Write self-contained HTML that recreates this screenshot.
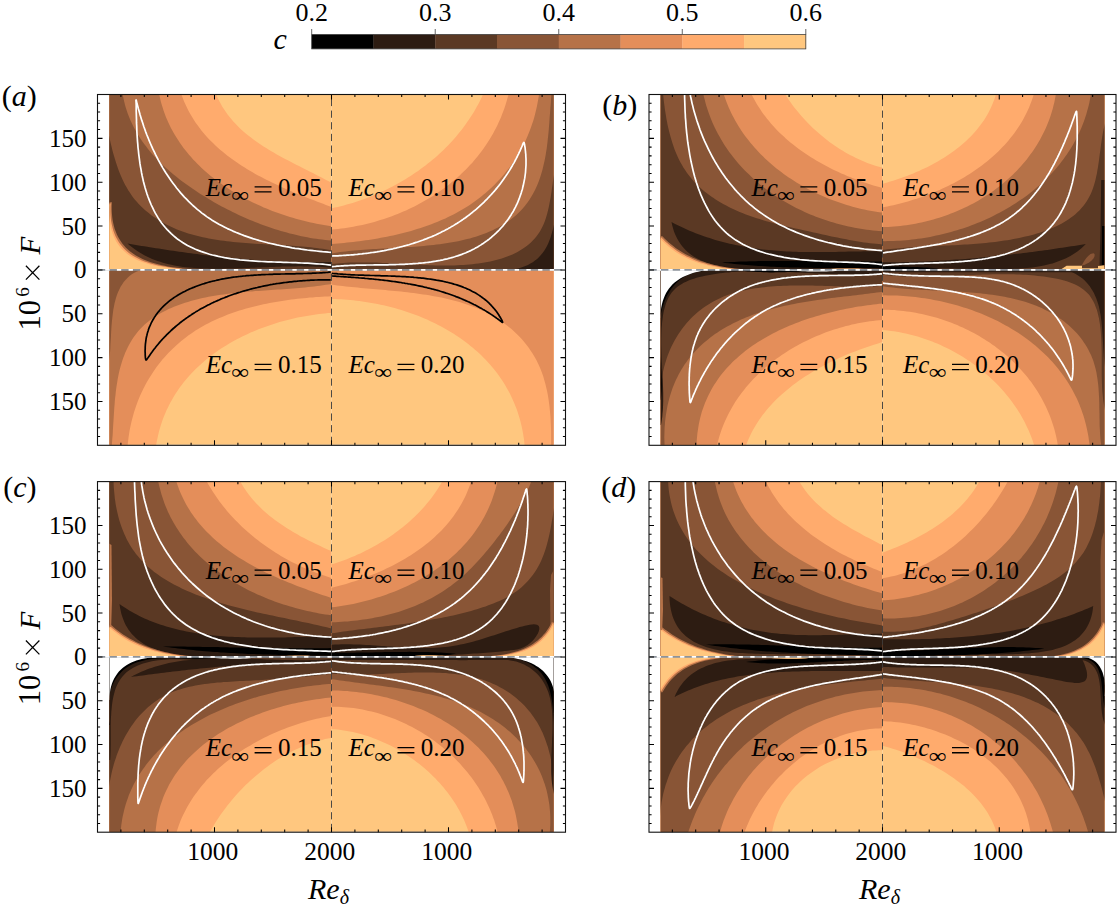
<!DOCTYPE html><html><head><meta charset="utf-8"><style>html,body{margin:0;padding:0;background:#fff;width:1117px;height:912px;overflow:hidden}svg{display:block}text{font-family:"Liberation Serif",serif}</style></head><body>
<svg width="1117" height="912" viewBox="0 0 1117 912">
<defs>
<clipPath id="cp_aUL"><rect x="109.4" y="94.9" width="222.10" height="175.00"/></clipPath>
<clipPath id="cp_aUR"><rect x="331.5" y="94.9" width="222.10" height="175.00"/></clipPath>
<clipPath id="cp_aLL"><rect x="109.4" y="269.9" width="222.10" height="174.90"/></clipPath>
<clipPath id="cp_aLR"><rect x="331.5" y="269.9" width="222.10" height="174.90"/></clipPath>
<clipPath id="cp_bUL"><rect x="660.7" y="94.9" width="221.80" height="175.00"/></clipPath>
<clipPath id="cp_bUR"><rect x="882.5" y="94.9" width="221.90" height="175.00"/></clipPath>
<clipPath id="cp_bLL"><rect x="660.7" y="269.9" width="221.80" height="174.90"/></clipPath>
<clipPath id="cp_bLR"><rect x="882.5" y="269.9" width="221.90" height="174.90"/></clipPath>
<clipPath id="cp_cUL"><rect x="109.4" y="482.1" width="222.10" height="174.80"/></clipPath>
<clipPath id="cp_cUR"><rect x="331.5" y="482.1" width="222.10" height="174.80"/></clipPath>
<clipPath id="cp_cLL"><rect x="109.4" y="656.9" width="222.10" height="174.80"/></clipPath>
<clipPath id="cp_cLR"><rect x="331.5" y="656.9" width="222.10" height="174.80"/></clipPath>
<clipPath id="cp_dUL"><rect x="660.7" y="482.1" width="221.80" height="174.80"/></clipPath>
<clipPath id="cp_dUR"><rect x="882.5" y="482.1" width="221.90" height="174.80"/></clipPath>
<clipPath id="cp_dLL"><rect x="660.7" y="656.9" width="221.80" height="174.80"/></clipPath>
<clipPath id="cp_dLR"><rect x="882.5" y="656.9" width="221.90" height="174.80"/></clipPath>
</defs>
<g clip-path="url(#cp_aUL)">
<path fill="#FFC77F" d="M103.4,88.9H337.5V275.9H103.4Z"/>
<path fill="#FFAB6D" d="M214.5,90.0L215.6,93.0L216.8,95.9L218.1,98.8L219.5,101.6L221.0,104.3L222.5,106.9L224.2,109.5L225.9,112.0L227.6,114.4L229.4,116.8L231.3,119.1L233.3,121.4L235.3,123.6L237.4,125.7L239.6,127.9L241.7,129.9L244.0,131.9L246.3,133.9L248.6,135.8L251.0,137.6L253.4,139.5L255.9,141.3L258.4,143.0L261.0,144.7L263.5,146.4L266.2,148.1L268.8,149.7L271.4,151.3L274.1,152.8L276.8,154.4L279.6,155.9L282.3,157.4L285.1,158.9L287.8,160.3L290.6,161.8L293.4,163.2L296.2,164.7L299.0,166.1L301.8,167.5L304.6,168.9L307.3,170.3L310.1,171.7L312.9,173.1L315.6,174.5L318.4,175.9L321.1,177.3L323.8,178.7L326.5,180.2L329.2,181.6L331.8,183.0L334.4,184.5L337.0,186.0L337.5,275.9L103.4,275.9L103.4,88.9Z"/>
<path fill="#E48E5A" d="M180.0,90.0L181.0,93.0L182.0,96.0L183.1,99.0L184.3,101.9L185.6,104.7L186.9,107.5L188.2,110.2L189.7,112.9L191.2,115.5L192.7,118.1L194.4,120.7L196.0,123.2L197.8,125.6L199.6,128.0L201.4,130.4L203.3,132.7L205.2,134.9L207.2,137.2L209.3,139.4L211.4,141.5L213.5,143.6L215.7,145.7L217.9,147.7L220.1,149.7L222.4,151.6L224.8,153.5L227.1,155.4L229.6,157.3L232.0,159.1L234.5,160.8L237.0,162.6L239.5,164.3L242.1,166.0L244.7,167.6L247.3,169.2L249.9,170.8L252.6,172.3L255.3,173.9L258.0,175.4L260.8,176.8L263.5,178.3L266.3,179.7L269.1,181.1L271.9,182.5L274.7,183.8L277.5,185.1L280.3,186.5L283.2,187.7L286.0,189.0L288.9,190.2L291.7,191.5L294.6,192.7L297.4,193.8L300.3,195.0L303.2,196.2L306.0,197.3L308.9,198.4L311.7,199.5L314.6,200.6L317.4,201.7L320.3,202.8L323.1,203.8L325.9,204.9L328.7,205.9L331.5,207.0L334.2,208.0L337.0,209.0L337.5,275.9L103.4,275.9L103.4,88.9Z"/>
<path fill="#B67248" d="M158.4,90.0L158.9,93.1L159.6,96.2L160.3,99.2L161.0,102.2L161.9,105.2L162.8,108.1L163.7,111.0L164.8,113.9L165.8,116.7L167.0,119.5L168.2,122.3L169.5,125.0L170.8,127.7L172.2,130.3L173.7,132.9L175.2,135.5L176.8,138.1L178.4,140.6L180.0,143.0L181.8,145.5L183.5,147.9L185.4,150.2L187.2,152.6L189.2,154.9L191.1,157.1L193.1,159.4L195.2,161.5L197.3,163.7L199.4,165.8L201.6,167.9L203.8,170.0L206.1,172.0L208.4,173.9L210.7,175.9L213.1,177.8L215.5,179.7L218.0,181.5L220.4,183.3L223.0,185.1L225.5,186.8L228.1,188.5L230.7,190.2L233.3,191.8L235.9,193.4L238.6,194.9L241.3,196.5L244.0,197.9L246.8,199.4L249.5,200.8L252.3,202.2L255.1,203.5L257.9,204.8L260.8,206.1L263.6,207.4L266.5,208.6L269.4,209.7L272.3,210.9L275.2,212.0L278.1,213.0L281.0,214.1L284.0,215.1L286.9,216.0L289.9,216.9L292.8,217.8L295.8,218.7L298.7,219.5L301.7,220.3L304.7,221.0L307.6,221.8L310.6,222.4L313.5,223.1L316.5,223.7L319.4,224.3L322.4,224.8L325.3,225.3L328.3,225.8L331.2,226.2L334.1,226.6L337.0,227.0L337.5,275.9L103.4,275.9L103.4,88.9Z"/>
<path fill="#895536" d="M122.0,90.0L122.4,93.1L123.0,96.1L123.6,99.1L124.3,102.1L125.0,105.0L125.9,107.9L126.8,110.7L127.7,113.5L128.8,116.3L129.9,119.0L131.1,121.7L132.3,124.3L133.6,126.9L135.0,129.5L136.4,132.1L137.9,134.6L139.4,137.1L141.0,139.5L142.7,141.9L144.4,144.3L146.2,146.6L148.0,148.9L149.8,151.2L151.7,153.4L153.7,155.7L155.7,157.8L157.7,160.0L159.8,162.1L162.0,164.2L164.1,166.3L166.3,168.3L168.6,170.3L170.9,172.3L173.2,174.2L175.5,176.1L177.9,178.0L180.3,179.9L182.7,181.7L185.2,183.5L187.7,185.3L190.2,187.1L192.7,188.8L195.3,190.5L197.8,192.2L200.4,193.9L203.0,195.5L205.7,197.1L208.3,198.7L210.9,200.3L213.6,201.9L216.3,203.4L219.0,204.9L221.7,206.4L224.4,207.8L227.1,209.2L229.9,210.6L232.6,212.0L235.4,213.3L238.2,214.7L241.0,215.9L243.8,217.2L246.6,218.4L249.4,219.7L252.2,220.8L255.1,222.0L257.9,223.1L260.7,224.2L263.6,225.3L266.5,226.3L269.4,227.3L272.2,228.3L275.1,229.2L278.0,230.1L280.9,231.0L283.9,231.8L286.8,232.6L289.7,233.4L292.6,234.1L295.6,234.8L298.5,235.5L301.4,236.2L304.4,236.8L307.3,237.3L310.3,237.9L313.3,238.4L316.2,238.8L319.2,239.2L322.1,239.6L325.1,240.0L328.1,240.3L331.1,240.6L334.0,240.8L337.0,241.0L337.5,275.9L103.4,275.9L103.4,88.9Z"/>
<path fill="#5B3924" d="M106.0,120.0L106.6,122.9L107.1,125.9L107.7,128.9L108.3,131.9L108.9,135.0L109.6,138.0L110.2,141.1L110.9,144.1L111.7,147.2L112.4,150.3L113.2,153.3L114.1,156.3L115.0,159.3L115.9,162.3L116.9,165.3L117.9,168.2L119.0,171.2L120.1,174.0L121.3,176.8L122.5,179.6L123.8,182.3L125.2,185.0L126.7,187.6L128.2,190.2L129.8,192.6L131.4,195.0L133.1,197.4L134.9,199.7L136.8,201.8L138.7,204.0L140.7,206.0L142.8,208.0L144.9,210.0L147.1,211.8L149.3,213.6L151.6,215.4L153.9,217.0L156.3,218.6L158.8,220.2L161.2,221.7L163.8,223.1L166.3,224.5L169.0,225.8L171.6,227.0L174.3,228.2L177.0,229.4L179.8,230.4L182.5,231.5L185.4,232.4L188.2,233.4L191.1,234.2L193.9,235.0L196.8,235.8L199.8,236.5L202.7,237.2L205.7,237.8L208.7,238.4L211.7,239.0L214.7,239.5L217.8,240.0L220.8,240.4L223.9,240.8L226.9,241.2L230.0,241.6L233.1,241.9L236.2,242.2L239.3,242.5L242.5,242.8L245.6,243.0L248.7,243.2L251.9,243.5L255.0,243.7L258.1,243.9L261.3,244.0L264.4,244.2L267.6,244.4L270.7,244.6L273.8,244.7L277.0,244.9L280.1,245.1L283.2,245.2L286.3,245.4L289.4,245.6L292.5,245.8L295.6,246.0L298.7,246.3L301.7,246.5L304.8,246.8L307.8,247.0L310.8,247.3L313.8,247.7L316.8,248.0L319.7,248.4L322.7,248.8L325.6,249.2L328.5,249.7L331.3,250.2L334.2,250.7L337.0,251.3L337.5,275.9L103.4,275.9L103.4,120.0Z"/>
<path fill="#2D1C12" d="M127.5,243.5L130.3,244.0L133.1,244.4L135.9,244.9L138.7,245.4L141.5,245.9L144.3,246.3L147.2,246.8L150.0,247.3L152.9,247.7L155.8,248.2L158.7,248.6L161.6,249.1L164.5,249.5L167.4,250.0L170.3,250.4L173.2,250.8L176.2,251.3L179.1,251.7L182.1,252.1L185.1,252.5L188.0,252.9L191.0,253.3L194.0,253.7L197.0,254.1L200.0,254.5L203.0,254.9L206.0,255.2L209.0,255.6L212.0,255.9L215.1,256.3L218.1,256.6L221.1,256.9L224.2,257.3L227.2,257.6L230.2,257.9L233.3,258.2L236.4,258.5L239.4,258.8L242.5,259.0L245.5,259.3L248.6,259.5L251.6,259.8L254.7,260.0L257.8,260.2L260.8,260.4L263.9,260.6L267.0,260.8L270.0,261.0L273.1,261.2L276.2,261.3L279.2,261.5L282.3,261.6L285.4,261.7L288.4,261.8L291.5,261.9L294.6,262.0L297.6,262.1L300.7,262.1L303.7,262.2L306.8,262.2L309.8,262.2L312.8,262.2L315.9,262.2L318.9,262.2L321.9,262.1L325.0,262.1L328.0,262.0L331.0,261.9L334.0,261.8L337.0,261.7L337.0,268.3L334.1,268.0L331.1,267.7L328.2,267.4L325.2,267.2L322.2,267.0L319.2,266.8L316.2,266.7L313.2,266.5L310.2,266.5L307.1,266.4L304.1,266.4L301.0,266.3L297.9,266.3L294.8,266.4L291.7,266.4L288.6,266.5L285.5,266.5L282.4,266.6L279.3,266.7L276.2,266.8L273.0,266.9L269.9,267.0L266.8,267.2L263.6,267.3L260.5,267.4L257.3,267.6L254.2,267.7L251.0,267.8L247.9,268.0L244.7,268.1L241.6,268.2L238.4,268.3L235.3,268.4L232.2,268.5L229.0,268.6L225.9,268.6L222.8,268.7L219.6,268.7L216.5,268.7L213.4,268.7L210.3,268.7L207.2,268.6L204.2,268.6L201.1,268.4L198.1,268.3L195.0,268.1L192.0,267.8L189.0,267.6L186.0,267.2L183.1,266.9L180.1,266.4L177.2,266.0L174.3,265.4L171.4,264.8L168.6,264.2L165.8,263.5L163.0,262.7L160.2,261.8L157.5,260.9L154.8,259.9L152.1,258.9L149.5,257.7L146.9,256.5L144.3,255.2L141.8,253.8L139.3,252.3L136.9,250.8L134.5,249.1L132.1,247.3L129.8,245.5L127.5,243.5Z"/>
<path fill="#B67248" d="M103.4,202.2L111.9,202.2L111.7,206.0L111.7,209.7L111.9,213.3L112.2,216.7L112.6,219.9L113.2,223.1L113.9,226.0L114.7,228.9L115.7,231.6L116.8,234.2L118.0,236.7L119.3,239.1L120.8,241.3L122.3,243.4L124.0,245.5L125.7,247.4L127.6,249.2L129.5,250.9L131.6,252.5L133.7,254.0L135.9,255.4L138.2,256.8L140.6,258.0L143.0,259.2L145.5,260.2L148.1,261.2L150.8,262.2L153.5,263.0L156.2,263.8L159.0,264.6L161.9,265.2L164.8,265.8L167.7,266.4L170.7,266.9L173.7,267.3L176.8,267.7L179.9,268.1L183.0,268.4L186.1,268.7L189.2,269.0L192.4,269.2L195.5,269.4L198.7,269.5L201.9,269.7L205.1,269.8L208.2,269.9L211.4,270.0L214.6,270.1L217.7,270.1L220.9,270.2L224.0,270.2L227.2,270.2L230.3,270.2L233.5,270.2L236.6,270.2L239.8,270.2L242.9,270.2L246.0,270.1L249.1,270.1L252.3,270.1L255.4,270.0L258.5,270.0L261.6,269.9L264.7,269.9L267.8,269.8L270.9,269.7L274.0,269.7L277.0,269.6L280.1,269.6L283.2,269.6L286.2,269.5L289.3,269.5L292.3,269.5L295.3,269.5L298.4,269.4L301.4,269.5L304.4,269.5L307.4,269.5L310.4,269.5L313.4,269.6L316.4,269.7L319.4,269.7L322.3,269.8L325.3,270.0L328.2,270.1L331.2,270.2L334.1,270.4L337.0,270.6L337.5,275.9L103.4,275.9Z"/>
<path fill="#FFAB6D" d="M103.4,203.5L110.6,203.5L110.4,207.4L110.4,211.2L110.5,214.7L110.8,218.2L111.2,221.5L111.8,224.6L112.5,227.6L113.3,230.5L114.3,233.3L115.4,235.9L116.6,238.3L118.0,240.7L119.4,242.9L121.0,245.0L122.6,247.0L124.4,248.9L126.3,250.7L128.3,252.4L130.3,253.9L132.5,255.4L134.7,256.8L137.1,258.1L139.5,259.3L142.0,260.4L144.5,261.4L147.1,262.3L149.8,263.2L152.5,264.0L155.3,264.8L158.2,265.4L161.1,266.0L164.0,266.6L167.0,267.1L170.0,267.5L173.1,267.9L176.1,268.3L179.3,268.6L182.4,268.9L185.5,269.1L188.7,269.3L191.9,269.5L195.1,269.6L198.2,269.7L201.4,269.8L204.6,269.9L207.8,270.0L211.0,270.1L214.1,270.1L217.3,270.2L220.5,270.2L223.6,270.2L226.8,270.2L229.9,270.2L233.1,270.2L236.2,270.2L239.4,270.1L242.5,270.1L245.6,270.1L248.8,270.0L251.9,270.0L255.0,269.9L258.1,269.9L261.2,269.8L264.3,269.8L267.4,269.7L270.5,269.7L273.6,269.7L276.7,269.6L279.7,269.6L282.8,269.5L285.9,269.5L288.9,269.5L292.0,269.5L295.0,269.5L298.1,269.5L301.1,269.5L304.1,269.5L307.1,269.5L310.2,269.6L313.2,269.6L316.2,269.7L319.2,269.8L322.1,269.9L325.1,270.0L328.1,270.1L331.1,270.3L334.0,270.4L337.0,270.6L337.5,275.9L103.4,275.9Z"/>
<path fill="#FFC77F" d="M103.4,204.7L109.4,204.7L109.2,208.6L109.2,212.4L109.3,216.0L109.5,219.4L109.9,222.7L110.5,225.9L111.2,228.9L112.0,231.8L112.9,234.5L114.0,237.1L115.2,239.6L116.5,241.9L117.9,244.1L119.5,246.2L121.1,248.2L122.9,250.0L124.8,251.8L126.7,253.4L128.8,255.0L130.9,256.4L133.1,257.7L135.4,259.0L137.8,260.2L140.3,261.2L142.8,262.2L145.4,263.1L148.1,264.0L150.8,264.7L153.6,265.4L156.4,266.1L159.3,266.6L162.2,267.1L165.2,267.6L168.2,268.0L171.2,268.3L174.3,268.7L177.4,268.9L180.5,269.2L183.6,269.4L186.8,269.5L189.9,269.7L193.1,269.8L196.3,269.9L199.4,269.9L202.6,270.0L205.8,270.0L208.9,270.1L212.1,270.1L215.2,270.1L218.4,270.2L221.5,270.2L224.6,270.2L227.7,270.1L230.9,270.1L234.0,270.1L237.1,270.1L240.2,270.1L243.3,270.0L246.4,270.0L249.4,269.9L252.5,269.9L255.6,269.9L258.7,269.8L261.7,269.8L264.8,269.7L267.9,269.7L270.9,269.7L274.0,269.6L277.0,269.6L280.0,269.6L283.1,269.5L286.1,269.5L289.1,269.5L292.1,269.5L295.2,269.5L298.2,269.5L301.2,269.5L304.2,269.6L307.2,269.6L310.2,269.6L313.2,269.7L316.2,269.8L319.1,269.8L322.1,269.9L325.1,270.0L328.1,270.2L331.1,270.3L334.0,270.4L337.0,270.6L337.5,275.9L103.4,275.9Z"/>
</g>
<g clip-path="url(#cp_aUR)">
<path fill="#FFC77F" d="M325.5,88.9H559.6V275.9H325.5Z"/>
<path fill="#FFAB6D" d="M326.0,209.5L329.0,208.9L332.0,208.3L334.9,207.6L337.9,206.9L340.9,206.2L343.8,205.4L346.7,204.6L349.7,203.7L352.6,202.9L355.5,201.9L358.4,201.0L361.3,200.0L364.2,199.0L367.0,197.9L369.9,196.8L372.7,195.6L375.5,194.5L378.3,193.3L381.1,192.0L383.9,190.7L386.7,189.4L389.4,188.1L392.1,186.7L394.8,185.3L397.5,183.8L400.1,182.3L402.8,180.8L405.4,179.2L408.0,177.6L410.6,176.0L413.1,174.3L415.6,172.6L418.1,170.9L420.6,169.1L423.0,167.3L425.5,165.5L427.8,163.6L430.2,161.8L432.5,159.8L434.8,157.9L437.1,155.9L439.4,153.8L441.6,151.8L443.8,149.7L445.9,147.5L448.0,145.4L450.1,143.2L452.2,141.0L454.2,138.7L456.2,136.4L458.1,134.1L460.0,131.8L461.9,129.4L463.7,127.0L465.5,124.5L467.2,122.1L469.0,119.6L470.6,117.0L472.3,114.5L473.9,111.9L475.4,109.2L476.9,106.6L478.4,103.9L479.8,101.2L481.2,98.4L482.5,95.6L483.8,92.8L485.0,90.0L559.6,88.9L559.6,275.9L325.5,275.9Z"/>
<path fill="#E48E5A" d="M326.0,230.0L329.0,229.8L332.1,229.5L335.1,229.3L338.2,228.9L341.2,228.6L344.3,228.2L347.3,227.7L350.3,227.2L353.4,226.7L356.4,226.1L359.4,225.5L362.4,224.9L365.4,224.2L368.4,223.4L371.4,222.7L374.3,221.9L377.3,221.0L380.2,220.1L383.2,219.2L386.1,218.2L389.0,217.2L391.9,216.2L394.8,215.1L397.6,214.0L400.5,212.8L403.3,211.6L406.1,210.4L408.9,209.1L411.6,207.8L414.4,206.4L417.1,205.0L419.8,203.6L422.5,202.1L425.1,200.6L427.8,199.1L430.4,197.5L432.9,195.9L435.5,194.2L438.0,192.5L440.5,190.8L443.0,189.1L445.4,187.3L447.8,185.4L450.2,183.5L452.5,181.6L454.8,179.7L457.1,177.7L459.4,175.7L461.6,173.6L463.7,171.6L465.9,169.4L468.0,167.3L470.0,165.1L472.1,162.9L474.1,160.6L476.0,158.3L477.9,156.0L479.8,153.6L481.6,151.2L483.4,148.8L485.1,146.3L486.8,143.8L488.4,141.3L490.0,138.7L491.6,136.1L493.1,133.5L494.5,130.8L496.0,128.1L497.3,125.4L498.6,122.6L499.9,119.8L501.1,116.9L502.2,114.1L503.3,111.2L504.4,108.3L505.4,105.3L506.3,102.3L507.2,99.3L508.0,96.2L508.8,93.1L509.5,90.0L559.6,88.9L559.6,275.9L325.5,275.9Z"/>
<path fill="#B67248" d="M326.0,244.5L329.0,244.3L332.0,244.0L335.0,243.8L338.1,243.5L341.1,243.2L344.1,242.9L347.2,242.6L350.2,242.3L353.3,241.9L356.4,241.6L359.4,241.2L362.5,240.8L365.6,240.3L368.6,239.9L371.7,239.4L374.8,238.9L377.8,238.4L380.9,237.8L383.9,237.3L387.0,236.7L390.0,236.0L393.1,235.4L396.1,234.7L399.1,234.0L402.1,233.3L405.1,232.5L408.1,231.7L411.1,230.9L414.0,230.0L417.0,229.1L419.9,228.2L422.8,227.3L425.7,226.3L428.6,225.3L431.4,224.2L434.3,223.1L437.1,222.0L439.9,220.8L442.7,219.6L445.4,218.4L448.1,217.1L450.8,215.8L453.5,214.4L456.2,213.0L458.8,211.6L461.4,210.1L464.0,208.6L466.5,207.0L469.0,205.4L471.5,203.7L473.9,202.0L476.3,200.3L478.7,198.5L481.0,196.7L483.3,194.8L485.6,192.9L487.8,190.9L490.0,189.0L492.2,186.9L494.3,184.9L496.4,182.7L498.5,180.6L500.5,178.4L502.4,176.2L504.3,173.9L506.2,171.6L508.1,169.3L509.9,166.9L511.6,164.5L513.3,162.0L515.0,159.6L516.6,157.0L518.1,154.5L519.7,151.9L521.1,149.3L522.6,146.6L523.9,143.9L525.3,141.2L526.5,138.4L527.8,135.6L528.9,132.8L530.0,129.9L531.1,127.1L532.1,124.1L533.1,121.2L534.0,118.2L534.8,115.2L535.6,112.1L536.3,109.1L537.0,105.9L537.6,102.8L538.2,99.6L538.7,96.5L539.1,93.2L539.5,90.0L559.6,88.9L559.6,275.9L325.5,275.9Z"/>
<path fill="#895536" d="M326.0,254.4L328.8,253.9L331.5,253.4L334.3,252.9L337.2,252.5L340.1,252.1L343.0,251.7L345.9,251.4L348.8,251.1L351.8,250.8L354.8,250.5L357.8,250.2L360.9,250.0L363.9,249.7L367.0,249.5L370.1,249.3L373.2,249.1L376.4,248.9L379.5,248.8L382.6,248.6L385.8,248.4L389.0,248.2L392.2,248.1L395.3,247.9L398.5,247.7L401.7,247.5L404.9,247.3L408.1,247.1L411.3,246.9L414.5,246.7L417.7,246.5L420.8,246.2L424.0,245.9L427.2,245.6L430.3,245.3L433.5,245.0L436.6,244.6L439.8,244.2L442.9,243.8L446.0,243.3L449.0,242.8L452.1,242.3L455.1,241.8L458.2,241.2L461.2,240.5L464.1,239.8L467.1,239.1L470.0,238.4L472.9,237.5L475.8,236.7L478.6,235.8L481.4,234.8L484.2,233.8L486.9,232.7L489.6,231.6L492.3,230.4L494.9,229.1L497.5,227.8L500.0,226.4L502.5,225.0L505.0,223.5L507.4,221.9L509.7,220.3L512.0,218.6L514.2,216.8L516.3,215.0L518.4,213.0L520.4,211.0L522.3,209.0L524.2,206.8L526.0,204.6L527.7,202.3L529.3,200.0L530.8,197.6L532.3,195.1L533.7,192.5L535.0,189.9L536.3,187.2L537.5,184.5L538.6,181.7L539.6,178.9L540.6,176.0L541.5,173.1L542.4,170.1L543.1,167.1L543.8,164.1L544.5,161.0L545.1,157.9L545.7,154.8L546.2,151.6L546.7,148.5L547.1,145.3L547.5,142.1L547.8,138.9L548.2,135.7L548.5,132.5L548.8,129.3L549.0,126.2L549.3,123.0L549.5,119.8L549.7,116.7L550.0,113.6L550.2,110.5L550.4,107.5L550.7,104.4L550.9,101.5L551.1,98.5L551.4,95.6L551.7,92.8L552.0,90.0L559.6,88.9L559.6,275.9L325.5,275.9Z"/>
<path fill="#5B3924" d="M326.0,264.9L328.9,264.5L331.8,264.1L334.7,263.7L337.6,263.4L340.6,263.2L343.5,263.0L346.5,262.8L349.5,262.6L352.5,262.5L355.5,262.4L358.5,262.4L361.5,262.4L364.6,262.4L367.6,262.4L370.7,262.5L373.7,262.6L376.8,262.6L379.9,262.8L383.0,262.9L386.1,263.0L389.1,263.2L392.2,263.3L395.4,263.5L398.5,263.7L401.6,263.8L404.7,264.0L407.8,264.2L410.9,264.4L414.0,264.5L417.1,264.7L420.3,264.8L423.4,265.0L426.5,265.1L429.6,265.2L432.7,265.3L435.8,265.4L438.9,265.5L442.0,265.5L445.1,265.5L448.2,265.5L451.2,265.5L454.3,265.4L457.4,265.3L460.4,265.1L463.5,265.0L466.5,264.7L469.5,264.5L472.5,264.2L475.5,263.8L478.5,263.5L481.5,263.0L484.5,262.5L487.4,262.0L490.3,261.4L493.2,260.8L496.1,260.0L499.0,259.3L501.8,258.4L504.5,257.5L507.2,256.6L509.9,255.5L512.5,254.4L515.0,253.2L517.5,251.9L519.9,250.6L522.3,249.1L524.6,247.6L526.7,246.0L528.9,244.3L530.9,242.5L532.8,240.6L534.7,238.6L536.4,236.5L538.0,234.3L539.6,232.0L541.0,229.6L542.3,227.1L543.5,224.5L544.6,221.8L545.6,219.0L546.5,216.1L547.3,213.2L548.1,210.1L548.8,207.1L549.4,204.0L550.0,200.8L550.6,197.7L551.1,194.5L551.6,191.3L552.0,188.1L552.5,184.9L552.9,181.7L553.4,178.5L553.9,175.4L554.3,172.3L554.8,169.2L555.4,166.2L556.0,163.3L556.6,160.5L557.3,157.7L558.0,155.0L559.6,155.0L559.6,275.9L325.5,275.9Z"/>
<path fill="#2D1C12" d="M470.0,270.0L473.1,270.3L476.2,270.6L479.4,270.9L482.6,271.1L485.8,271.3L489.1,271.3L492.3,271.4L495.5,271.3L498.7,271.2L501.9,271.0L505.0,270.7L508.1,270.4L511.2,269.9L514.2,269.3L517.1,268.7L519.9,267.9L522.7,267.0L525.4,266.0L528.0,264.9L530.4,263.6L532.8,262.2L535.0,260.6L537.1,259.0L539.1,257.1L540.9,255.1L542.6,253.0L544.2,250.8L545.6,248.4L547.0,245.9L548.2,243.4L549.3,240.7L550.4,237.9L551.3,235.1L552.1,232.2L552.9,229.2L553.6,226.2L554.3,223.1L554.8,220.0L555.4,216.9L555.8,213.8L556.3,210.6L556.7,207.5L557.0,204.3L557.4,201.2L557.7,198.1L558.0,195.0L559.6,195.0L559.6,275.9L325.5,275.9Z"/>
</g>
<g clip-path="url(#cp_aLL)">
<path fill="#FFC77F" d="M103.4,263.9H337.5V450.8H103.4Z"/>
<path fill="#FFAB6D" d="M337.0,312.5L334.0,312.7L331.0,312.9L328.0,313.1L324.9,313.4L321.9,313.7L318.9,314.1L315.8,314.5L312.8,314.9L309.8,315.4L306.7,315.9L303.7,316.4L300.7,317.0L297.6,317.6L294.6,318.3L291.6,319.0L288.6,319.7L285.6,320.5L282.6,321.3L279.6,322.1L276.6,323.0L273.7,323.9L270.7,324.9L267.8,325.9L264.9,326.9L262.0,328.0L259.1,329.1L256.3,330.2L253.4,331.4L250.6,332.6L247.8,333.9L245.0,335.2L242.2,336.5L239.5,337.9L236.8,339.3L234.1,340.8L231.4,342.3L228.8,343.8L226.2,345.4L223.6,347.0L221.1,348.6L218.6,350.3L216.1,352.1L213.7,353.8L211.2,355.6L208.9,357.5L206.5,359.3L204.2,361.3L202.0,363.2L199.8,365.2L197.6,367.2L195.4,369.3L193.3,371.4L191.3,373.6L189.3,375.8L187.3,378.0L185.4,380.3L183.5,382.6L181.7,385.0L179.9,387.3L178.2,389.8L176.5,392.2L174.9,394.8L173.4,397.3L171.9,399.9L170.4,402.5L169.0,405.2L167.7,407.9L166.4,410.6L165.2,413.4L164.0,416.3L162.9,419.1L161.9,422.0L160.9,425.0L160.0,428.0L159.1,431.0L158.4,434.1L157.7,437.2L157.0,440.3L156.4,443.5L155.9,446.7L155.5,450.0L155.5,450.8L103.4,450.8L103.4,263.9L337.5,263.9Z"/>
<path fill="#E48E5A" d="M337.0,296.0L334.0,296.1L331.0,296.2L328.0,296.4L325.0,296.5L322.0,296.7L318.9,296.9L315.9,297.1L312.8,297.4L309.7,297.6L306.6,297.9L303.6,298.2L300.5,298.5L297.4,298.8L294.3,299.2L291.2,299.6L288.1,300.0L285.0,300.4L281.9,300.9L278.8,301.4L275.7,301.9L272.6,302.5L269.6,303.1L266.5,303.7L263.4,304.3L260.4,305.0L257.4,305.7L254.3,306.4L251.3,307.2L248.3,308.0L245.3,308.8L242.4,309.7L239.4,310.6L236.5,311.6L233.6,312.6L230.7,313.6L227.8,314.6L225.0,315.7L222.2,316.9L219.4,318.1L216.6,319.3L213.9,320.5L211.1,321.8L208.5,323.2L205.8,324.6L203.2,326.0L200.6,327.5L198.1,329.0L195.5,330.6L193.1,332.2L190.6,333.9L188.2,335.6L185.8,337.4L183.5,339.2L181.2,341.0L179.0,342.9L176.7,344.9L174.6,346.9L172.4,348.9L170.4,350.9L168.3,353.1L166.3,355.2L164.3,357.4L162.4,359.6L160.5,361.9L158.7,364.2L156.9,366.6L155.2,369.0L153.5,371.4L151.9,373.9L150.3,376.4L148.7,378.9L147.2,381.5L145.8,384.1L144.4,386.8L143.0,389.4L141.7,392.2L140.4,394.9L139.2,397.7L138.1,400.5L137.0,403.4L136.0,406.3L135.0,409.2L134.0,412.2L133.2,415.2L132.4,418.2L131.6,421.2L130.9,424.3L130.2,427.4L129.6,430.6L129.1,433.7L128.6,436.9L128.2,440.2L127.8,443.4L127.5,446.7L127.3,450.0L127.3,450.8L103.4,450.8L103.4,263.9L337.5,263.9Z"/>
<path fill="#B67248" d="M337.0,282.8L334.2,283.3L331.4,283.9L328.6,284.4L325.8,284.8L322.9,285.3L320.0,285.7L317.1,286.1L314.2,286.4L311.2,286.8L308.2,287.1L305.2,287.4L302.1,287.7L299.1,288.0L296.0,288.2L293.0,288.5L289.9,288.7L286.8,288.9L283.6,289.2L280.5,289.4L277.4,289.6L274.2,289.8L271.1,290.0L267.9,290.2L264.8,290.4L261.6,290.7L258.4,290.9L255.3,291.1L252.1,291.4L248.9,291.6L245.8,291.9L242.6,292.2L239.4,292.5L236.3,292.8L233.2,293.2L230.0,293.5L226.9,293.9L223.8,294.4L220.7,294.8L217.6,295.3L214.6,295.8L211.5,296.3L208.5,296.8L205.5,297.4L202.5,298.1L199.5,298.8L196.6,299.5L193.6,300.2L190.7,301.0L187.9,301.9L185.0,302.7L182.2,303.7L179.4,304.7L176.7,305.7L173.9,306.8L171.3,307.9L168.6,309.1L166.0,310.4L163.4,311.7L160.9,313.1L158.4,314.5L156.0,316.1L153.6,317.6L151.3,319.3L149.0,321.0L146.8,322.8L144.7,324.6L142.7,326.6L140.7,328.6L138.8,330.6L137.0,332.8L135.3,335.0L133.6,337.3L132.0,339.7L130.5,342.2L129.1,344.7L127.8,347.3L126.5,349.9L125.3,352.6L124.2,355.4L123.1,358.2L122.2,361.0L121.3,363.9L120.4,366.9L119.6,369.9L118.9,372.9L118.3,376.0L117.7,379.1L117.2,382.2L116.7,385.3L116.2,388.5L115.8,391.7L115.5,394.9L115.1,398.1L114.8,401.3L114.6,404.5L114.3,407.7L114.1,410.9L113.9,414.1L113.7,417.2L113.5,420.4L113.3,423.5L113.1,426.6L112.9,429.7L112.8,432.7L112.6,435.7L112.3,438.7L112.1,441.6L111.9,444.4L111.6,447.2L111.3,450.0L111.3,450.8L103.4,450.8L103.4,263.9L337.5,263.9Z"/>
<path fill="#895536" d="M150.0,268.0L146.4,268.5L143.1,269.3L139.9,270.3L137.0,271.4L134.3,272.8L131.8,274.3L129.5,276.0L127.4,277.9L125.5,279.9L123.7,282.1L122.1,284.4L120.6,286.8L119.3,289.4L118.1,292.0L117.0,294.8L116.1,297.6L115.3,300.6L114.5,303.6L113.9,306.7L113.3,309.8L112.9,313.0L112.5,316.2L112.1,319.4L111.8,322.7L111.5,326.0L111.3,329.2L111.1,332.5L111.0,335.7L110.8,339.0L110.6,342.1L110.4,345.3L110.3,348.4L110.1,351.4L109.8,354.3L109.5,357.2L109.2,360.0L103.4,360.0L103.4,263.9Z"/>
</g>
<g clip-path="url(#cp_aLR)">
<path fill="#FFC77F" d="M325.5,263.9H559.6V450.8H325.5Z"/>
<path fill="#FFAB6D" d="M326.0,298.9L329.0,298.9L332.0,299.0L335.1,299.1L338.1,299.2L341.1,299.3L344.2,299.5L347.2,299.8L350.3,300.0L353.3,300.3L356.4,300.7L359.4,301.0L362.4,301.4L365.5,301.9L368.5,302.4L371.5,302.9L374.6,303.4L377.6,304.0L380.6,304.7L383.6,305.3L386.6,306.0L389.6,306.8L392.6,307.5L395.5,308.3L398.5,309.2L401.4,310.1L404.3,311.0L407.2,311.9L410.1,312.9L413.0,314.0L415.9,315.0L418.7,316.1L421.5,317.3L424.4,318.4L427.1,319.6L429.9,320.9L432.6,322.2L435.4,323.5L438.1,324.9L440.7,326.3L443.4,327.7L446.0,329.2L448.6,330.7L451.1,332.2L453.7,333.8L456.2,335.4L458.6,337.0L461.1,338.7L463.5,340.5L465.9,342.2L468.2,344.0L470.5,345.9L472.8,347.7L475.0,349.7L477.2,351.6L479.4,353.6L481.5,355.6L483.6,357.7L485.7,359.8L487.7,361.9L489.6,364.1L491.5,366.3L493.4,368.5L495.2,370.8L497.0,373.1L498.8,375.5L500.5,377.9L502.1,380.3L503.7,382.8L505.2,385.3L506.7,387.9L508.2,390.4L509.6,393.1L510.9,395.7L512.2,398.4L513.4,401.2L514.6,403.9L515.7,406.7L516.8,409.6L517.8,412.5L518.7,415.4L519.6,418.3L520.4,421.3L521.2,424.4L521.9,427.5L522.5,430.6L523.1,433.7L523.6,436.9L524.1,440.1L524.4,443.4L524.7,446.7L525.0,450.0L525.0,450.8L559.6,450.8L559.6,263.9L325.5,263.9Z"/>
<path fill="#E48E5A" d="M326.0,283.8L328.8,284.2L331.5,284.6L334.3,285.0L337.2,285.4L340.0,285.7L342.9,286.1L345.8,286.4L348.8,286.7L351.7,287.0L354.7,287.3L357.7,287.6L360.7,287.9L363.8,288.2L366.8,288.4L369.9,288.7L373.0,289.0L376.1,289.2L379.2,289.5L382.3,289.8L385.4,290.1L388.5,290.4L391.7,290.7L394.8,291.0L398.0,291.3L401.1,291.6L404.3,291.9L407.4,292.3L410.5,292.7L413.7,293.1L416.8,293.5L420.0,293.9L423.1,294.4L426.2,294.8L429.3,295.3L432.4,295.9L435.5,296.4L438.5,297.0L441.6,297.6L444.6,298.3L447.6,299.0L450.6,299.7L453.6,300.5L456.6,301.3L459.5,302.1L462.4,303.0L465.3,303.9L468.2,304.9L471.0,305.9L473.8,306.9L476.6,308.0L479.3,309.2L482.0,310.4L484.7,311.6L487.3,312.9L489.9,314.3L492.5,315.7L495.0,317.2L497.5,318.7L499.9,320.3L502.3,322.0L504.7,323.7L507.0,325.4L509.2,327.2L511.5,329.1L513.6,331.0L515.7,332.9L517.8,334.9L519.8,337.0L521.7,339.1L523.6,341.2L525.4,343.5L527.2,345.7L528.9,348.0L530.5,350.4L532.1,352.8L533.6,355.3L535.1,357.8L536.5,360.3L537.8,362.9L539.0,365.6L540.2,368.3L541.3,371.0L542.3,373.8L543.3,376.6L544.1,379.5L545.0,382.4L545.7,385.3L546.4,388.3L547.1,391.2L547.7,394.3L548.2,397.3L548.7,400.4L549.1,403.4L549.5,406.5L549.8,409.7L550.1,412.8L550.4,415.9L550.6,419.0L550.7,422.2L550.9,425.3L551.0,428.4L551.1,431.5L551.1,434.6L551.1,437.8L551.1,440.8L551.1,443.9L551.1,447.0L551.0,450.0L551.0,450.8L559.6,450.8L559.6,263.9L325.5,263.9Z"/>
</g>
<g clip-path="url(#cp_bUL)">
<path fill="#FFC77F" d="M654.7,88.9H888.5V275.9H654.7Z"/>
<path fill="#FFAB6D" d="M782.5,90.0L784.0,92.5L785.6,95.1L787.2,97.6L788.9,100.1L790.7,102.5L792.4,105.0L794.3,107.4L796.2,109.8L798.1,112.1L800.1,114.5L802.1,116.8L804.1,119.1L806.2,121.3L808.4,123.6L810.6,125.7L812.8,127.9L815.1,130.0L817.4,132.1L819.7,134.1L822.1,136.1L824.5,138.1L827.0,140.0L829.4,141.9L832.0,143.7L834.5,145.5L837.1,147.3L839.7,148.9L842.4,150.6L845.0,152.2L847.7,153.7L850.5,155.2L853.2,156.6L856.0,158.0L858.8,159.3L861.6,160.6L864.5,161.7L867.3,162.9L870.2,164.0L873.2,165.0L876.1,165.9L879.0,166.8L882.0,167.6L885.0,168.3L888.0,169.0L888.5,275.9L654.7,275.9L654.7,88.9Z"/>
<path fill="#E48E5A" d="M749.5,90.0L750.8,92.8L752.1,95.6L753.6,98.3L755.1,101.0L756.6,103.7L758.2,106.3L759.9,108.8L761.6,111.4L763.3,113.9L765.2,116.3L767.0,118.7L769.0,121.1L770.9,123.4L773.0,125.7L775.0,128.0L777.1,130.2L779.3,132.4L781.5,134.5L783.8,136.6L786.0,138.7L788.4,140.7L790.7,142.7L793.1,144.6L795.6,146.5L798.1,148.4L800.6,150.2L803.1,152.0L805.7,153.8L808.3,155.5L810.9,157.2L813.6,158.8L816.2,160.4L819.0,162.0L821.7,163.6L824.4,165.1L827.2,166.5L830.0,168.0L832.8,169.4L835.6,170.7L838.5,172.1L841.3,173.4L844.2,174.6L847.1,175.9L850.0,177.0L852.9,178.2L855.8,179.3L858.7,180.4L861.6,181.5L864.6,182.5L867.5,183.5L870.4,184.4L873.4,185.4L876.3,186.3L879.2,187.1L882.2,187.9L885.1,188.7L888.0,189.5L888.5,275.9L654.7,275.9L654.7,88.9Z"/>
<path fill="#B67248" d="M722.5,90.0L723.4,92.9L724.3,95.9L725.3,98.8L726.3,101.6L727.5,104.4L728.6,107.2L729.9,110.0L731.1,112.7L732.5,115.4L733.9,118.1L735.3,120.7L736.8,123.3L738.4,125.9L740.0,128.4L741.6,130.9L743.3,133.4L745.1,135.9L746.9,138.3L748.7,140.6L750.6,143.0L752.6,145.3L754.5,147.6L756.6,149.8L758.6,152.0L760.7,154.2L762.9,156.3L765.0,158.4L767.3,160.5L769.5,162.5L771.8,164.5L774.1,166.4L776.5,168.4L778.9,170.3L781.3,172.1L783.7,173.9L786.2,175.7L788.7,177.4L791.3,179.1L793.9,180.8L796.5,182.4L799.1,184.0L801.7,185.5L804.4,187.1L807.1,188.5L809.8,190.0L812.5,191.4L815.3,192.7L818.1,194.0L820.9,195.3L823.7,196.5L826.5,197.7L829.3,198.9L832.2,200.0L835.1,201.1L838.0,202.1L840.9,203.1L843.8,204.1L846.7,205.0L849.6,205.8L852.5,206.7L855.5,207.5L858.4,208.2L861.4,208.9L864.3,209.6L867.3,210.2L870.2,210.8L873.2,211.3L876.2,211.8L879.1,212.2L882.1,212.6L885.0,213.0L888.0,213.3L888.5,275.9L654.7,275.9L654.7,88.9Z"/>
<path fill="#895536" d="M702.5,90.0L703.1,93.1L703.8,96.3L704.6,99.3L705.4,102.4L706.2,105.4L707.2,108.4L708.2,111.4L709.2,114.3L710.3,117.2L711.4,120.1L712.6,122.9L713.9,125.7L715.2,128.5L716.6,131.2L718.0,133.9L719.5,136.6L721.0,139.2L722.5,141.8L724.1,144.4L725.8,146.9L727.5,149.4L729.2,151.9L731.0,154.3L732.9,156.7L734.7,159.1L736.7,161.4L738.6,163.7L740.6,166.0L742.7,168.2L744.8,170.4L746.9,172.5L749.1,174.6L751.3,176.7L753.5,178.8L755.8,180.8L758.1,182.8L760.4,184.7L762.8,186.6L765.2,188.5L767.6,190.3L770.1,192.1L772.6,193.8L775.1,195.5L777.6,197.2L780.2,198.9L782.8,200.5L785.5,202.0L788.1,203.6L790.8,205.0L793.5,206.5L796.2,207.9L799.0,209.3L801.8,210.6L804.6,211.9L807.4,213.2L810.2,214.4L813.1,215.5L815.9,216.7L818.8,217.8L821.7,218.8L824.6,219.8L827.6,220.8L830.5,221.7L833.5,222.6L836.4,223.5L839.4,224.3L842.4,225.1L845.4,225.8L848.4,226.5L851.4,227.1L854.5,227.7L857.5,228.3L860.5,228.8L863.6,229.3L866.6,229.7L869.7,230.1L872.7,230.4L875.8,230.7L878.8,231.0L881.9,231.2L884.9,231.4L888.0,231.5L888.5,275.9L654.7,275.9L654.7,88.9Z"/>
<path fill="#5B3924" d="M662.5,88.0L662.8,91.0L663.1,94.0L663.4,97.1L663.7,100.1L664.1,103.2L664.5,106.3L664.9,109.4L665.4,112.5L665.9,115.6L666.4,118.7L667.0,121.8L667.6,124.9L668.3,128.0L669.0,131.1L669.8,134.1L670.6,137.1L671.5,140.1L672.4,143.1L673.4,146.0L674.4,148.9L675.5,151.7L676.7,154.5L677.9,157.3L679.2,159.9L680.5,162.6L682.0,165.1L683.5,167.7L685.1,170.1L686.7,172.5L688.4,174.8L690.2,177.0L692.0,179.2L693.9,181.4L695.9,183.5L697.9,185.5L700.0,187.4L702.2,189.4L704.3,191.2L706.6,193.0L708.9,194.8L711.2,196.5L713.6,198.1L716.0,199.7L718.5,201.2L721.0,202.7L723.6,204.2L726.2,205.6L728.8,206.9L731.4,208.3L734.1,209.5L736.9,210.7L739.6,211.9L742.4,213.1L745.2,214.2L748.0,215.2L750.9,216.2L753.8,217.2L756.7,218.2L759.6,219.1L762.5,220.0L765.5,220.9L768.4,221.7L771.4,222.6L774.4,223.4L777.4,224.1L780.4,224.9L783.4,225.6L786.4,226.4L789.5,227.1L792.5,227.8L795.5,228.5L798.5,229.1L801.6,229.8L804.6,230.5L807.6,231.1L810.6,231.8L813.6,232.5L816.6,233.1L819.6,233.8L822.6,234.4L825.5,235.1L828.5,235.7L831.5,236.4L834.4,237.0L837.4,237.6L840.4,238.2L843.3,238.8L846.3,239.3L849.2,239.9L852.2,240.4L855.1,240.9L858.1,241.4L861.1,241.9L864.0,242.4L867.0,242.8L870.0,243.2L873.0,243.5L876.0,243.8L878.9,244.1L882.0,244.4L885.0,244.6L888.0,244.8L888.5,275.9L654.7,275.9L654.7,88.9Z"/>
<path fill="#2D1C12" d="M671.5,222.0L674.1,223.4L676.7,224.7L679.4,226.0L682.1,227.3L684.7,228.6L687.4,229.8L690.1,230.9L692.9,232.1L695.6,233.2L698.4,234.2L701.2,235.2L703.9,236.2L706.8,237.2L709.6,238.1L712.4,239.0L715.2,239.9L718.1,240.7L721.0,241.5L723.9,242.2L726.8,243.0L729.7,243.7L732.6,244.3L735.5,245.0L738.4,245.6L741.4,246.1L744.4,246.7L747.3,247.2L750.3,247.7L753.3,248.2L756.3,248.6L759.3,249.0L762.3,249.4L765.3,249.7L768.3,250.0L771.4,250.3L774.4,250.6L777.4,250.8L780.5,251.0L783.5,251.2L786.6,251.4L789.7,251.5L792.7,251.7L795.8,251.8L798.9,251.9L802.0,251.9L805.0,252.0L808.1,252.0L811.2,252.1L814.3,252.1L817.4,252.1L820.5,252.1L823.6,252.0L826.7,252.0L829.7,252.0L832.8,251.9L835.9,251.9L839.0,251.8L842.1,251.8L845.2,251.7L848.3,251.6L851.3,251.6L854.4,251.5L857.5,251.4L860.6,251.4L863.6,251.3L866.7,251.3L869.8,251.2L872.8,251.2L875.9,251.2L878.9,251.2L881.9,251.2L885.0,251.2L888.0,251.2L888.0,269.5L885.0,269.3L882.1,269.1L879.1,269.0L876.1,268.8L873.2,268.7L870.2,268.6L867.2,268.5L864.2,268.5L861.2,268.4L858.1,268.4L855.1,268.3L852.1,268.3L849.0,268.3L846.0,268.3L842.9,268.4L839.9,268.4L836.8,268.4L833.7,268.5L830.6,268.5L827.6,268.6L824.5,268.6L821.4,268.7L818.2,268.8L815.1,268.8L812.0,268.9L808.9,269.0L805.7,269.1L802.6,269.1L799.5,269.2L796.3,269.3L793.1,269.3L790.0,269.4L786.8,269.4L783.6,269.5L780.4,269.5L777.3,269.6L774.1,269.6L770.9,269.6L767.7,269.6L764.5,269.6L761.2,269.6L758.0,269.6L754.8,269.5L751.6,269.4L748.4,269.3L745.2,269.2L742.1,269.0L738.9,268.8L735.8,268.5L732.7,268.2L729.7,267.9L726.7,267.5L723.7,267.0L720.7,266.5L717.8,265.9L715.0,265.2L712.2,264.5L709.5,263.6L706.8,262.7L704.2,261.8L701.7,260.7L699.2,259.5L696.8,258.3L694.5,256.9L692.2,255.4L690.1,253.9L688.0,252.2L686.0,250.4L684.2,248.5L682.4,246.4L680.7,244.3L679.2,242.0L677.7,239.6L676.4,237.0L675.1,234.3L674.0,231.5L673.1,228.5L672.2,225.3L671.5,222.0Z"/>
<path fill="#000000" d="M722.0,262.5L725.0,262.3L728.1,262.2L731.1,262.0L734.2,261.9L737.2,261.7L740.3,261.6L743.3,261.5L746.4,261.4L749.5,261.3L752.5,261.3L755.6,261.2L758.7,261.1L761.7,261.1L764.8,261.0L767.9,261.0L770.9,260.9L774.0,260.9L777.1,260.9L780.2,260.9L783.2,260.9L786.3,260.9L789.4,260.9L792.5,260.9L795.6,260.9L798.6,260.9L801.7,260.9L804.8,260.9L807.9,260.9L811.0,261.0L814.1,261.0L817.1,261.0L820.2,261.0L823.3,261.1L826.4,261.1L829.5,261.2L832.6,261.2L835.7,261.2L838.7,261.3L841.8,261.3L844.9,261.3L848.0,261.4L851.1,261.4L854.2,261.4L857.2,261.4L860.3,261.5L863.4,261.5L866.5,261.5L869.6,261.5L872.6,261.5L875.7,261.5L878.8,261.5L881.9,261.5L884.9,261.5L888.0,261.5L888.0,268.2L884.9,268.2L881.9,268.1L878.8,268.1L875.7,268.1L872.6,268.1L869.5,268.1L866.5,268.1L863.4,268.1L860.3,268.1L857.2,268.1L854.2,268.1L851.1,268.1L848.0,268.1L844.9,268.1L841.8,268.1L838.8,268.0L835.7,268.0L832.6,268.0L829.5,268.0L826.4,268.0L823.4,268.0L820.3,267.9L817.2,267.9L814.1,267.9L811.0,267.8L808.0,267.8L804.9,267.7L801.8,267.7L798.7,267.6L795.6,267.6L792.6,267.5L789.5,267.4L786.4,267.3L783.3,267.2L780.3,267.1L777.2,266.9L774.1,266.8L771.0,266.7L768.0,266.5L764.9,266.3L761.8,266.1L758.8,266.0L755.7,265.7L752.6,265.5L749.5,265.3L746.5,265.0L743.4,264.8L740.4,264.5L737.3,264.2L734.2,263.9L731.2,263.6L728.1,263.2L725.1,262.9L722.0,262.5Z"/>
<path fill="#B67248" d="M654.7,236.3L662.4,236.3L664.5,238.5L666.6,240.5L668.8,242.5L671.0,244.3L673.3,246.1L675.6,247.9L677.9,249.5L680.3,251.0L682.7,252.5L685.2,253.9L687.7,255.3L690.2,256.5L692.8,257.7L695.4,258.8L698.0,259.9L700.7,260.9L703.4,261.8L706.1,262.7L708.8,263.5L711.6,264.2L714.4,264.9L717.3,265.6L720.1,266.2L723.0,266.7L725.9,267.2L728.8,267.7L731.7,268.1L734.7,268.5L737.7,268.8L740.7,269.1L743.7,269.4L746.7,269.6L749.8,269.8L752.8,270.0L755.9,270.1L759.0,270.2L762.1,270.3L765.2,270.3L768.3,270.4L771.4,270.4L774.5,270.4L777.6,270.4L780.7,270.4L783.9,270.3L787.0,270.3L790.1,270.2L793.3,270.1L796.4,270.0L799.6,269.9L802.7,269.8L805.9,269.7L809.0,269.6L812.1,269.5L815.3,269.4L818.4,269.3L821.5,269.2L824.7,269.1L827.8,269.1L830.9,269.0L834.0,268.9L837.1,268.8L840.2,268.8L843.3,268.7L846.4,268.7L849.4,268.7L852.5,268.7L855.5,268.7L858.5,268.8L861.6,268.8L864.6,268.9L867.5,269.0L870.5,269.1L873.5,269.3L876.4,269.5L879.3,269.7L882.2,269.9L885.1,270.2L888.0,270.5L888.5,275.9L654.7,275.9Z"/>
<path fill="#FFAB6D" d="M654.7,237.4L661.3,237.4L663.4,239.6L665.5,241.7L667.7,243.6L669.9,245.5L672.2,247.3L674.5,249.1L676.8,250.7L679.2,252.2L681.6,253.7L684.1,255.1L686.6,256.4L689.2,257.6L691.8,258.8L694.4,259.9L697.0,260.9L699.7,261.9L702.4,262.8L705.2,263.6L707.9,264.4L710.7,265.1L713.6,265.7L716.4,266.3L719.3,266.9L722.2,267.4L725.1,267.8L728.1,268.3L731.1,268.6L734.1,268.9L737.1,269.2L740.1,269.5L743.1,269.7L746.2,269.9L749.2,270.0L752.3,270.2L755.4,270.2L758.5,270.3L761.6,270.4L764.7,270.4L767.8,270.4L771.0,270.4L774.1,270.4L777.2,270.4L780.4,270.3L783.5,270.3L786.7,270.2L789.8,270.1L792.9,270.0L796.1,269.9L799.2,269.9L802.4,269.8L805.5,269.7L808.7,269.6L811.8,269.5L815.0,269.4L818.1,269.3L821.2,269.2L824.4,269.1L827.5,269.0L830.6,268.9L833.7,268.9L836.8,268.8L839.9,268.8L843.0,268.7L846.1,268.7L849.2,268.7L852.2,268.7L855.3,268.7L858.3,268.8L861.3,268.9L864.4,268.9L867.4,269.0L870.4,269.2L873.3,269.3L876.3,269.5L879.2,269.7L882.2,270.0L885.1,270.2L888.0,270.5L888.5,275.9L654.7,275.9Z"/>
<path fill="#FFC77F" d="M654.7,238.5L660.2,238.5L662.3,240.7L664.4,242.8L666.6,244.8L668.8,246.7L671.0,248.6L673.4,250.3L675.7,251.9L678.1,253.4L680.6,254.9L683.0,256.3L685.6,257.6L688.1,258.8L690.7,259.9L693.4,261.0L696.0,262.0L698.8,262.9L701.5,263.7L704.3,264.5L707.1,265.3L709.9,265.9L712.7,266.5L715.6,267.1L718.5,267.6L721.5,268.1L724.4,268.5L727.4,268.8L730.4,269.1L733.4,269.4L736.4,269.7L739.5,269.9L742.5,270.0L745.6,270.2L748.7,270.3L751.8,270.3L754.9,270.4L758.0,270.4L761.1,270.5L764.3,270.5L767.4,270.4L770.5,270.4L773.7,270.4L776.8,270.3L780.0,270.3L783.1,270.2L786.3,270.1L789.4,270.0L792.6,269.9L795.7,269.9L798.9,269.8L802.1,269.7L805.2,269.6L808.4,269.5L811.5,269.4L814.6,269.3L817.8,269.2L820.9,269.1L824.1,269.0L827.2,269.0L830.3,268.9L833.4,268.8L836.5,268.8L839.6,268.8L842.7,268.7L845.8,268.7L848.9,268.7L852.0,268.7L855.0,268.8L858.1,268.8L861.1,268.9L864.2,269.0L867.2,269.1L870.2,269.2L873.2,269.4L876.2,269.6L879.2,269.8L882.1,270.0L885.1,270.2L888.0,270.5L888.5,275.9L654.7,275.9Z"/>
</g>
<g clip-path="url(#cp_bUR)">
<path fill="#FFC77F" d="M876.5,88.9H1110.4V275.9H876.5Z"/>
<path fill="#FFAB6D" d="M876.0,185.5L878.8,184.8L881.6,184.1L884.5,183.3L887.3,182.5L890.2,181.6L893.1,180.7L896.0,179.8L898.9,178.8L901.8,177.8L904.7,176.8L907.6,175.7L910.5,174.5L913.3,173.4L916.2,172.1L919.1,170.9L921.9,169.6L924.8,168.2L927.6,166.9L930.4,165.4L933.1,164.0L935.9,162.5L938.6,160.9L941.3,159.3L944.0,157.7L946.6,156.0L949.2,154.2L951.7,152.5L954.2,150.7L956.7,148.8L959.1,146.9L961.5,144.9L963.8,142.9L966.1,140.9L968.3,138.8L970.5,136.7L972.6,134.5L974.6,132.2L976.6,130.0L978.5,127.6L980.3,125.3L982.1,122.8L983.8,120.4L985.4,117.9L987.0,115.3L988.4,112.7L989.8,110.0L991.1,107.3L992.3,104.6L993.4,101.7L994.5,98.9L995.4,96.0L996.3,93.0L997.0,90.0L1110.4,88.9L1110.4,275.9L876.5,275.9Z"/>
<path fill="#E48E5A" d="M876.0,208.5L878.9,208.0L881.8,207.5L884.6,207.0L887.5,206.4L890.4,205.8L893.4,205.2L896.3,204.5L899.2,203.8L902.1,203.0L905.0,202.2L907.9,201.4L910.9,200.5L913.8,199.6L916.7,198.7L919.6,197.7L922.5,196.7L925.4,195.7L928.3,194.6L931.1,193.5L934.0,192.3L936.8,191.1L939.7,189.9L942.5,188.6L945.3,187.3L948.1,186.0L950.9,184.6L953.6,183.2L956.3,181.7L959.0,180.3L961.7,178.7L964.4,177.2L967.0,175.6L969.6,173.9L972.2,172.3L974.7,170.6L977.2,168.8L979.7,167.0L982.2,165.2L984.6,163.3L987.0,161.4L989.3,159.5L991.6,157.5L993.9,155.5L996.1,153.5L998.3,151.4L1000.4,149.3L1002.5,147.1L1004.6,144.9L1006.6,142.7L1008.5,140.4L1010.4,138.1L1012.3,135.8L1014.1,133.4L1015.8,130.9L1017.5,128.5L1019.2,126.0L1020.8,123.4L1022.3,120.9L1023.8,118.2L1025.2,115.6L1026.5,112.9L1027.8,110.2L1029.1,107.4L1030.2,104.6L1031.3,101.8L1032.3,98.9L1033.3,96.0L1034.2,93.0L1035.0,90.0L1110.4,88.9L1110.4,275.9L876.5,275.9Z"/>
<path fill="#B67248" d="M876.0,227.0L879.0,227.0L882.1,227.0L885.1,227.0L888.2,226.9L891.2,226.7L894.2,226.5L897.3,226.2L900.3,225.9L903.4,225.6L906.4,225.2L909.4,224.7L912.5,224.2L915.5,223.7L918.5,223.1L921.5,222.5L924.5,221.8L927.5,221.1L930.5,220.3L933.4,219.5L936.4,218.6L939.3,217.7L942.3,216.7L945.2,215.7L948.1,214.7L950.9,213.6L953.8,212.5L956.7,211.3L959.5,210.1L962.3,208.8L965.0,207.5L967.8,206.2L970.5,204.8L973.2,203.4L975.9,201.9L978.6,200.4L981.2,198.8L983.8,197.2L986.4,195.6L988.9,193.9L991.4,192.2L993.9,190.4L996.4,188.6L998.8,186.8L1001.2,184.9L1003.5,183.0L1005.8,181.1L1008.1,179.1L1010.3,177.0L1012.5,175.0L1014.7,172.8L1016.8,170.7L1018.8,168.5L1020.9,166.3L1022.8,164.0L1024.8,161.7L1026.7,159.4L1028.5,157.0L1030.3,154.6L1032.1,152.2L1033.8,149.7L1035.4,147.2L1037.0,144.7L1038.6,142.1L1040.1,139.5L1041.5,136.8L1042.9,134.1L1044.2,131.4L1045.5,128.7L1046.7,125.9L1047.9,123.1L1049.0,120.2L1050.0,117.4L1051.0,114.4L1051.9,111.5L1052.8,108.5L1053.5,105.5L1054.3,102.5L1054.9,99.4L1055.5,96.3L1056.0,93.2L1056.5,90.0L1110.4,88.9L1110.4,275.9L876.5,275.9Z"/>
<path fill="#895536" d="M876.0,241.0L879.0,241.1L881.9,241.1L884.9,241.2L887.9,241.1L890.9,241.1L893.9,241.0L896.9,240.8L899.9,240.7L902.9,240.5L905.9,240.2L909.0,239.9L912.0,239.6L915.0,239.2L918.0,238.8L921.1,238.4L924.1,237.9L927.1,237.4L930.1,236.9L933.1,236.3L936.1,235.6L939.1,235.0L942.1,234.3L945.1,233.6L948.1,232.8L951.1,232.0L954.0,231.1L957.0,230.2L959.9,229.3L962.9,228.4L965.8,227.4L968.7,226.4L971.6,225.3L974.4,224.2L977.3,223.1L980.2,221.9L983.0,220.7L985.8,219.5L988.6,218.2L991.3,216.9L994.1,215.5L996.8,214.1L999.5,212.7L1002.2,211.3L1004.9,209.8L1007.5,208.3L1010.1,206.7L1012.7,205.1L1015.3,203.5L1017.8,201.8L1020.3,200.1L1022.8,198.4L1025.3,196.7L1027.7,194.9L1030.1,193.0L1032.4,191.2L1034.7,189.3L1037.0,187.3L1039.3,185.4L1041.5,183.4L1043.7,181.4L1045.8,179.3L1047.9,177.2L1050.0,175.1L1052.0,172.9L1054.0,170.7L1056.0,168.5L1057.9,166.2L1059.8,163.9L1061.6,161.6L1063.4,159.2L1065.1,156.8L1066.8,154.4L1068.4,152.0L1070.1,149.5L1071.6,147.0L1073.1,144.4L1074.6,141.8L1076.0,139.2L1077.3,136.6L1078.6,133.9L1079.9,131.2L1081.1,128.4L1082.2,125.7L1083.3,122.9L1084.4,120.0L1085.3,117.2L1086.3,114.3L1087.1,111.3L1087.9,108.4L1088.7,105.4L1089.4,102.4L1090.0,99.3L1090.6,96.2L1091.1,93.1L1091.5,90.0L1110.4,88.9L1110.4,275.9L876.5,275.9Z"/>
<path fill="#5B3924" d="M876.0,250.8L878.9,250.4L881.8,250.0L884.7,249.7L887.7,249.3L890.7,249.0L893.6,248.7L896.6,248.5L899.6,248.2L902.6,248.0L905.6,247.8L908.7,247.6L911.7,247.4L914.8,247.2L917.8,247.0L920.9,246.8L924.0,246.7L927.1,246.5L930.1,246.4L933.2,246.2L936.3,246.1L939.4,245.9L942.5,245.8L945.6,245.6L948.7,245.5L951.9,245.3L955.0,245.2L958.1,245.0L961.2,244.8L964.3,244.6L967.4,244.4L970.5,244.2L973.6,244.0L976.7,243.7L979.8,243.5L982.9,243.2L986.0,242.9L989.1,242.6L992.1,242.3L995.2,241.9L998.2,241.5L1001.3,241.1L1004.3,240.6L1007.4,240.2L1010.4,239.7L1013.4,239.1L1016.4,238.6L1019.3,238.0L1022.3,237.3L1025.3,236.6L1028.2,235.9L1031.1,235.2L1034.0,234.4L1036.9,233.5L1039.8,232.7L1042.6,231.7L1045.4,230.8L1048.2,229.7L1050.9,228.6L1053.6,227.5L1056.3,226.3L1058.9,225.0L1061.4,223.7L1063.9,222.3L1066.3,220.8L1068.7,219.3L1071.0,217.6L1073.2,216.0L1075.4,214.2L1077.4,212.3L1079.4,210.4L1081.3,208.3L1083.1,206.2L1084.8,204.0L1086.4,201.7L1087.9,199.3L1089.3,196.8L1090.6,194.2L1091.8,191.4L1092.9,188.6L1093.8,185.7L1094.7,182.7L1095.5,179.7L1096.2,176.6L1096.9,173.4L1097.4,170.2L1098.0,166.9L1098.5,163.6L1099.0,160.3L1099.4,157.0L1099.8,153.7L1100.3,150.4L1100.7,147.2L1101.1,143.9L1101.6,140.7L1102.1,137.5L1102.6,134.4L1103.1,131.4L1103.8,128.4L1104.5,125.5L1105.2,122.7L1106.0,120.1L1107.0,117.5L1108.0,115.0L1110.4,115.0L1110.4,275.9L876.5,275.9Z"/>
<path fill="#2D1C12" d="M876.0,262.3L879.0,262.3L882.1,262.3L885.1,262.3L888.2,262.3L891.3,262.3L894.3,262.3L897.4,262.2L900.5,262.2L903.5,262.1L906.6,262.0L909.7,261.9L912.8,261.8L915.8,261.7L918.9,261.6L922.0,261.5L925.1,261.4L928.2,261.3L931.3,261.1L934.4,261.0L937.4,260.8L940.5,260.6L943.6,260.4L946.7,260.2L949.8,260.0L952.9,259.8L956.0,259.6L959.1,259.4L962.2,259.2L965.2,258.9L968.3,258.7L971.4,258.4L974.5,258.2L977.6,257.9L980.7,257.6L983.7,257.3L986.8,257.1L989.9,256.8L992.9,256.5L996.0,256.1L999.1,255.8L1002.1,255.5L1005.2,255.2L1008.3,254.8L1011.3,254.5L1014.3,254.1L1017.4,253.8L1020.4,253.4L1023.5,253.0L1026.5,252.7L1029.5,252.3L1032.5,251.9L1035.5,251.5L1038.6,251.1L1041.6,250.7L1044.6,250.3L1047.5,249.9L1050.5,249.4L1053.5,249.0L1056.5,248.6L1059.4,248.1L1062.4,247.7L1065.4,247.2L1068.3,246.8L1071.2,246.3L1074.2,245.9L1077.1,245.4L1080.0,244.9L1082.9,244.5L1085.8,244.0L1085.8,244.0L1083.8,246.0L1081.7,247.9L1079.6,249.7L1077.4,251.4L1075.1,253.0L1072.8,254.5L1070.4,255.9L1068.0,257.2L1065.5,258.4L1063.0,259.6L1060.4,260.6L1057.8,261.6L1055.2,262.5L1052.5,263.4L1049.7,264.1L1046.9,264.8L1044.1,265.4L1041.3,266.0L1038.4,266.5L1035.5,267.0L1032.6,267.4L1029.6,267.7L1026.6,268.0L1023.6,268.3L1020.6,268.5L1017.5,268.7L1014.4,268.8L1011.4,269.0L1008.3,269.0L1005.2,269.1L1002.0,269.1L998.9,269.2L995.8,269.2L992.6,269.2L989.5,269.1L986.4,269.1L983.2,269.1L980.1,269.0L977.0,269.0L973.8,268.9L970.7,268.9L967.6,268.8L964.5,268.8L961.3,268.7L958.2,268.7L955.1,268.6L952.0,268.6L948.9,268.5L945.8,268.5L942.7,268.5L939.6,268.4L936.5,268.4L933.4,268.3L930.4,268.3L927.3,268.3L924.2,268.3L921.2,268.3L918.1,268.3L915.0,268.3L912.0,268.3L909.0,268.3L905.9,268.3L902.9,268.4L899.9,268.4L896.9,268.5L893.9,268.6L890.9,268.7L887.9,268.8L884.9,268.9L881.9,269.0L879.0,269.2L876.0,269.3Z"/>
<path fill="#000000" d="M876.0,265.8L879.2,265.9L882.4,266.0L885.6,266.2L888.8,266.3L892.0,266.3L895.2,266.4L898.4,266.5L901.6,266.6L904.8,266.7L908.0,266.8L911.2,266.9L914.4,267.0L917.6,267.1L920.8,267.3L924.0,267.4L927.2,267.6L930.4,267.8L933.6,268.1L936.8,268.3L940.0,268.6L940.0,268.6L936.8,268.7L933.6,268.8L930.4,268.8L927.2,268.9L924.0,269.0L920.8,269.1L917.6,269.2L914.4,269.2L911.2,269.3L908.0,269.4L904.8,269.4L901.6,269.5L898.4,269.5L895.2,269.5L892.0,269.6L888.8,269.6L885.6,269.6L882.4,269.6L879.2,269.5L876.0,269.5Z"/>
<path fill="#2D1C12" d="M1101.2,180L1104.6,180L1104.6,267L1099.5,267L1100.5,230Z"/>
<path fill="#000000" d="M1102,226L1104.6,226L1104.6,265L1101.8,265L1102,240Z"/>
<path fill="#895536" d="M1081.5,265.8L1085.7,264.3L1089.1,262.6L1091.6,260.6L1093.4,258.6L1094.4,256.7L1094.7,255.1L1094.5,253.9L1093.6,253.3L1092.3,253.4L1090.5,254.1L1088.5,255.7L1086.3,258.1L1083.9,261.4L1081.5,265.8Z"/>
<path fill="#FFC77F" d="M1060,270L1066.6,265.8L1082,265.8L1082,268.2L1098,268.2L1098,266L1104.6,265.2L1104.6,270Z"/>
</g>
<g clip-path="url(#cp_bLL)">
<path fill="#FFC77F" d="M654.7,263.9H888.5V450.8H654.7Z"/>
<path fill="#FFAB6D" d="M888.0,340.5L885.2,341.3L882.3,342.1L879.5,343.0L876.6,343.9L873.8,344.8L870.9,345.7L868.0,346.7L865.1,347.7L862.2,348.7L859.3,349.8L856.4,350.9L853.5,352.0L850.6,353.1L847.7,354.3L844.8,355.6L842.0,356.8L839.1,358.1L836.2,359.4L833.4,360.7L830.5,362.1L827.7,363.5L824.9,365.0L822.1,366.5L819.3,368.0L816.6,369.5L813.9,371.1L811.2,372.7L808.5,374.4L805.8,376.1L803.2,377.8L800.6,379.5L798.1,381.3L795.5,383.2L793.0,385.0L790.6,386.9L788.2,388.9L785.8,390.9L783.4,392.9L781.1,394.9L778.9,397.0L776.7,399.1L774.5,401.3L772.4,403.5L770.4,405.7L768.3,408.0L766.4,410.3L764.5,412.7L762.6,415.1L760.9,417.5L759.1,420.0L757.5,422.5L755.9,425.1L754.3,427.7L752.8,430.3L751.4,433.0L750.1,435.7L748.8,438.5L747.6,441.3L746.5,444.2L745.5,447.1L744.5,450.0L744.5,450.8L654.7,450.8L654.7,263.9L888.5,263.9Z"/>
<path fill="#E48E5A" d="M888.0,319.5L885.0,319.7L882.0,319.9L879.0,320.2L876.0,320.5L872.9,320.9L869.9,321.3L866.9,321.7L863.9,322.2L860.9,322.8L857.9,323.3L854.9,324.0L851.9,324.6L848.9,325.4L845.9,326.1L842.9,326.9L840.0,327.8L837.0,328.7L834.1,329.6L831.1,330.6L828.2,331.6L825.3,332.6L822.4,333.7L819.6,334.9L816.7,336.1L813.9,337.3L811.1,338.6L808.3,339.9L805.5,341.2L802.8,342.6L800.0,344.0L797.3,345.5L794.6,347.0L792.0,348.5L789.4,350.1L786.8,351.8L784.2,353.4L781.7,355.1L779.1,356.9L776.7,358.6L774.2,360.5L771.8,362.3L769.4,364.2L767.1,366.2L764.8,368.1L762.5,370.1L760.3,372.2L758.1,374.3L756.0,376.4L753.8,378.5L751.8,380.7L749.8,383.0L747.8,385.2L745.8,387.5L744.0,389.9L742.1,392.3L740.3,394.7L738.6,397.1L736.9,399.6L735.2,402.1L733.6,404.7L732.1,407.2L730.6,409.9L729.2,412.5L727.8,415.2L726.5,417.9L725.2,420.7L724.0,423.5L722.9,426.3L721.8,429.1L720.8,432.0L719.8,434.9L718.9,437.9L718.1,440.9L717.3,443.9L716.6,446.9L716.0,450.0L716.0,450.8L654.7,450.8L654.7,263.9L888.5,263.9Z"/>
<path fill="#B67248" d="M888.0,303.0L885.1,303.3L882.2,303.5L879.2,303.8L876.3,304.2L873.3,304.5L870.3,304.9L867.4,305.3L864.4,305.7L861.4,306.2L858.3,306.6L855.3,307.1L852.3,307.7L849.3,308.2L846.3,308.8L843.2,309.4L840.2,310.1L837.2,310.7L834.2,311.4L831.1,312.2L828.1,312.9L825.1,313.7L822.1,314.5L819.1,315.4L816.1,316.3L813.2,317.2L810.2,318.1L807.3,319.1L804.3,320.1L801.4,321.1L798.5,322.2L795.6,323.3L792.7,324.4L789.9,325.6L787.1,326.8L784.3,328.0L781.5,329.3L778.7,330.6L776.0,331.9L773.3,333.3L770.6,334.7L767.9,336.2L765.3,337.7L762.7,339.2L760.2,340.7L757.6,342.3L755.1,343.9L752.7,345.6L750.3,347.3L747.9,349.1L745.5,350.8L743.2,352.7L741.0,354.5L738.7,356.4L736.6,358.4L734.4,360.3L732.3,362.3L730.3,364.4L728.3,366.5L726.4,368.6L724.5,370.8L722.6,373.1L720.8,375.3L719.1,377.6L717.4,380.0L715.8,382.4L714.2,384.8L712.7,387.3L711.3,389.8L709.9,392.4L708.6,395.0L707.3,397.7L706.1,400.4L705.0,403.1L703.9,405.9L702.9,408.8L701.9,411.6L701.1,414.6L700.3,417.6L699.6,420.6L698.9,423.7L698.4,426.8L697.9,430.0L697.4,433.2L697.1,436.4L696.8,439.8L696.6,443.1L696.5,446.5L696.5,450.0L696.5,450.8L654.7,450.8L654.7,263.9L888.5,263.9Z"/>
<path fill="#895536" d="M888.0,291.0L885.2,291.4L882.4,291.8L879.5,292.2L876.6,292.6L873.8,293.0L870.8,293.3L867.9,293.7L864.9,294.1L862.0,294.4L859.0,294.8L856.0,295.2L852.9,295.5L849.9,295.9L846.8,296.2L843.8,296.6L840.7,297.0L837.6,297.3L834.5,297.7L831.4,298.1L828.3,298.5L825.2,298.9L822.1,299.4L819.0,299.8L815.9,300.3L812.8,300.7L809.7,301.2L806.5,301.7L803.4,302.2L800.3,302.8L797.2,303.3L794.1,303.9L791.1,304.5L788.0,305.2L784.9,305.8L781.9,306.5L778.8,307.2L775.8,308.0L772.8,308.8L769.8,309.6L766.8,310.4L763.9,311.3L760.9,312.2L758.0,313.1L755.1,314.1L752.2,315.1L749.4,316.2L746.5,317.3L743.7,318.5L741.0,319.6L738.2,320.9L735.5,322.2L732.8,323.5L730.2,324.9L727.6,326.3L725.0,327.8L722.4,329.3L719.9,330.8L717.5,332.5L715.0,334.1L712.7,335.8L710.3,337.6L708.0,339.4L705.8,341.2L703.6,343.1L701.4,345.1L699.3,347.1L697.3,349.1L695.3,351.2L693.3,353.4L691.4,355.5L689.6,357.8L687.8,360.1L686.1,362.4L684.4,364.8L682.9,367.2L681.3,369.7L679.9,372.2L678.5,374.8L677.2,377.4L675.9,380.1L674.7,382.8L673.6,385.5L672.5,388.3L671.5,391.2L670.6,394.0L669.7,396.9L668.9,399.9L668.2,402.8L667.5,405.8L666.9,408.9L666.4,411.9L665.9,415.0L665.5,418.1L665.1,421.2L664.9,424.4L664.6,427.5L664.5,430.7L664.4,433.9L664.3,437.1L664.4,440.3L664.5,443.5L664.6,446.8L664.8,450.0L664.8,450.8L654.7,450.8L654.7,263.9L888.5,263.9Z"/>
<path fill="#5B3924" d="M888.0,285.5L885.3,285.7L882.6,286.0L879.8,286.1L877.1,286.3L874.2,286.4L871.4,286.5L868.5,286.6L865.5,286.6L862.6,286.6L859.6,286.7L856.6,286.6L853.5,286.6L850.5,286.6L847.4,286.5L844.3,286.4L841.2,286.4L838.0,286.3L834.9,286.2L831.7,286.1L828.5,286.0L825.3,285.9L822.1,285.8L818.9,285.8L815.7,285.7L812.5,285.6L809.2,285.6L806.0,285.6L802.8,285.5L799.5,285.5L796.3,285.5L793.1,285.6L789.9,285.6L786.7,285.7L783.4,285.8L780.3,286.0L777.1,286.1L773.9,286.3L770.8,286.6L767.6,286.8L764.5,287.2L761.4,287.5L758.3,287.9L755.3,288.3L752.3,288.8L749.3,289.3L746.3,289.9L743.3,290.6L740.4,291.3L737.5,292.0L734.7,292.8L731.9,293.7L729.1,294.6L726.3,295.6L723.6,296.6L721.0,297.7L718.4,298.9L715.8,300.2L713.3,301.5L710.8,302.9L708.4,304.4L706.0,305.9L703.7,307.6L701.4,309.2L699.1,311.0L697.0,312.8L694.8,314.7L692.8,316.6L690.8,318.6L688.8,320.7L686.9,322.8L685.1,325.0L683.3,327.3L681.6,329.6L679.9,331.9L678.3,334.3L676.8,336.8L675.3,339.3L673.9,341.8L672.5,344.4L671.2,347.1L670.0,349.8L668.9,352.5L667.8,355.3L666.8,358.1L665.9,361.0L665.0,363.9L664.2,366.8L663.5,369.8L662.8,372.8L662.2,375.8L661.7,378.9L661.2,382.0L660.8,385.1L660.4,388.2L660.1,391.3L659.8,394.5L659.6,397.7L659.4,400.8L659.3,404.0L659.2,407.2L659.1,410.3L659.1,413.5L659.1,416.6L659.1,419.8L659.2,422.9L659.3,426.0L659.4,429.1L659.5,432.2L659.6,435.2L659.8,438.3L659.9,441.2L660.1,444.2L660.2,447.1L660.4,450.0L660.4,450.8L654.7,450.8L654.7,263.9L888.5,263.9Z"/>
<path fill="#2D1C12" d="M888.0,272.8L885.1,273.1L882.2,273.4L879.2,273.7L876.3,273.9L873.3,274.1L870.4,274.2L867.4,274.3L864.4,274.4L861.4,274.5L858.4,274.6L855.3,274.6L852.3,274.6L849.2,274.6L846.2,274.5L843.1,274.5L840.0,274.4L837.0,274.3L833.9,274.2L830.8,274.1L827.7,274.0L824.6,273.8L821.5,273.7L818.3,273.5L815.2,273.4L812.1,273.2L809.0,273.0L805.9,272.9L802.7,272.7L799.6,272.5L796.5,272.4L793.3,272.2L790.2,272.1L787.1,271.9L784.0,271.8L780.8,271.7L777.7,271.5L774.6,271.4L771.5,271.4L768.4,271.3L765.3,271.2L762.2,271.2L759.1,271.2L756.0,271.2L752.9,271.2L749.9,271.2L746.8,271.3L743.7,271.4L740.7,271.5L737.7,271.7L734.6,271.9L731.6,272.1L728.6,272.4L725.6,272.6L722.7,273.0L719.7,273.3L716.7,273.7L713.8,274.2L710.9,274.7L708.0,275.2L705.1,275.8L702.2,276.4L699.4,277.1L696.6,277.8L693.9,278.7L691.2,279.6L688.6,280.6L686.1,281.7L683.7,282.8L681.4,284.2L679.2,285.6L677.1,287.1L675.2,288.8L673.3,290.7L671.7,292.6L670.2,294.8L668.8,297.0L667.6,299.4L666.5,302.0L665.6,304.6L664.8,307.4L664.0,310.2L663.4,313.1L662.9,316.1L662.5,319.2L662.1,322.3L661.9,325.4L661.6,328.6L661.5,331.8L661.4,335.0L661.3,338.3L661.3,341.5L661.3,344.7L661.4,348.0L661.5,351.2L661.6,354.4L661.7,357.7L661.8,360.9L662.0,364.1L662.1,367.3L662.3,370.5L662.5,373.7L662.6,376.9L662.8,380.1L662.9,383.2L663.0,386.3L663.1,389.5L663.2,392.6L663.2,395.6L663.2,398.7L663.2,401.7L663.1,404.7L663.0,407.7L662.8,410.7L662.5,413.6L662.3,416.5L661.9,419.4L661.5,422.2L661.0,425.0L654.7,425.0L654.7,263.9L888.5,263.9Z"/>
<path fill="#000000" d="M830.0,270.8L826.8,270.8L823.6,270.8L820.5,270.9L817.4,270.9L814.3,271.0L811.3,271.1L808.3,271.2L805.4,271.3L802.4,271.5L799.5,271.6L796.5,271.7L793.6,271.8L790.7,272.0L787.8,272.1L784.8,272.2L781.9,272.2L778.9,272.3L775.9,272.3L772.9,272.4L769.9,272.4L766.8,272.3L763.7,272.2L760.6,272.1L757.4,272.0L754.2,271.8L750.9,271.6L747.6,271.4L744.3,271.1L740.9,270.9L737.6,270.7L734.2,270.5L730.9,270.3L727.6,270.1L724.3,270.0L721.0,269.9L717.8,269.9L714.6,270.0L711.4,270.1L708.3,270.3L705.3,270.6L702.3,271.0L699.4,271.5L696.6,272.1L693.8,272.8L691.2,273.7L688.7,274.7L686.3,275.8L684.0,277.1L681.7,278.5L679.6,280.1L677.7,281.8L675.8,283.6L674.0,285.5L672.3,287.5L670.7,289.6L669.3,291.9L667.9,294.2L666.6,296.6L665.5,299.1L664.4,301.7L663.4,304.4L662.5,307.2L661.7,310.0L661.1,312.9L660.5,315.8L660.0,318.8L659.6,321.9L659.3,324.9L659.0,328.1L658.9,331.2L658.9,334.4L658.9,337.6L659.0,340.9L659.1,344.1L659.3,347.4L659.6,350.7L659.8,353.9L660.1,357.2L660.4,360.5L660.7,363.7L660.9,367.0L661.2,370.2L661.4,373.3L661.6,376.5L661.7,379.6L661.8,382.7L661.8,385.7L661.7,388.7L661.6,391.6L661.3,394.5L661.0,397.3L660.5,400.0L654.7,400.0L654.7,263.9L888.5,263.9Z"/>
<path fill="#fff" d="M850.0,269.9L847.1,270.2L844.2,270.5L841.3,270.7L838.4,270.9L835.4,271.1L832.5,271.2L829.5,271.3L826.5,271.4L823.5,271.4L820.5,271.5L817.4,271.5L814.3,271.5L811.3,271.4L808.2,271.4L805.1,271.3L802.0,271.2L798.9,271.1L795.7,271.0L792.6,270.9L789.4,270.8L786.3,270.6L783.1,270.5L779.9,270.3L776.8,270.2L773.6,270.1L770.4,269.9L767.2,269.8L764.0,269.6L760.8,269.5L757.6,269.4L754.4,269.2L751.1,269.1L747.9,269.0L744.7,269.0L741.5,268.9L738.3,268.8L735.1,268.8L731.9,268.8L728.7,268.8L725.5,268.9L722.3,269.0L719.2,269.1L716.1,269.3L713.0,269.5L710.0,269.8L707.0,270.2L704.1,270.6L701.2,271.1L698.3,271.7L695.6,272.3L692.9,273.1L690.2,273.9L687.7,274.9L685.2,275.9L682.9,277.1L680.6,278.3L678.4,279.7L676.3,281.2L674.3,282.8L672.4,284.6L670.7,286.5L669.0,288.6L667.5,290.7L666.1,293.1L664.9,295.6L663.8,298.3L662.8,301.1L662.0,304.1L661.3,307.3L660.8,310.7L660.5,314.2L660.3,318.0L654.7,318.0L654.7,263.9Z"/>
</g>
<g clip-path="url(#cp_bLR)">
<path fill="#FFC77F" d="M876.5,263.9H1110.4V450.8H876.5Z"/>
<path fill="#FFAB6D" d="M876.0,329.6L879.0,329.7L882.0,329.9L885.0,330.2L888.0,330.5L891.0,330.9L894.0,331.3L896.9,331.8L899.9,332.3L902.9,332.9L905.9,333.5L908.8,334.2L911.8,334.9L914.7,335.7L917.7,336.6L920.6,337.4L923.5,338.4L926.4,339.4L929.3,340.4L932.1,341.5L935.0,342.7L937.8,343.8L940.6,345.1L943.4,346.4L946.2,347.7L948.9,349.1L951.7,350.5L954.4,351.9L957.0,353.4L959.7,355.0L962.3,356.6L964.9,358.2L967.5,359.9L970.1,361.6L972.6,363.4L975.1,365.2L977.5,367.0L980.0,368.9L982.3,370.8L984.7,372.8L987.0,374.8L989.3,376.8L991.6,378.9L993.8,381.0L995.9,383.1L998.1,385.3L1000.2,387.5L1002.2,389.8L1004.2,392.1L1006.2,394.4L1008.1,396.7L1009.9,399.1L1011.8,401.5L1013.5,404.0L1015.3,406.5L1017.0,409.0L1018.6,411.5L1020.2,414.1L1021.7,416.7L1023.1,419.3L1024.6,422.0L1025.9,424.7L1027.2,427.4L1028.5,430.1L1029.7,432.9L1030.8,435.7L1031.9,438.5L1032.9,441.3L1033.8,444.2L1034.7,447.1L1035.5,450.0L1035.5,450.8L1110.4,450.8L1110.4,263.9L876.5,263.9Z"/>
<path fill="#E48E5A" d="M876.0,309.8L879.1,309.7L882.1,309.7L885.2,309.7L888.3,309.8L891.4,310.0L894.4,310.1L897.5,310.4L900.6,310.7L903.6,311.0L906.7,311.4L909.8,311.8L912.8,312.3L915.8,312.8L918.9,313.4L921.9,314.0L924.9,314.7L927.9,315.4L930.9,316.2L933.9,317.0L936.9,317.8L939.8,318.8L942.8,319.7L945.7,320.7L948.6,321.7L951.5,322.8L954.3,324.0L957.2,325.1L960.0,326.4L962.8,327.6L965.6,328.9L968.4,330.3L971.1,331.7L973.8,333.1L976.5,334.6L979.2,336.1L981.8,337.7L984.4,339.3L987.0,340.9L989.6,342.6L992.1,344.4L994.6,346.1L997.0,347.9L999.4,349.8L1001.8,351.7L1004.2,353.6L1006.5,355.6L1008.8,357.6L1011.0,359.6L1013.2,361.7L1015.4,363.8L1017.5,366.0L1019.6,368.2L1021.6,370.4L1023.6,372.7L1025.6,375.0L1027.5,377.3L1029.3,379.7L1031.2,382.1L1032.9,384.6L1034.6,387.1L1036.3,389.6L1037.9,392.1L1039.5,394.7L1041.0,397.3L1042.5,400.0L1043.9,402.7L1045.3,405.4L1046.6,408.2L1047.8,411.0L1049.0,413.8L1050.1,416.6L1051.2,419.5L1052.2,422.4L1053.2,425.4L1054.1,428.3L1054.9,431.3L1055.7,434.4L1056.4,437.4L1057.0,440.5L1057.6,443.7L1058.1,446.8L1058.5,450.0L1058.5,450.8L1110.4,450.8L1110.4,263.9L876.5,263.9Z"/>
<path fill="#B67248" d="M876.0,295.5L879.0,295.4L882.0,295.4L885.1,295.3L888.1,295.4L891.1,295.4L894.2,295.5L897.2,295.6L900.3,295.8L903.3,296.0L906.4,296.2L909.4,296.5L912.5,296.8L915.5,297.1L918.6,297.5L921.6,297.9L924.7,298.3L927.7,298.8L930.8,299.3L933.8,299.9L936.8,300.5L939.8,301.1L942.9,301.8L945.9,302.5L948.9,303.2L951.9,304.0L954.8,304.8L957.8,305.6L960.7,306.5L963.7,307.4L966.6,308.3L969.5,309.3L972.4,310.3L975.3,311.4L978.2,312.5L981.0,313.6L983.8,314.8L986.6,316.0L989.4,317.2L992.2,318.5L994.9,319.8L997.7,321.1L1000.4,322.5L1003.0,323.9L1005.7,325.4L1008.3,326.8L1010.9,328.4L1013.5,329.9L1016.0,331.5L1018.5,333.1L1021.0,334.8L1023.5,336.5L1025.9,338.2L1028.3,340.0L1030.6,341.8L1033.0,343.7L1035.3,345.5L1037.5,347.4L1039.7,349.4L1041.9,351.4L1044.1,353.4L1046.2,355.5L1048.3,357.6L1050.3,359.7L1052.3,361.8L1054.2,364.0L1056.1,366.3L1058.0,368.6L1059.8,370.9L1061.6,373.2L1063.3,375.6L1065.0,378.0L1066.7,380.5L1068.3,382.9L1069.8,385.5L1071.3,388.0L1072.7,390.6L1074.1,393.2L1075.5,395.9L1076.8,398.6L1078.0,401.3L1079.2,404.1L1080.3,406.9L1081.4,409.8L1082.4,412.7L1083.4,415.6L1084.3,418.5L1085.1,421.5L1085.9,424.5L1086.6,427.6L1087.3,430.7L1087.9,433.8L1088.5,437.0L1088.9,440.2L1089.4,443.4L1089.7,446.7L1090.0,450.0L1090.0,450.8L1110.4,450.8L1110.4,263.9L876.5,263.9Z"/>
<path fill="#895536" d="M876.0,285.2L878.8,285.7L881.6,286.1L884.5,286.5L887.4,286.9L890.3,287.3L893.2,287.6L896.1,287.9L899.1,288.2L902.1,288.5L905.1,288.7L908.1,289.0L911.2,289.2L914.2,289.4L917.3,289.6L920.4,289.7L923.5,289.9L926.6,290.1L929.7,290.2L932.8,290.4L936.0,290.5L939.1,290.6L942.3,290.8L945.4,290.9L948.6,291.1L951.7,291.3L954.9,291.4L958.0,291.6L961.2,291.8L964.3,292.0L967.5,292.2L970.6,292.5L973.8,292.7L976.9,293.0L980.0,293.3L983.1,293.7L986.2,294.0L989.3,294.4L992.4,294.8L995.5,295.3L998.5,295.7L1001.6,296.2L1004.6,296.8L1007.6,297.4L1010.6,298.0L1013.5,298.7L1016.5,299.4L1019.4,300.2L1022.3,301.0L1025.1,301.8L1028.0,302.7L1030.8,303.7L1033.6,304.7L1036.3,305.8L1039.1,306.9L1041.8,308.1L1044.4,309.4L1047.0,310.7L1049.6,312.0L1052.2,313.5L1054.7,315.0L1057.2,316.5L1059.6,318.2L1061.9,319.8L1064.2,321.6L1066.5,323.4L1068.7,325.3L1070.8,327.2L1072.9,329.2L1074.9,331.2L1076.9,333.3L1078.8,335.5L1080.6,337.7L1082.3,340.0L1083.9,342.4L1085.5,344.8L1087.0,347.3L1088.4,349.8L1089.7,352.4L1091.0,355.1L1092.1,357.8L1093.2,360.6L1094.1,363.4L1094.9,366.3L1095.7,369.3L1096.4,372.3L1096.9,375.4L1097.4,378.5L1097.8,381.6L1098.2,384.8L1098.5,388.0L1098.7,391.2L1098.9,394.5L1099.1,397.8L1099.2,401.0L1099.3,404.3L1099.3,407.6L1099.4,410.8L1099.5,414.1L1099.5,417.3L1099.6,420.5L1099.6,423.7L1099.7,426.8L1099.9,429.9L1100.0,432.9L1100.2,435.9L1100.4,438.9L1100.7,441.8L1101.1,444.6L1101.5,447.3L1102.0,450.0L1102.0,450.8L1110.4,450.8L1110.4,263.9L876.5,263.9Z"/>
<path fill="#5B3924" d="M876.0,274.0L878.9,274.4L881.8,274.8L884.7,275.1L887.7,275.4L890.6,275.7L893.6,275.9L896.6,276.1L899.6,276.2L902.6,276.4L905.6,276.5L908.6,276.6L911.6,276.6L914.7,276.7L917.7,276.7L920.8,276.7L923.9,276.7L926.9,276.6L930.0,276.6L933.1,276.5L936.2,276.4L939.3,276.3L942.4,276.2L945.5,276.1L948.6,276.0L951.7,275.8L954.8,275.7L957.9,275.6L961.0,275.4L964.2,275.3L967.3,275.1L970.4,275.0L973.5,274.9L976.6,274.8L979.8,274.7L982.9,274.6L986.0,274.5L989.1,274.4L992.2,274.3L995.3,274.3L998.4,274.2L1001.5,274.2L1004.5,274.2L1007.6,274.2L1010.7,274.3L1013.8,274.3L1016.8,274.4L1019.9,274.5L1022.9,274.7L1025.9,274.8L1028.9,275.1L1031.9,275.3L1034.9,275.6L1037.9,275.9L1040.9,276.2L1043.9,276.6L1046.8,277.0L1049.7,277.5L1052.7,278.0L1055.6,278.5L1058.4,279.1L1061.3,279.8L1064.1,280.5L1066.8,281.3L1069.5,282.2L1072.1,283.2L1074.6,284.3L1077.1,285.5L1079.4,286.7L1081.6,288.2L1083.7,289.7L1085.7,291.4L1087.6,293.2L1089.3,295.1L1090.8,297.2L1092.2,299.5L1093.5,301.8L1094.7,304.3L1095.7,306.9L1096.7,309.5L1097.5,312.3L1098.2,315.2L1098.9,318.1L1099.4,321.1L1099.9,324.1L1100.3,327.2L1100.6,330.3L1100.9,333.5L1101.1,336.7L1101.3,339.9L1101.4,343.1L1101.5,346.3L1101.6,349.6L1101.7,352.8L1101.7,356.1L1101.7,359.3L1101.7,362.6L1101.7,365.8L1101.7,369.0L1101.7,372.3L1101.7,375.5L1101.8,378.7L1101.9,381.9L1102.0,385.0L1102.1,388.1L1102.3,391.2L1102.6,394.3L1102.9,397.3L1103.2,400.3L1103.7,403.3L1104.2,406.2L1104.8,409.1L1105.4,411.9L1106.2,414.6L1107.0,417.3L1108.0,420.0L1110.4,420.0L1110.4,263.9L876.5,263.9Z"/>
<path fill="#2D1C12" d="M1040.0,269.5L1043.9,269.0L1047.7,268.7L1051.3,268.6L1054.8,268.6L1058.1,268.9L1061.3,269.3L1064.4,269.9L1067.3,270.6L1070.1,271.5L1072.8,272.6L1075.3,273.8L1077.7,275.2L1080.0,276.7L1082.2,278.3L1084.2,280.1L1086.1,282.0L1087.9,284.0L1089.6,286.1L1091.1,288.4L1092.6,290.7L1093.9,293.1L1095.1,295.7L1096.2,298.3L1097.2,301.0L1098.1,303.8L1098.9,306.6L1099.5,309.6L1100.1,312.6L1100.7,315.6L1101.1,318.7L1101.5,321.8L1101.8,325.0L1102.1,328.2L1102.3,331.4L1102.5,334.6L1102.7,337.8L1102.9,341.0L1103.1,344.3L1103.3,347.5L1103.5,350.7L1103.7,353.8L1103.9,357.0L1104.2,360.0L1104.5,363.1L1104.9,366.1L1105.4,369.0L1105.9,371.9L1106.5,374.7L1107.2,377.4L1108.0,380.0L1110.4,380.0L1110.4,263.9L876.5,263.9Z"/>
<path fill="#2D1C12" d="M876.5,263.9H1110.4V272.2H876.5Z"/>
</g>
<g clip-path="url(#cp_cUL)">
<path fill="#FFC77F" d="M103.4,476.1H337.5V662.9H103.4Z"/>
<path fill="#FFAB6D" d="M237.5,476.0L238.8,478.8L240.3,481.5L241.7,484.1L243.3,486.7L245.0,489.3L246.7,491.8L248.5,494.2L250.3,496.6L252.3,498.9L254.3,501.2L256.3,503.4L258.4,505.6L260.6,507.8L262.8,509.9L265.1,511.9L267.4,513.9L269.7,515.9L272.1,517.8L274.6,519.7L277.1,521.5L279.6,523.3L282.2,525.1L284.8,526.8L287.4,528.5L290.0,530.1L292.7,531.7L295.4,533.3L298.1,534.8L300.8,536.4L303.6,537.8L306.4,539.3L309.1,540.7L311.9,542.1L314.7,543.5L317.5,544.8L320.3,546.1L323.1,547.4L325.9,548.7L328.7,549.9L331.5,551.1L334.2,552.3L337.0,553.5L337.5,662.9L103.4,662.9L103.4,476.1Z"/>
<path fill="#E48E5A" d="M204.0,476.0L205.3,478.7L206.7,481.3L208.1,483.9L209.6,486.5L211.2,489.0L212.7,491.6L214.4,494.1L216.1,496.6L217.8,499.0L219.5,501.4L221.3,503.8L223.2,506.2L225.1,508.6L227.0,510.9L229.0,513.2L231.0,515.5L233.1,517.7L235.2,519.9L237.3,522.1L239.5,524.2L241.7,526.4L243.9,528.5L246.2,530.5L248.5,532.5L250.8,534.5L253.2,536.5L255.6,538.4L258.0,540.3L260.4,542.2L262.9,544.0L265.4,545.8L267.9,547.6L270.5,549.3L273.1,551.0L275.7,552.7L278.3,554.3L280.9,555.9L283.6,557.4L286.3,559.0L289.0,560.4L291.7,561.9L294.5,563.3L297.2,564.6L300.0,566.0L302.8,567.2L305.6,568.5L308.4,569.7L311.2,570.9L314.0,572.0L316.9,573.1L319.7,574.1L322.6,575.1L325.5,576.1L328.3,577.0L331.2,577.9L334.1,578.7L337.0,579.5L337.5,662.9L103.4,662.9L103.4,476.1Z"/>
<path fill="#B67248" d="M174.8,476.0L175.6,479.1L176.5,482.1L177.5,485.1L178.6,488.1L179.7,491.0L180.9,493.8L182.2,496.6L183.5,499.3L184.9,502.0L186.3,504.7L187.8,507.3L189.4,509.8L191.0,512.4L192.7,514.8L194.4,517.3L196.2,519.6L198.0,522.0L199.9,524.3L201.9,526.5L203.9,528.7L205.9,530.9L208.0,533.0L210.1,535.1L212.3,537.2L214.5,539.2L216.7,541.2L219.0,543.1L221.4,545.0L223.7,546.9L226.2,548.7L228.6,550.5L231.1,552.3L233.6,554.0L236.1,555.7L238.7,557.4L241.3,559.0L243.9,560.6L246.6,562.2L249.2,563.7L251.9,565.2L254.6,566.7L257.4,568.2L260.1,569.6L262.9,571.0L265.7,572.4L268.5,573.7L271.3,575.0L274.2,576.3L277.0,577.6L279.8,578.9L282.7,580.1L285.6,581.3L288.5,582.5L291.3,583.6L294.2,584.8L297.1,585.9L300.0,587.0L302.9,588.1L305.8,589.1L308.6,590.2L311.5,591.2L314.4,592.2L317.3,593.2L320.1,594.2L323.0,595.2L325.8,596.1L328.6,597.1L331.4,598.0L334.2,598.9L337.0,599.8L337.5,662.9L103.4,662.9L103.4,476.1Z"/>
<path fill="#895536" d="M157.3,476.0L157.8,479.2L158.4,482.4L159.1,485.5L159.9,488.6L160.7,491.6L161.5,494.6L162.5,497.6L163.5,500.5L164.5,503.4L165.6,506.3L166.8,509.1L168.0,511.9L169.3,514.6L170.7,517.4L172.1,520.0L173.6,522.7L175.1,525.3L176.6,527.8L178.3,530.3L179.9,532.8L181.7,535.3L183.4,537.7L185.3,540.1L187.1,542.4L189.0,544.7L191.0,547.0L193.0,549.2L195.0,551.4L197.1,553.5L199.3,555.7L201.4,557.7L203.6,559.8L205.9,561.8L208.2,563.8L210.5,565.7L212.8,567.6L215.2,569.5L217.7,571.3L220.1,573.1L222.6,574.8L225.1,576.5L227.7,578.2L230.3,579.9L232.9,581.5L235.5,583.1L238.2,584.6L240.8,586.1L243.5,587.6L246.3,589.0L249.0,590.4L251.8,591.8L254.6,593.1L257.4,594.4L260.2,595.6L263.1,596.8L265.9,598.0L268.8,599.2L271.7,600.3L274.6,601.4L277.5,602.4L280.5,603.4L283.4,604.4L286.4,605.3L289.3,606.2L292.3,607.1L295.3,607.9L298.2,608.7L301.2,609.5L304.2,610.2L307.2,610.9L310.2,611.6L313.2,612.2L316.2,612.8L319.1,613.4L322.1,613.9L325.1,614.4L328.1,614.8L331.1,615.3L334.0,615.6L337.0,616.0L337.5,662.9L103.4,662.9L103.4,476.1Z"/>
<path fill="#5B3924" d="M113.5,476.0L113.5,479.2L113.6,482.4L113.7,485.6L113.9,488.7L114.2,491.9L114.5,495.1L114.8,498.2L115.3,501.4L115.7,504.5L116.3,507.6L116.9,510.6L117.6,513.6L118.3,516.6L119.1,519.6L120.0,522.5L121.0,525.4L122.0,528.3L123.1,531.1L124.2,533.8L125.5,536.5L126.7,539.2L128.1,541.8L129.5,544.3L131.0,546.8L132.6,549.2L134.3,551.6L136.0,553.9L137.8,556.1L139.6,558.3L141.5,560.4L143.5,562.4L145.5,564.4L147.6,566.4L149.8,568.3L152.0,570.1L154.2,571.9L156.5,573.6L158.9,575.3L161.3,576.9L163.7,578.5L166.2,580.1L168.7,581.6L171.3,583.0L173.9,584.4L176.5,585.8L179.2,587.1L181.8,588.4L184.5,589.7L187.3,590.9L190.0,592.1L192.8,593.2L195.6,594.4L198.4,595.5L201.2,596.5L204.1,597.6L206.9,598.6L209.8,599.5L212.7,600.5L215.6,601.4L218.5,602.3L221.5,603.2L224.4,604.1L227.4,604.9L230.3,605.7L233.3,606.5L236.3,607.3L239.3,608.1L242.2,608.8L245.2,609.6L248.2,610.3L251.3,611.0L254.3,611.7L257.3,612.4L260.3,613.0L263.3,613.7L266.3,614.3L269.3,615.0L272.4,615.6L275.4,616.3L278.4,616.9L281.4,617.5L284.4,618.1L287.4,618.8L290.4,619.4L293.4,620.0L296.4,620.6L299.4,621.3L302.3,621.9L305.3,622.5L308.2,623.1L311.2,623.8L314.1,624.4L317.0,625.1L319.9,625.8L322.8,626.4L325.7,627.1L328.5,627.8L331.4,628.5L334.2,629.3L337.0,630.0L337.5,662.9L103.4,662.9L103.4,476.1Z"/>
<path fill="#2D1C12" d="M119.5,604.0L121.9,605.7L124.3,607.3L126.7,608.8L129.2,610.4L131.6,611.8L134.2,613.2L136.7,614.6L139.3,615.9L141.9,617.2L144.5,618.4L147.1,619.5L149.8,620.7L152.5,621.7L155.2,622.8L157.9,623.8L160.7,624.7L163.5,625.6L166.3,626.5L169.1,627.3L172.0,628.1L174.8,628.8L177.7,629.5L180.6,630.2L183.5,630.8L186.4,631.4L189.4,632.0L192.4,632.5L195.3,633.0L198.3,633.5L201.3,633.9L204.3,634.4L207.4,634.7L210.4,635.1L213.5,635.4L216.5,635.7L219.6,636.0L222.7,636.2L225.7,636.5L228.8,636.7L231.9,636.8L235.0,637.0L238.2,637.1L241.3,637.2L244.4,637.3L247.5,637.4L250.6,637.5L253.8,637.5L256.9,637.6L260.0,637.6L263.2,637.6L266.3,637.6L269.5,637.6L272.6,637.6L275.7,637.5L278.8,637.5L282.0,637.4L285.1,637.4L288.2,637.3L291.3,637.2L294.4,637.1L297.5,637.0L300.6,637.0L303.7,636.9L306.8,636.8L309.9,636.7L312.9,636.6L316.0,636.5L319.0,636.4L322.0,636.3L325.1,636.3L328.1,636.2L331.1,636.1L334.0,636.1L337.0,636.0L337.0,657.0L334.1,656.8L331.2,656.6L328.2,656.5L325.3,656.4L322.3,656.2L319.4,656.1L316.4,656.1L313.4,656.0L310.4,655.9L307.4,655.9L304.4,655.9L301.4,655.8L298.4,655.8L295.3,655.8L292.3,655.9L289.2,655.9L286.2,655.9L283.1,655.9L280.0,656.0L277.0,656.0L273.9,656.1L270.8,656.1L267.7,656.2L264.6,656.2L261.5,656.3L258.3,656.3L255.2,656.4L252.1,656.5L248.9,656.5L245.8,656.6L242.7,656.6L239.5,656.6L236.4,656.7L233.2,656.7L230.0,656.7L226.9,656.7L223.7,656.7L220.5,656.7L217.3,656.7L214.2,656.6L211.0,656.6L207.8,656.5L204.6,656.5L201.4,656.4L198.3,656.2L195.1,656.1L192.0,655.9L188.8,655.7L185.7,655.4L182.6,655.1L179.6,654.8L176.6,654.3L173.6,653.9L170.7,653.4L167.8,652.8L164.9,652.1L162.1,651.4L159.4,650.6L156.7,649.8L154.1,648.8L151.5,647.8L149.1,646.7L146.6,645.5L144.3,644.2L142.0,642.8L139.9,641.3L137.8,639.7L135.8,638.0L133.9,636.1L132.0,634.2L130.3,632.1L128.7,629.9L127.2,627.6L125.8,625.2L124.5,622.6L123.4,619.8L122.4,617.0L121.4,614.0L120.7,610.8L120.0,607.5L119.5,604.0Z"/>
<path fill="#000000" d="M163.0,646.5L166.0,646.5L169.1,646.5L172.1,646.5L175.2,646.5L178.2,646.6L181.3,646.6L184.3,646.6L187.4,646.7L190.4,646.7L193.4,646.7L196.5,646.8L199.5,646.8L202.6,646.9L205.6,646.9L208.7,647.0L211.7,647.0L214.8,647.1L217.8,647.1L220.9,647.2L224.0,647.2L227.0,647.3L230.1,647.4L233.1,647.4L236.2,647.5L239.2,647.5L242.3,647.6L245.3,647.6L248.4,647.7L251.4,647.8L254.5,647.8L257.6,647.9L260.6,647.9L263.7,648.0L266.7,648.0L269.8,648.0L272.8,648.1L275.9,648.1L278.9,648.2L282.0,648.2L285.1,648.2L288.1,648.2L291.2,648.3L294.2,648.3L297.3,648.3L300.3,648.3L303.4,648.3L306.5,648.3L309.5,648.3L312.6,648.3L315.6,648.3L318.7,648.3L321.7,648.2L324.8,648.2L327.8,648.2L330.9,648.1L333.9,648.1L337.0,648.0L337.0,655.5L333.9,655.5L330.9,655.5L327.8,655.5L324.8,655.4L321.7,655.4L318.7,655.4L315.6,655.4L312.5,655.4L309.5,655.3L306.4,655.3L303.4,655.3L300.3,655.2L297.2,655.2L294.2,655.1L291.1,655.1L288.0,655.0L285.0,655.0L281.9,654.9L278.8,654.9L275.8,654.8L272.7,654.7L269.7,654.6L266.6,654.5L263.5,654.4L260.5,654.3L257.4,654.2L254.3,654.1L251.3,654.0L248.2,653.9L245.2,653.7L242.1,653.6L239.1,653.4L236.0,653.3L232.9,653.1L229.9,652.9L226.8,652.8L223.8,652.6L220.7,652.4L217.7,652.1L214.6,651.9L211.6,651.7L208.5,651.5L205.5,651.2L202.4,650.9L199.4,650.7L196.3,650.4L193.3,650.1L190.3,649.8L187.2,649.5L184.2,649.1L181.2,648.8L178.1,648.5L175.1,648.1L172.1,647.7L169.0,647.3L166.0,646.9L163.0,646.5Z"/>
<path fill="#B67248" d="M103.4,625.3L111.5,625.3L113.7,627.3L116.0,629.2L118.4,631.0L120.7,632.7L123.1,634.4L125.6,636.0L128.0,637.5L130.5,639.0L133.1,640.3L135.6,641.7L138.2,642.9L140.8,644.1L143.5,645.2L146.1,646.3L148.8,647.3L151.6,648.2L154.3,649.1L157.1,650.0L159.9,650.8L162.7,651.5L165.6,652.2L168.4,652.8L171.3,653.4L174.2,654.0L177.1,654.5L180.1,654.9L183.0,655.3L186.0,655.7L189.0,656.0L192.0,656.4L195.1,656.6L198.1,656.9L201.2,657.1L204.2,657.2L207.3,657.4L210.4,657.5L213.5,657.6L216.6,657.7L219.7,657.7L222.8,657.7L226.0,657.7L229.1,657.7L232.2,657.7L235.4,657.6L238.5,657.6L241.7,657.5L244.8,657.4L248.0,657.4L251.2,657.3L254.3,657.2L257.5,657.0L260.6,656.9L263.8,656.8L267.0,656.7L270.1,656.6L273.3,656.5L276.4,656.4L279.5,656.3L282.7,656.2L285.8,656.1L288.9,656.1L292.0,656.0L295.1,656.0L298.2,656.0L301.3,655.9L304.3,656.0L307.4,656.0L310.4,656.0L313.4,656.1L316.4,656.2L319.4,656.3L322.4,656.5L325.3,656.7L328.3,656.9L331.2,657.1L334.1,657.4L337.0,657.7L337.5,662.9L103.4,662.9Z"/>
<path fill="#FFAB6D" d="M103.4,626.4L110.4,626.4L112.7,628.4L115.0,630.2L117.3,632.0L119.7,633.8L122.1,635.4L124.5,637.0L127.0,638.5L129.5,639.9L132.1,641.3L134.7,642.6L137.3,643.8L139.9,645.0L142.6,646.1L145.2,647.1L148.0,648.1L150.7,649.1L153.5,649.9L156.3,650.7L159.1,651.5L161.9,652.2L164.8,652.9L167.7,653.5L170.6,654.0L173.5,654.5L176.4,655.0L179.4,655.5L182.4,655.8L185.4,656.2L188.4,656.5L191.4,656.8L194.4,657.0L197.5,657.2L200.6,657.4L203.6,657.6L206.7,657.7L209.8,657.8L212.9,657.8L216.1,657.9L219.2,657.9L222.3,657.9L225.5,657.9L228.6,657.8L231.8,657.8L235.0,657.7L238.1,657.6L241.3,657.5L244.5,657.4L247.6,657.3L250.8,657.2L254.0,657.1L257.2,657.0L260.3,656.9L263.5,656.7L266.7,656.6L269.8,656.5L273.0,656.4L276.1,656.3L279.3,656.2L282.4,656.1L285.6,656.0L288.7,655.9L291.8,655.9L294.9,655.8L298.0,655.8L301.1,655.8L304.2,655.8L307.2,655.8L310.3,655.9L313.3,656.0L316.3,656.1L319.4,656.2L322.3,656.4L325.3,656.6L328.3,656.8L331.2,657.1L334.1,657.4L337.0,657.7L337.5,662.9L103.4,662.9Z"/>
<path fill="#FFC77F" d="M103.4,627.5L109.3,627.5L111.5,629.5L113.8,631.3L116.1,633.1L118.5,634.8L120.9,636.4L123.3,638.0L125.7,639.5L128.2,640.9L130.8,642.2L133.3,643.5L135.9,644.7L138.5,645.8L141.1,646.9L143.8,647.9L146.5,648.9L149.2,649.8L152.0,650.6L154.7,651.4L157.5,652.1L160.3,652.8L163.2,653.4L166.0,654.0L168.9,654.5L171.8,655.0L174.7,655.5L177.7,655.9L180.6,656.2L183.6,656.5L186.6,656.8L189.6,657.1L192.6,657.3L195.6,657.5L198.7,657.6L201.7,657.7L204.8,657.8L207.9,657.9L211.0,658.0L214.1,658.0L217.2,658.0L220.3,658.0L223.4,657.9L226.5,657.9L229.6,657.8L232.8,657.8L235.9,657.7L239.0,657.6L242.2,657.5L245.3,657.4L248.5,657.2L251.6,657.1L254.7,657.0L257.9,656.9L261.0,656.7L264.2,656.6L267.3,656.5L270.4,656.4L273.6,656.3L276.7,656.1L279.8,656.0L282.9,656.0L286.0,655.9L289.1,655.8L292.2,655.8L295.3,655.7L298.3,655.7L301.4,655.7L304.4,655.7L307.5,655.8L310.5,655.9L313.5,655.9L316.5,656.1L319.5,656.2L322.4,656.4L325.4,656.6L328.3,656.8L331.2,657.1L334.1,657.4L337.0,657.7L337.5,662.9L103.4,662.9Z"/>
<path fill="#B67248" d="M103.4,540L111.5,545L112,600L111.2,627L103.4,627Z"/>
</g>
<g clip-path="url(#cp_cUR)">
<path fill="#FFC77F" d="M325.5,476.1H559.6V662.9H325.5Z"/>
<path fill="#FFAB6D" d="M326.0,566.0L328.9,565.2L331.8,564.3L334.6,563.4L337.5,562.5L340.4,561.5L343.3,560.5L346.2,559.4L349.0,558.3L351.9,557.1L354.7,555.9L357.5,554.6L360.4,553.4L363.2,552.0L366.0,550.6L368.7,549.2L371.5,547.8L374.2,546.3L377.0,544.7L379.7,543.1L382.3,541.5L385.0,539.9L387.6,538.2L390.2,536.4L392.8,534.7L395.3,532.8L397.8,531.0L400.3,529.1L402.7,527.2L405.1,525.2L407.5,523.2L409.8,521.2L412.1,519.1L414.4,517.0L416.6,514.8L418.7,512.7L420.8,510.5L422.9,508.2L424.9,505.9L426.9,503.6L428.8,501.3L430.7,498.9L432.5,496.5L434.3,494.0L436.0,491.5L437.7,489.0L439.2,486.5L440.8,483.9L442.3,481.3L443.7,478.7L445.0,476.0L559.6,476.1L559.6,662.9L325.5,662.9Z"/>
<path fill="#E48E5A" d="M326.0,589.0L328.8,588.4L331.7,587.7L334.6,587.0L337.4,586.3L340.3,585.5L343.2,584.7L346.1,583.9L349.0,583.0L351.9,582.1L354.8,581.2L357.7,580.2L360.6,579.2L363.5,578.2L366.4,577.1L369.3,576.0L372.2,574.8L375.0,573.7L377.9,572.5L380.7,571.2L383.6,570.0L386.4,568.6L389.2,567.3L391.9,565.9L394.7,564.5L397.4,563.0L400.1,561.5L402.8,560.0L405.5,558.4L408.1,556.8L410.8,555.2L413.3,553.5L415.9,551.8L418.4,550.1L420.9,548.3L423.3,546.4L425.8,544.6L428.1,542.7L430.5,540.7L432.8,538.7L435.0,536.7L437.2,534.6L439.4,532.5L441.5,530.4L443.5,528.2L445.6,526.0L447.5,523.7L449.4,521.4L451.3,519.1L453.1,516.7L454.8,514.3L456.5,511.8L458.2,509.3L459.7,506.8L461.2,504.2L462.7,501.6L464.0,498.9L465.4,496.2L466.6,493.4L467.8,490.6L468.9,487.8L469.9,484.9L470.8,482.0L471.7,479.0L472.5,476.0L559.6,476.1L559.6,662.9L325.5,662.9Z"/>
<path fill="#B67248" d="M326.0,608.0L329.0,607.7L332.0,607.3L335.1,606.9L338.1,606.5L341.1,606.1L344.2,605.6L347.2,605.0L350.2,604.5L353.3,603.9L356.3,603.2L359.3,602.5L362.3,601.8L365.3,601.0L368.3,600.3L371.3,599.4L374.3,598.5L377.3,597.6L380.2,596.7L383.2,595.7L386.1,594.7L389.0,593.6L391.9,592.5L394.8,591.4L397.7,590.2L400.5,589.0L403.3,587.8L406.2,586.5L408.9,585.2L411.7,583.8L414.5,582.4L417.2,581.0L419.9,579.5L422.5,578.0L425.2,576.4L427.8,574.8L430.4,573.2L432.9,571.5L435.4,569.8L437.9,568.1L440.4,566.3L442.8,564.5L445.2,562.6L447.6,560.7L449.9,558.8L452.1,556.8L454.4,554.8L456.6,552.7L458.7,550.6L460.9,548.5L462.9,546.3L465.0,544.1L466.9,541.9L468.9,539.6L470.8,537.3L472.6,534.9L474.4,532.5L476.1,530.0L477.8,527.5L479.5,525.0L481.1,522.5L482.6,519.8L484.1,517.2L485.5,514.5L486.9,511.8L488.2,509.0L489.4,506.2L490.6,503.4L491.8,500.5L492.8,497.6L493.8,494.6L494.8,491.6L495.7,488.6L496.5,485.5L497.2,482.4L497.9,479.2L498.5,476.0L559.6,476.1L559.6,662.9L325.5,662.9Z"/>
<path fill="#895536" d="M326.0,622.5L329.1,622.4L332.3,622.3L335.4,622.2L338.6,622.0L341.7,621.8L344.8,621.6L347.9,621.4L351.0,621.1L354.0,620.8L357.1,620.4L360.1,620.0L363.2,619.6L366.2,619.2L369.2,618.7L372.2,618.2L375.1,617.6L378.1,617.0L381.1,616.4L384.0,615.7L386.9,615.0L389.8,614.3L392.7,613.5L395.5,612.7L398.4,611.9L401.2,611.0L404.0,610.1L406.8,609.1L409.5,608.1L412.3,607.0L415.0,605.9L417.7,604.8L420.4,603.6L423.1,602.4L425.7,601.1L428.3,599.8L430.9,598.4L433.5,597.0L436.0,595.6L438.6,594.1L441.1,592.5L443.5,591.0L446.0,589.3L448.4,587.6L450.8,585.9L453.2,584.1L455.5,582.3L457.8,580.4L460.1,578.5L462.4,576.5L464.6,574.5L466.8,572.4L469.0,570.3L471.2,568.2L473.3,566.0L475.4,563.8L477.5,561.6L479.6,559.3L481.6,557.0L483.6,554.7L485.6,552.3L487.6,550.0L489.6,547.6L491.5,545.2L493.5,542.7L495.4,540.3L497.2,537.8L499.1,535.4L500.9,532.9L502.8,530.4L504.6,527.9L506.4,525.4L508.1,522.9L509.9,520.3L511.6,517.8L513.2,515.3L514.9,512.7L516.5,510.1L518.1,507.6L519.6,505.0L521.1,502.4L522.5,499.8L524.0,497.2L525.3,494.6L526.7,491.9L527.9,489.3L529.2,486.7L530.3,484.0L531.4,481.4L532.5,478.7L533.5,476.0L559.6,476.1L559.6,662.9L325.5,662.9Z"/>
<path fill="#5B3924" d="M326.0,634.2L328.9,633.7L331.7,633.3L334.6,632.9L337.5,632.4L340.4,632.0L343.4,631.6L346.3,631.2L349.3,630.8L352.2,630.4L355.2,630.0L358.2,629.6L361.2,629.3L364.2,628.9L367.3,628.5L370.3,628.2L373.4,627.8L376.4,627.4L379.5,627.0L382.5,626.7L385.6,626.3L388.7,625.9L391.8,625.5L394.9,625.1L398.0,624.7L401.0,624.3L404.1,623.9L407.2,623.5L410.3,623.0L413.4,622.6L416.5,622.1L419.6,621.7L422.7,621.2L425.8,620.7L428.8,620.2L431.9,619.6L435.0,619.1L438.0,618.5L441.1,617.9L444.1,617.3L447.2,616.7L450.2,616.1L453.2,615.4L456.2,614.7L459.2,614.0L462.2,613.3L465.2,612.5L468.1,611.7L471.1,610.9L474.0,610.0L476.9,609.2L479.8,608.3L482.7,607.3L485.6,606.4L488.4,605.3L491.2,604.3L494.0,603.2L496.7,602.1L499.4,600.9L502.1,599.7L504.7,598.4L507.3,597.0L509.8,595.6L512.2,594.1L514.6,592.5L516.9,590.9L519.2,589.2L521.3,587.4L523.4,585.5L525.4,583.6L527.4,581.6L529.2,579.5L531.0,577.3L532.8,575.1L534.4,572.8L535.9,570.4L537.4,568.0L538.8,565.4L540.1,562.9L541.4,560.2L542.5,557.5L543.6,554.7L544.6,551.9L545.6,549.0L546.5,546.1L547.3,543.1L548.1,540.1L548.8,537.1L549.5,534.0L550.1,531.0L550.7,527.9L551.3,524.8L551.8,521.6L552.4,518.5L552.9,515.4L553.3,512.3L553.8,509.2L554.3,506.1L554.7,503.0L555.1,499.9L555.6,496.9L556.0,493.9L556.5,490.9L557.0,488.0L559.6,488.0L559.6,662.9L325.5,662.9Z"/>
<path fill="#2D1C12" d="M326.0,645.2L329.1,644.9L332.2,644.7L335.3,644.5L338.4,644.4L341.5,644.3L344.6,644.3L347.7,644.3L350.7,644.3L353.8,644.4L356.9,644.5L359.9,644.6L363.0,644.7L366.0,644.9L369.1,645.1L372.1,645.3L375.2,645.5L378.2,645.7L381.3,645.9L384.3,646.1L387.3,646.4L390.4,646.6L393.4,646.8L396.4,647.0L399.5,647.2L402.5,647.4L405.5,647.6L408.6,647.7L411.6,647.8L414.7,648.0L417.7,648.0L420.7,648.1L423.8,648.1L426.8,648.1L429.9,648.0L432.9,647.9L436.0,647.8L439.0,647.6L442.1,647.3L445.1,647.0L448.2,646.7L451.3,646.3L454.4,645.8L457.4,645.2L460.5,644.6L463.6,644.0L466.7,643.3L469.8,642.5L472.9,641.7L476.0,640.8L479.0,639.9L482.1,639.0L485.1,638.1L488.2,637.1L491.2,636.1L494.2,635.2L497.1,634.2L500.0,633.2L503.0,632.3L505.8,631.3L508.7,630.4L511.5,629.5L514.2,628.7L517.0,627.9L519.6,627.1L522.3,626.4L524.9,625.7L527.3,625.2L529.7,624.7L531.9,624.4L533.9,624.3L535.6,624.4L537.0,624.8L538.2,625.4L538.9,626.3L539.3,627.6L539.3,629.2L538.8,631.2L537.9,633.4L536.5,635.8L534.8,638.3L532.7,640.7L530.2,643.1L527.3,645.2L524.1,647.1L520.6,648.6L516.8,649.6L516.8,649.6L513.7,650.0L510.7,650.3L507.6,650.7L504.6,651.0L501.5,651.4L498.4,651.7L495.4,652.0L492.3,652.2L489.3,652.5L486.2,652.7L483.1,653.0L480.0,653.2L477.0,653.4L473.9,653.6L470.8,653.8L467.8,654.0L464.7,654.2L461.6,654.4L458.5,654.5L455.5,654.7L452.4,654.8L449.3,654.9L446.2,655.0L443.1,655.2L440.1,655.3L437.0,655.4L433.9,655.4L430.8,655.5L427.7,655.6L424.7,655.7L421.6,655.8L418.5,655.8L415.4,655.9L412.3,655.9L409.2,656.0L406.1,656.0L403.1,656.1L400.0,656.1L396.9,656.2L393.8,656.2L390.7,656.3L387.6,656.3L384.6,656.4L381.5,656.4L378.4,656.4L375.3,656.5L372.2,656.5L369.1,656.6L366.0,656.6L363.0,656.6L359.9,656.7L356.8,656.7L353.7,656.8L350.6,656.9L347.5,656.9L344.5,657.0L341.4,657.1L338.3,657.1L335.2,657.2L332.2,657.3L329.1,657.4L326.0,657.5Z"/>
<path fill="#000000" d="M326.0,652.4L329.1,652.5L332.2,652.6L335.3,652.6L338.4,652.7L341.5,652.7L344.6,652.7L347.7,652.7L350.8,652.7L353.9,652.7L357.0,652.6L360.1,652.6L363.2,652.5L366.3,652.5L369.4,652.4L372.5,652.4L375.6,652.3L378.7,652.3L381.8,652.2L384.9,652.1L388.0,652.1L391.1,652.0L394.2,652.0L397.3,651.9L400.4,651.9L403.5,651.9L406.6,651.9L409.7,651.8L412.8,651.9L415.9,651.9L419.0,651.9L422.1,652.0L425.2,652.0L428.3,652.1L431.4,652.2L434.5,652.3L437.5,652.5L440.6,652.6L443.7,652.8L446.8,653.0L449.9,653.2L452.9,653.5L456.0,653.8L456.0,653.8L452.9,654.2L449.9,654.7L446.8,655.0L443.7,655.4L440.7,655.7L437.6,655.9L434.5,656.2L431.4,656.4L428.4,656.5L425.3,656.7L422.2,656.8L419.1,656.9L416.0,657.0L412.9,657.1L409.8,657.1L406.7,657.1L403.6,657.2L400.5,657.1L397.4,657.1L394.3,657.1L391.2,657.1L388.1,657.0L385.0,656.9L381.9,656.9L378.7,656.8L375.6,656.7L372.5,656.7L369.4,656.6L366.3,656.5L363.2,656.4L360.1,656.4L357.0,656.3L353.9,656.3L350.8,656.2L347.7,656.2L344.6,656.1L341.5,656.1L338.4,656.1L335.3,656.1L332.2,656.2L329.1,656.2L326.0,656.3Z"/>
<path fill="#895536" d="M550,590L551,575L553.8,570L553.8,628L550.5,628Z"/>
<path fill="#B67248" d="M559.6,622.0L551.8,622.0L550.4,624.8L548.9,627.5L547.2,630.0L545.5,632.4L543.6,634.6L541.7,636.7L539.7,638.6L537.6,640.4L535.4,642.1L533.1,643.7L530.8,645.2L528.4,646.5L525.9,647.8L523.3,648.9L520.7,650.0L518.0,650.9L515.2,651.8L512.4,652.6L509.5,653.2L506.6,653.9L503.6,654.4L500.6,654.9L497.6,655.3L494.5,655.6L491.4,655.9L488.2,656.1L485.1,656.3L481.8,656.4L478.6,656.5L475.4,656.5L472.1,656.6L468.8,656.6L465.6,656.5L462.3,656.5L459.0,656.4L455.7,656.3L452.4,656.2L449.1,656.1L445.8,656.1L442.6,656.0L439.3,655.9L436.1,655.8L432.9,655.8L429.7,655.8L426.6,655.8L423.4,655.8L420.4,655.9L417.3,656.0L414.3,656.1L411.3,656.3L408.4,656.5L405.6,656.8L402.8,657.2L400.0,657.6L325.5,662.9L559.6,662.9Z"/>
<path fill="#FFAB6D" d="M559.6,623.0L552.8,623.0L551.4,625.8L549.9,628.4L548.3,630.9L546.6,633.2L544.7,635.4L542.8,637.5L540.9,639.4L538.8,641.2L536.6,642.9L534.4,644.4L532.1,645.9L529.7,647.2L527.2,648.4L524.7,649.5L522.1,650.5L519.5,651.5L516.8,652.3L514.0,653.0L511.2,653.7L508.3,654.3L505.4,654.8L502.4,655.2L499.5,655.6L496.4,655.9L493.3,656.2L490.2,656.4L487.1,656.5L484.0,656.6L480.8,656.7L477.6,656.7L474.4,656.7L471.1,656.7L467.9,656.7L464.6,656.6L461.4,656.5L458.1,656.4L454.9,656.3L451.6,656.2L448.4,656.0L445.2,655.9L442.0,655.8L438.8,655.7L435.6,655.7L432.4,655.6L429.3,655.6L426.2,655.6L423.1,655.6L420.1,655.7L417.1,655.8L414.1,656.0L411.2,656.2L408.3,656.4L405.5,656.8L402.7,657.2L400.0,657.6L325.5,662.9L559.6,662.9Z"/>
<path fill="#FFC77F" d="M559.6,624.0L553.8,624.0L552.4,626.8L550.9,629.5L549.3,632.0L547.6,634.3L545.8,636.5L543.8,638.6L541.8,640.5L539.8,642.3L537.6,644.0L535.3,645.5L533.0,646.9L530.6,648.2L528.1,649.4L525.5,650.4L522.9,651.4L520.2,652.3L517.5,653.1L514.7,653.8L511.8,654.4L508.9,654.9L506.0,655.4L503.0,655.7L500.0,656.1L496.9,656.3L493.8,656.5L490.7,656.7L487.5,656.8L484.3,656.9L481.2,656.9L477.9,656.9L474.7,656.8L471.5,656.8L468.2,656.7L465.0,656.6L461.7,656.5L458.4,656.4L455.2,656.2L451.9,656.1L448.7,656.0L445.4,655.9L442.2,655.8L439.0,655.7L435.8,655.6L432.7,655.5L429.5,655.5L426.4,655.5L423.3,655.6L420.3,655.6L417.2,655.8L414.3,655.9L411.3,656.1L408.4,656.4L405.6,656.7L402.8,657.1L400.0,657.6L325.5,662.9L559.6,662.9Z"/>
</g>
<g clip-path="url(#cp_cLL)">
<path fill="#FFC77F" d="M103.4,650.9H337.5V837.7H103.4Z"/>
<path fill="#FFAB6D" d="M337.0,737.0L334.0,737.4L331.0,737.9L328.1,738.5L325.1,739.1L322.2,739.9L319.3,740.6L316.4,741.5L313.5,742.4L310.6,743.4L307.7,744.4L304.9,745.5L302.0,746.7L299.2,747.9L296.4,749.2L293.7,750.5L290.9,751.9L288.2,753.3L285.5,754.8L282.8,756.4L280.2,758.0L277.5,759.6L274.9,761.3L272.4,763.1L269.8,764.8L267.3,766.7L264.8,768.5L262.3,770.4L259.9,772.4L257.5,774.4L255.1,776.4L252.8,778.5L250.5,780.6L248.2,782.7L245.9,784.8L243.7,787.0L241.6,789.3L239.4,791.5L237.3,793.8L235.3,796.1L233.2,798.4L231.3,800.8L229.3,803.2L227.4,805.5L225.6,808.0L223.7,810.4L222.0,812.8L220.2,815.3L218.6,817.8L216.9,820.3L215.3,822.8L213.8,825.3L212.3,827.8L210.8,830.4L209.4,832.9L208.1,835.4L206.8,838.0L206.8,837.7L103.4,837.7L103.4,650.9L337.5,650.9Z"/>
<path fill="#E48E5A" d="M337.0,715.0L334.1,715.4L331.2,715.9L328.3,716.4L325.4,716.9L322.4,717.5L319.5,718.2L316.5,718.8L313.6,719.6L310.7,720.3L307.7,721.1L304.7,721.9L301.8,722.8L298.9,723.7L295.9,724.7L293.0,725.7L290.0,726.7L287.1,727.8L284.2,728.9L281.3,730.1L278.4,731.3L275.5,732.5L272.6,733.8L269.8,735.1L266.9,736.5L264.1,737.8L261.3,739.3L258.5,740.7L255.7,742.2L253.0,743.8L250.3,745.4L247.6,747.0L244.9,748.6L242.3,750.3L239.7,752.1L237.1,753.8L234.5,755.6L232.0,757.5L229.5,759.4L227.1,761.3L224.6,763.2L222.3,765.2L219.9,767.3L217.6,769.3L215.4,771.4L213.1,773.5L211.0,775.7L208.8,777.9L206.7,780.1L204.7,782.4L202.7,784.7L200.8,787.1L198.9,789.4L197.1,791.9L195.3,794.3L193.5,796.8L191.9,799.3L190.2,801.9L188.7,804.4L187.2,807.0L185.8,809.7L184.4,812.4L183.1,815.1L181.8,817.8L180.6,820.6L179.5,823.4L178.5,826.3L177.5,829.2L176.6,832.1L175.8,835.0L175.0,838.0L175.0,837.7L103.4,837.7L103.4,650.9L337.5,650.9Z"/>
<path fill="#B67248" d="M337.0,697.0L334.1,697.2L331.2,697.5L328.3,697.8L325.3,698.1L322.4,698.5L319.4,698.9L316.4,699.3L313.4,699.7L310.5,700.2L307.5,700.7L304.5,701.3L301.5,701.9L298.4,702.5L295.4,703.2L292.4,703.8L289.4,704.6L286.4,705.3L283.4,706.1L280.4,706.9L277.4,707.8L274.4,708.7L271.5,709.6L268.5,710.6L265.6,711.6L262.6,712.6L259.7,713.7L256.8,714.8L253.9,715.9L251.0,717.1L248.1,718.3L245.3,719.6L242.5,720.9L239.7,722.2L236.9,723.5L234.2,724.9L231.4,726.4L228.7,727.8L226.1,729.3L223.4,730.9L220.8,732.5L218.2,734.1L215.7,735.7L213.2,737.4L210.7,739.2L208.3,740.9L205.9,742.8L203.5,744.6L201.2,746.5L198.9,748.4L196.7,750.4L194.5,752.4L192.4,754.4L190.3,756.5L188.2,758.6L186.2,760.8L184.3,763.0L182.4,765.2L180.5,767.5L178.8,769.8L177.0,772.2L175.3,774.6L173.7,777.0L172.2,779.5L170.7,782.1L169.2,784.6L167.9,787.2L166.5,789.9L165.3,792.6L164.1,795.3L163.0,798.1L162.0,800.9L161.0,803.7L160.1,806.6L159.3,809.6L158.5,812.6L157.8,815.6L157.2,818.7L156.7,821.8L156.3,824.9L155.9,828.1L155.6,831.4L155.4,834.7L155.3,838.0L155.3,837.7L103.4,837.7L103.4,650.9L337.5,650.9Z"/>
<path fill="#895536" d="M337.0,683.5L334.1,683.7L331.3,683.9L328.4,684.1L325.5,684.3L322.6,684.6L319.7,684.9L316.7,685.2L313.8,685.6L310.8,685.9L307.8,686.3L304.8,686.8L301.8,687.2L298.8,687.7L295.8,688.2L292.7,688.7L289.7,689.3L286.7,689.9L283.6,690.5L280.6,691.1L277.6,691.8L274.5,692.5L271.5,693.2L268.4,693.9L265.4,694.7L262.4,695.5L259.3,696.3L256.3,697.2L253.3,698.1L250.3,699.0L247.3,700.0L244.3,701.0L241.3,702.0L238.3,703.0L235.4,704.1L232.4,705.2L229.5,706.3L226.6,707.5L223.7,708.7L220.8,709.9L218.0,711.2L215.2,712.5L212.3,713.8L209.5,715.1L206.8,716.5L204.0,717.9L201.3,719.4L198.6,720.9L196.0,722.4L193.3,724.0L190.7,725.5L188.1,727.2L185.6,728.8L183.1,730.5L180.6,732.2L178.2,734.0L175.8,735.8L173.4,737.6L171.0,739.4L168.7,741.3L166.5,743.3L164.3,745.2L162.1,747.2L160.0,749.3L157.9,751.3L155.8,753.5L153.8,755.6L151.9,757.8L150.0,760.0L148.1,762.3L146.3,764.6L144.6,766.9L142.9,769.3L141.2,771.7L139.6,774.1L138.1,776.6L136.6,779.1L135.2,781.7L133.8,784.3L132.5,786.9L131.3,789.6L130.1,792.3L128.9,795.1L127.9,797.9L126.9,800.7L126.0,803.6L125.1,806.5L124.3,809.5L123.6,812.5L122.9,815.5L122.3,818.6L121.8,821.8L121.3,824.9L121.0,828.1L120.7,831.4L120.4,834.7L120.3,838.0L120.3,837.7L103.4,837.7L103.4,650.9L337.5,650.9Z"/>
<path fill="#5B3924" d="M337.0,673.3L334.0,673.6L331.1,674.0L328.1,674.3L325.2,674.6L322.2,675.0L319.2,675.3L316.3,675.6L313.3,675.9L310.4,676.2L307.4,676.5L304.4,676.7L301.4,677.0L298.5,677.3L295.5,677.5L292.5,677.8L289.5,678.0L286.4,678.3L283.4,678.5L280.4,678.8L277.3,679.0L274.3,679.2L271.2,679.4L268.1,679.6L265.0,679.8L261.9,680.0L258.8,680.2L255.7,680.3L252.5,680.5L249.3,680.7L246.1,680.8L242.9,681.0L239.7,681.1L236.5,681.3L233.3,681.5L230.1,681.7L226.9,681.9L223.7,682.1L220.5,682.4L217.3,682.6L214.1,682.9L210.9,683.3L207.8,683.7L204.6,684.1L201.5,684.5L198.5,685.0L195.4,685.6L192.4,686.2L189.4,686.8L186.5,687.6L183.6,688.3L180.7,689.2L177.9,690.1L175.1,691.1L172.4,692.1L169.7,693.3L167.1,694.5L164.6,695.8L162.1,697.2L159.6,698.6L157.2,700.2L154.9,701.8L152.6,703.5L150.4,705.2L148.2,707.0L146.1,708.9L144.1,710.9L142.1,712.9L140.1,715.0L138.3,717.1L136.4,719.3L134.7,721.6L133.0,723.9L131.3,726.3L129.7,728.7L128.2,731.2L126.7,733.7L125.2,736.3L123.8,738.9L122.5,741.5L121.3,744.2L120.0,746.9L118.9,749.7L117.8,752.5L116.7,755.3L115.8,758.2L114.8,761.1L113.9,764.0L113.1,767.0L112.3,770.0L111.6,773.0L111.0,776.0L110.4,779.0L109.8,782.1L109.3,785.1L108.9,788.2L108.5,791.3L108.2,794.4L107.9,797.6L107.7,800.7L107.5,803.8L107.4,806.9L107.4,810.1L107.4,813.2L107.4,816.3L107.5,819.5L107.7,822.6L107.9,825.7L108.2,828.8L108.5,831.9L108.9,834.9L109.3,838.0L109.3,837.7L103.4,837.7L103.4,650.9L337.5,650.9Z"/>
<path fill="#2D1C12" d="M200.0,660.5L196.9,660.2L193.7,659.9L190.5,659.7L187.2,659.5L184.0,659.3L180.7,659.2L177.4,659.2L174.1,659.2L170.8,659.3L167.6,659.4L164.4,659.7L161.2,659.9L158.0,660.3L154.9,660.8L151.9,661.3L148.9,662.0L146.0,662.7L143.1,663.5L140.4,664.5L137.8,665.5L135.2,666.7L132.8,668.0L130.4,669.4L128.2,670.9L126.2,672.6L124.3,674.4L122.5,676.4L120.9,678.4L119.4,680.7L118.1,683.0L116.9,685.5L115.8,688.1L114.9,690.8L114.1,693.7L113.4,696.6L112.8,699.5L112.3,702.6L111.9,705.7L111.6,708.9L111.3,712.1L111.1,715.4L110.9,718.6L110.8,721.9L110.7,725.3L110.7,728.6L110.7,731.9L110.7,735.2L110.7,738.5L110.7,741.7L110.7,744.9L110.6,748.1L110.6,751.2L110.5,754.2L110.4,757.1L110.2,760.0L103.4,760.0L103.4,650.9L337.5,650.9Z"/>
<path fill="#2D1C12" d="M131.0,677.0L133.5,675.6L136.1,674.3L138.7,673.0L141.3,671.8L144.0,670.7L146.7,669.6L149.4,668.6L152.1,667.7L154.8,666.8L157.6,666.0L160.4,665.2L163.2,664.4L166.1,663.8L168.9,663.1L171.8,662.5L174.7,662.0L177.6,661.5L180.5,661.0L183.4,660.6L186.4,660.3L189.4,659.9L192.4,659.6L195.4,659.4L198.4,659.1L201.4,658.9L204.4,658.8L207.5,658.6L210.6,658.5L213.6,658.4L216.7,658.3L219.8,658.3L222.9,658.3L226.0,658.3L229.1,658.3L232.2,658.3L235.3,658.4L238.5,658.4L241.6,658.5L244.7,658.6L247.9,658.7L251.0,658.8L254.1,658.9L257.3,659.0L260.4,659.1L263.5,659.3L266.7,659.4L269.8,659.5L273.0,659.6L276.1,659.7L279.2,659.8L282.3,659.9L285.4,660.0L288.6,660.0L291.7,660.1L294.8,660.2L297.8,660.2L300.9,660.2L304.0,660.2L307.1,660.2L310.1,660.1L313.2,660.1L316.2,660.0L319.2,659.8L322.2,659.7L325.2,659.5L328.2,659.3L331.1,659.1L334.1,658.8L337.0,658.5L337.0,662.0L334.0,662.0L330.9,661.9L327.9,661.9L324.8,661.9L321.8,661.9L318.8,661.9L315.7,661.9L312.7,661.9L309.6,661.9L306.6,662.0L303.5,662.0L300.5,662.1L297.4,662.2L294.4,662.2L291.3,662.3L288.3,662.4L285.3,662.5L282.2,662.6L279.2,662.8L276.1,662.9L273.1,663.0L270.0,663.2L267.0,663.3L263.9,663.5L260.9,663.7L257.8,663.8L254.8,664.0L251.7,664.2L248.7,664.4L245.7,664.6L242.6,664.8L239.6,665.1L236.5,665.3L233.5,665.5L230.5,665.8L227.4,666.0L224.4,666.3L221.3,666.5L218.3,666.8L215.3,667.1L212.2,667.4L209.2,667.7L206.2,667.9L203.2,668.3L200.1,668.6L197.1,668.9L194.1,669.2L191.1,669.5L188.0,669.8L185.0,670.2L182.0,670.5L179.0,670.9L176.0,671.2L172.9,671.6L169.9,671.9L166.9,672.3L163.9,672.7L160.9,673.0L157.9,673.4L154.9,673.8L151.9,674.2L148.9,674.6L145.9,675.0L142.9,675.4L139.9,675.8L137.0,676.2L134.0,676.6L131.0,677.0Z"/>
<path fill="#000000" d="M200.0,658.8L197.1,658.8L194.0,658.7L191.0,658.6L187.8,658.5L184.6,658.4L181.4,658.3L178.1,658.2L174.8,658.2L171.5,658.1L168.2,658.1L164.9,658.2L161.7,658.3L158.4,658.5L155.2,658.7L152.0,659.1L148.9,659.5L145.9,660.0L142.9,660.7L140.0,661.4L137.2,662.3L134.5,663.3L131.9,664.4L129.5,665.7L127.1,667.2L124.9,668.8L122.8,670.5L120.9,672.4L119.1,674.4L117.4,676.6L115.8,678.8L114.4,681.2L113.1,683.7L112.0,686.4L111.0,689.1L110.1,691.9L109.4,694.9L108.9,697.9L108.5,701.0L108.2,704.2L108.1,707.5L108.1,710.9L108.3,714.3L108.6,717.8L109.1,721.4L109.8,725.0L103.4,725.0L103.4,650.9L337.5,650.9Z"/>
<path fill="#fff" d="M260.0,656.9L257.3,657.3L254.6,657.7L251.8,658.0L248.9,658.3L246.0,658.5L243.1,658.6L240.1,658.7L237.0,658.7L234.0,658.7L230.9,658.7L227.7,658.6L224.6,658.5L221.4,658.4L218.2,658.2L214.9,658.1L211.7,657.9L208.4,657.7L205.1,657.5L201.8,657.3L198.5,657.1L195.2,656.9L191.9,656.7L188.6,656.6L185.3,656.4L182.0,656.3L178.8,656.2L175.5,656.2L172.3,656.2L169.0,656.2L165.9,656.2L162.7,656.4L159.6,656.5L156.5,656.8L153.4,657.1L150.4,657.4L147.5,657.9L144.6,658.4L141.8,659.0L139.1,659.8L136.4,660.6L133.9,661.5L131.4,662.6L129.0,663.7L126.8,665.0L124.6,666.5L122.6,668.1L120.7,669.8L118.9,671.6L117.2,673.7L115.7,675.9L114.3,678.2L113.1,680.8L112.0,683.5L111.1,686.4L110.4,689.5L109.9,692.8L109.5,696.3L109.3,700.0L103.4,700.0L103.4,650.9Z"/>
</g>
<g clip-path="url(#cp_cLR)">
<path fill="#FFC77F" d="M325.5,650.9H559.6V837.7H325.5Z"/>
<path fill="#FFAB6D" d="M326.0,728.8L329.0,728.9L332.0,729.1L335.0,729.3L337.9,729.6L340.9,730.0L343.9,730.4L346.9,730.9L349.9,731.5L352.9,732.1L355.8,732.8L358.8,733.5L361.7,734.3L364.7,735.2L367.6,736.1L370.5,737.1L373.4,738.2L376.3,739.3L379.2,740.4L382.0,741.7L384.9,742.9L387.7,744.3L390.5,745.6L393.2,747.1L396.0,748.5L398.7,750.1L401.4,751.7L404.1,753.3L406.7,755.0L409.3,756.7L411.9,758.5L414.4,760.3L416.9,762.2L419.4,764.1L421.8,766.0L424.2,768.0L426.5,770.1L428.8,772.1L431.1,774.3L433.3,776.4L435.5,778.6L437.6,780.9L439.7,783.1L441.8,785.4L443.8,787.8L445.7,790.2L447.6,792.6L449.4,795.0L451.2,797.5L452.9,800.0L454.6,802.5L456.2,805.1L457.7,807.7L459.2,810.3L460.6,813.0L462.0,815.7L463.3,818.4L464.5,821.1L465.7,823.9L466.8,826.7L467.8,829.5L468.7,832.3L469.6,835.1L470.4,838.0L470.4,837.7L559.6,837.7L559.6,650.9L325.5,650.9Z"/>
<path fill="#E48E5A" d="M326.0,706.8L329.1,706.7L332.2,706.7L335.2,706.7L338.3,706.8L341.4,707.0L344.4,707.2L347.5,707.4L350.5,707.8L353.6,708.1L356.6,708.6L359.6,709.1L362.6,709.6L365.6,710.2L368.6,710.9L371.6,711.6L374.6,712.3L377.5,713.1L380.5,714.0L383.4,714.9L386.3,715.9L389.2,716.9L392.0,718.0L394.9,719.1L397.7,720.2L400.5,721.4L403.3,722.7L406.1,724.0L408.8,725.4L411.6,726.8L414.3,728.2L416.9,729.7L419.6,731.2L422.2,732.8L424.8,734.4L427.4,736.1L429.9,737.8L432.4,739.6L434.9,741.3L437.3,743.2L439.7,745.1L442.1,747.0L444.5,748.9L446.8,750.9L449.1,752.9L451.3,755.0L453.5,757.1L455.7,759.2L457.8,761.4L459.9,763.6L461.9,765.9L463.9,768.2L465.9,770.5L467.8,772.8L469.7,775.2L471.5,777.6L473.3,780.1L475.0,782.6L476.7,785.1L478.4,787.6L480.0,790.2L481.5,792.8L483.0,795.4L484.5,798.1L485.9,800.8L487.2,803.5L488.5,806.2L489.8,809.0L490.9,811.8L492.1,814.6L493.1,817.4L494.2,820.3L495.1,823.2L496.0,826.1L496.8,829.1L497.6,832.0L498.3,835.0L499.0,838.0L499.0,837.7L559.6,837.7L559.6,650.9L325.5,650.9Z"/>
<path fill="#B67248" d="M326.0,690.4L329.0,690.4L332.1,690.4L335.1,690.5L338.2,690.6L341.2,690.7L344.3,690.9L347.4,691.1L350.4,691.4L353.5,691.7L356.5,692.0L359.6,692.4L362.6,692.8L365.7,693.3L368.7,693.8L371.8,694.3L374.8,694.9L377.8,695.5L380.9,696.2L383.9,696.9L386.9,697.6L389.9,698.4L392.8,699.2L395.8,700.1L398.8,701.0L401.7,701.9L404.6,702.9L407.5,703.9L410.4,705.0L413.3,706.1L416.1,707.2L419.0,708.4L421.8,709.6L424.6,710.8L427.4,712.1L430.1,713.5L432.8,714.8L435.5,716.2L438.2,717.7L440.8,719.1L443.4,720.7L446.0,722.2L448.6,723.8L451.1,725.5L453.6,727.1L456.1,728.8L458.5,730.6L460.9,732.4L463.3,734.2L465.6,736.1L467.9,738.0L470.1,739.9L472.4,741.9L474.5,743.9L476.7,746.0L478.8,748.1L480.8,750.2L482.8,752.3L484.8,754.6L486.7,756.8L488.6,759.1L490.4,761.4L492.2,763.8L493.9,766.1L495.6,768.6L497.2,771.0L498.8,773.5L500.4,776.1L501.8,778.7L503.3,781.3L504.6,783.9L505.9,786.6L507.2,789.4L508.4,792.1L509.6,794.9L510.6,797.8L511.7,800.6L512.6,803.6L513.5,806.5L514.4,809.5L515.2,812.5L515.9,815.6L516.5,818.7L517.1,821.8L517.6,825.0L518.1,828.2L518.4,831.4L518.8,834.7L519.0,838.0L519.0,837.7L559.6,837.7L559.6,650.9L325.5,650.9Z"/>
<path fill="#895536" d="M326.0,678.3L328.8,678.7L331.6,679.2L334.4,679.6L337.3,680.0L340.2,680.4L343.1,680.8L346.0,681.2L349.0,681.6L352.0,682.0L354.9,682.4L358.0,682.8L361.0,683.2L364.0,683.6L367.0,684.0L370.1,684.4L373.2,684.8L376.2,685.2L379.3,685.6L382.4,686.0L385.5,686.4L388.6,686.9L391.7,687.3L394.8,687.8L397.9,688.3L401.0,688.8L404.2,689.3L407.3,689.8L410.4,690.3L413.5,690.9L416.6,691.5L419.6,692.1L422.7,692.8L425.8,693.4L428.8,694.1L431.9,694.8L434.9,695.5L437.9,696.3L440.9,697.1L443.9,697.9L446.9,698.8L449.8,699.7L452.8,700.6L455.7,701.6L458.6,702.6L461.4,703.6L464.3,704.7L467.1,705.8L469.9,707.0L472.6,708.2L475.3,709.5L478.0,710.8L480.7,712.1L483.3,713.5L485.9,714.9L488.5,716.4L491.0,718.0L493.5,719.5L496.0,721.2L498.4,722.8L500.8,724.5L503.1,726.3L505.4,728.1L507.6,730.0L509.9,731.8L512.0,733.8L514.1,735.8L516.2,737.8L518.2,739.9L520.2,742.0L522.1,744.1L523.9,746.3L525.7,748.6L527.5,750.9L529.2,753.2L530.8,755.6L532.4,758.0L533.9,760.4L535.4,762.9L536.8,765.5L538.1,768.0L539.4,770.6L540.6,773.3L541.8,776.0L542.8,778.7L543.8,781.5L544.8,784.3L545.7,787.2L546.5,790.1L547.2,793.0L547.8,796.0L548.4,799.0L548.9,802.0L549.4,805.1L549.7,808.3L550.0,811.4L550.2,814.6L550.3,817.9L550.3,821.1L550.3,824.4L550.1,827.8L549.9,831.2L549.6,834.6L549.2,838.0L549.2,837.7L559.6,837.7L559.6,650.9L325.5,650.9Z"/>
<path fill="#5B3924" d="M326.0,673.0L328.8,673.3L331.5,673.6L334.3,673.9L337.2,674.1L340.1,674.3L343.0,674.4L345.9,674.5L348.8,674.6L351.8,674.6L354.8,674.7L357.8,674.6L360.9,674.6L363.9,674.6L367.0,674.5L370.1,674.4L373.2,674.3L376.3,674.2L379.5,674.0L382.6,673.9L385.8,673.8L389.0,673.6L392.1,673.5L395.3,673.3L398.5,673.2L401.7,673.0L404.9,672.9L408.1,672.8L411.2,672.7L414.4,672.6L417.6,672.6L420.8,672.5L424.0,672.5L427.1,672.5L430.3,672.5L433.4,672.6L436.6,672.7L439.7,672.8L442.8,672.9L445.9,673.1L448.9,673.4L452.0,673.7L455.0,674.0L458.1,674.4L461.1,674.8L464.0,675.3L467.0,675.8L469.9,676.4L472.8,677.0L475.7,677.7L478.5,678.5L481.3,679.3L484.1,680.2L486.8,681.2L489.5,682.3L492.2,683.4L494.8,684.6L497.4,685.8L499.9,687.2L502.4,688.5L504.9,690.0L507.3,691.5L509.7,693.1L512.0,694.8L514.3,696.5L516.5,698.3L518.6,700.2L520.7,702.1L522.8,704.1L524.8,706.1L526.7,708.2L528.6,710.4L530.4,712.6L532.1,714.9L533.8,717.3L535.4,719.7L537.0,722.1L538.5,724.7L539.9,727.3L541.2,729.9L542.5,732.6L543.7,735.4L544.8,738.2L545.8,741.0L546.8,743.9L547.8,746.8L548.6,749.8L549.4,752.8L550.2,755.8L550.9,758.9L551.5,761.9L552.1,765.0L552.7,768.1L553.2,771.2L553.6,774.3L554.0,777.4L554.4,780.5L554.7,783.6L555.0,786.7L555.3,789.8L555.5,792.9L555.6,796.0L555.8,799.0L555.9,802.0L556.0,805.0L559.6,805.0L559.6,650.9L325.5,650.9Z"/>
<path fill="#2D1C12" d="M460.0,660.3L462.9,660.3L465.8,660.2L468.9,660.1L472.0,659.9L475.2,659.7L478.4,659.6L481.6,659.4L484.9,659.3L488.2,659.2L491.4,659.1L494.7,659.1L497.9,659.2L501.1,659.3L504.3,659.6L507.4,659.9L510.4,660.4L513.4,660.9L516.2,661.6L519.0,662.5L521.6,663.5L524.2,664.6L526.6,665.9L529.0,667.3L531.2,668.8L533.3,670.4L535.4,672.2L537.3,674.1L539.1,676.1L540.7,678.1L542.3,680.3L543.7,682.6L545.1,685.0L546.3,687.4L547.4,690.0L548.4,692.6L549.2,695.3L550.0,698.1L550.6,700.9L551.1,703.8L551.5,706.8L551.9,709.8L552.1,712.9L552.3,716.0L552.4,719.1L552.5,722.3L552.5,725.5L552.5,728.7L552.4,732.0L552.3,735.3L552.1,738.6L552.0,741.9L551.9,745.2L551.7,748.5L551.6,751.8L551.4,755.0L551.3,758.3L551.2,761.6L551.2,764.8L551.2,768.0L551.2,771.2L551.3,774.3L551.5,777.4L551.7,780.4L552.0,783.4L552.4,786.3L552.9,789.2L553.5,792.0L554.2,794.7L555.1,797.4L556.0,800.0L559.6,800.0L559.6,650.9L325.5,650.9Z"/>
<path fill="#2D1C12" d="M325.5,650.9H559.6V660H325.5Z"/>
<path fill="#000000" d="M480.0,658.3L483.5,657.7L486.9,657.2L490.3,656.8L493.6,656.5L496.9,656.4L500.2,656.4L503.4,656.5L506.6,656.7L509.7,657.1L512.7,657.6L515.6,658.2L518.5,659.0L521.2,659.9L523.9,660.9L526.5,662.0L529.0,663.3L531.4,664.7L533.6,666.2L535.8,667.9L537.8,669.6L539.7,671.5L541.5,673.6L543.1,675.7L544.6,678.0L545.9,680.4L547.1,682.9L548.2,685.5L549.1,688.3L549.9,691.1L550.6,694.0L551.3,697.0L551.8,700.1L552.3,703.2L552.7,706.3L553.0,709.5L553.3,712.7L553.5,715.9L553.7,719.2L553.9,722.4L554.0,725.6L554.2,728.8L554.4,732.0L554.6,735.2L554.8,738.3L555.0,741.3L555.3,744.3L555.6,747.2L556.0,750.0L559.6,750.0L559.6,650.9L325.5,650.9Z"/>
<path fill="#fff" d="M440.0,656.9L442.8,656.9L445.6,656.9L448.5,656.9L451.5,656.8L454.5,656.7L457.6,656.6L460.7,656.5L463.8,656.4L467.0,656.3L470.3,656.2L473.5,656.1L476.8,656.0L480.0,656.0L483.3,655.9L486.6,655.9L489.9,656.0L493.1,656.1L496.4,656.2L499.6,656.4L502.7,656.6L505.9,656.9L509.0,657.3L512.0,657.7L515.0,658.3L518.0,658.9L520.8,659.6L523.6,660.4L526.4,661.2L529.0,662.2L531.5,663.3L534.0,664.6L536.3,665.9L538.5,667.3L540.7,668.9L542.6,670.6L544.5,672.4L546.2,674.4L547.8,676.5L549.3,678.7L550.6,681.1L551.7,683.6L552.7,686.3L553.5,689.2L554.1,692.2L554.6,695.4L554.8,698.8L554.9,702.3L554.8,706.0L554.4,709.9L553.9,714.0L559.6,714.0L559.6,650.9Z"/>
</g>
<g clip-path="url(#cp_dUL)">
<path fill="#FFC77F" d="M654.7,476.1H888.5V662.9H654.7Z"/>
<path fill="#FFAB6D" d="M796.5,476.0L797.8,478.7L799.3,481.4L800.8,484.0L802.5,486.6L804.2,489.1L806.0,491.5L807.9,493.9L809.9,496.2L811.9,498.5L814.0,500.7L816.2,502.9L818.5,505.0L820.8,507.1L823.1,509.2L825.6,511.1L828.0,513.1L830.6,515.0L833.1,516.9L835.7,518.7L838.4,520.5L841.0,522.2L843.7,524.0L846.5,525.6L849.2,527.3L852.0,528.9L854.8,530.5L857.6,532.1L860.4,533.6L863.2,535.2L866.0,536.7L868.8,538.1L871.6,539.6L874.4,541.0L877.1,542.5L879.9,543.9L882.6,545.3L885.3,546.6L888.0,548.0L888.5,662.9L654.7,662.9L654.7,476.1Z"/>
<path fill="#E48E5A" d="M763.5,476.0L764.7,478.8L766.0,481.6L767.3,484.3L768.7,487.0L770.2,489.6L771.7,492.2L773.3,494.8L775.0,497.3L776.7,499.8L778.4,502.3L780.3,504.7L782.2,507.0L784.1,509.4L786.1,511.6L788.1,513.9L790.2,516.1L792.4,518.3L794.6,520.4L796.8,522.5L799.1,524.6L801.4,526.6L803.7,528.6L806.1,530.6L808.6,532.5L811.0,534.4L813.5,536.2L816.1,538.0L818.6,539.8L821.2,541.6L823.8,543.3L826.5,545.0L829.1,546.6L831.8,548.2L834.5,549.8L837.3,551.4L840.0,552.9L842.8,554.4L845.6,555.8L848.4,557.2L851.2,558.6L854.0,560.0L856.8,561.3L859.6,562.6L862.5,563.9L865.3,565.1L868.2,566.3L871.0,567.5L873.8,568.7L876.7,569.8L879.5,570.9L882.4,571.9L885.2,573.0L888.0,574.0L888.5,662.9L654.7,662.9L654.7,476.1Z"/>
<path fill="#B67248" d="M731.5,476.0L732.3,479.1L733.2,482.1L734.2,485.1L735.3,488.0L736.4,490.9L737.6,493.7L738.9,496.5L740.2,499.3L741.6,502.0L743.1,504.6L744.6,507.2L746.2,509.8L747.9,512.3L749.6,514.8L751.3,517.2L753.2,519.6L755.0,522.0L757.0,524.3L759.0,526.6L761.0,528.8L763.1,531.0L765.2,533.1L767.4,535.2L769.6,537.3L771.9,539.3L774.2,541.3L776.5,543.2L778.9,545.2L781.3,547.0L783.8,548.9L786.3,550.7L788.8,552.4L791.4,554.2L794.0,555.9L796.6,557.5L799.3,559.2L802.0,560.7L804.7,562.3L807.4,563.8L810.2,565.3L812.9,566.8L815.7,568.2L818.5,569.6L821.4,571.0L824.2,572.3L827.1,573.6L829.9,574.9L832.8,576.2L835.7,577.4L838.6,578.6L841.5,579.8L844.5,580.9L847.4,582.0L850.3,583.1L853.2,584.2L856.2,585.2L859.1,586.2L862.0,587.2L864.9,588.1L867.8,589.1L870.8,590.0L873.7,590.9L876.5,591.7L879.4,592.6L882.3,593.4L885.2,594.2L888.0,595.0L888.5,662.9L654.7,662.9L654.7,476.1Z"/>
<path fill="#895536" d="M714.0,476.0L714.5,479.2L715.0,482.4L715.7,485.5L716.4,488.5L717.1,491.6L718.0,494.6L718.9,497.5L719.9,500.4L720.9,503.3L722.0,506.1L723.2,508.9L724.4,511.7L725.7,514.4L727.0,517.0L728.4,519.7L729.9,522.3L731.4,524.8L733.0,527.3L734.6,529.8L736.3,532.2L738.1,534.6L739.9,537.0L741.7,539.3L743.6,541.6L745.5,543.8L747.5,546.0L749.5,548.2L751.6,550.3L753.7,552.4L755.9,554.4L758.1,556.4L760.3,558.4L762.6,560.3L764.9,562.2L767.3,564.1L769.7,565.9L772.1,567.7L774.5,569.5L777.0,571.2L779.6,572.9L782.1,574.5L784.7,576.1L787.3,577.7L790.0,579.2L792.6,580.7L795.3,582.2L798.0,583.6L800.8,585.0L803.5,586.4L806.3,587.7L809.1,589.0L811.9,590.3L814.7,591.5L817.6,592.7L820.5,593.9L823.3,595.0L826.2,596.1L829.1,597.1L832.0,598.1L835.0,599.1L837.9,600.1L840.8,601.0L843.8,601.9L846.7,602.8L849.7,603.6L852.6,604.4L855.6,605.2L858.6,605.9L861.5,606.6L864.5,607.3L867.5,607.9L870.4,608.5L873.4,609.1L876.3,609.6L879.2,610.1L882.2,610.6L885.1,611.1L888.0,611.5L888.5,662.9L654.7,662.9L654.7,476.1Z"/>
<path fill="#5B3924" d="M668.0,476.0L668.0,479.4L668.2,482.7L668.4,486.0L668.7,489.2L669.1,492.4L669.6,495.5L670.2,498.6L670.8,501.6L671.5,504.6L672.3,507.5L673.2,510.4L674.2,513.2L675.2,515.9L676.3,518.7L677.4,521.3L678.7,524.0L680.0,526.5L681.4,529.1L682.8,531.6L684.3,534.0L685.9,536.4L687.5,538.7L689.2,541.1L690.9,543.3L692.8,545.5L694.6,547.7L696.5,549.9L698.5,552.0L700.5,554.0L702.6,556.1L704.7,558.0L706.9,560.0L709.1,561.9L711.3,563.8L713.6,565.6L716.0,567.4L718.3,569.2L720.8,570.9L723.2,572.6L725.7,574.2L728.2,575.9L730.8,577.5L733.4,579.0L736.0,580.5L738.7,582.0L741.3,583.5L744.0,584.9L746.8,586.3L749.5,587.7L752.3,589.1L755.1,590.4L757.9,591.7L760.7,593.0L763.6,594.2L766.5,595.4L769.4,596.6L772.3,597.8L775.2,598.9L778.1,600.0L781.1,601.1L784.0,602.1L787.0,603.2L790.0,604.2L793.0,605.2L796.0,606.1L799.0,607.1L802.0,608.0L805.0,608.9L808.0,609.8L811.1,610.6L814.1,611.4L817.1,612.2L820.1,613.0L823.2,613.8L826.2,614.5L829.2,615.3L832.3,616.0L835.3,616.7L838.3,617.4L841.3,618.0L844.3,618.6L847.3,619.3L850.3,619.9L853.3,620.5L856.3,621.0L859.2,621.6L862.2,622.1L865.1,622.6L868.0,623.1L870.9,623.6L873.8,624.1L876.7,624.6L879.5,625.0L882.4,625.5L885.2,625.9L888.0,626.3L888.5,662.9L654.7,662.9L654.7,476.1Z"/>
<path fill="#2D1C12" d="M669.5,596.0L671.9,597.5L674.3,599.0L676.7,600.5L679.2,602.0L681.7,603.4L684.2,604.8L686.8,606.2L689.3,607.6L691.9,608.9L694.5,610.2L697.2,611.4L699.8,612.7L702.5,613.9L705.2,615.0L707.9,616.2L710.6,617.3L713.4,618.4L716.1,619.4L718.9,620.4L721.7,621.4L724.6,622.3L727.4,623.2L730.3,624.1L733.1,625.0L736.0,625.8L738.9,626.6L741.8,627.3L744.7,628.0L747.7,628.7L750.6,629.4L753.6,630.0L756.6,630.5L759.5,631.1L762.5,631.6L765.5,632.1L768.5,632.5L771.6,632.9L774.6,633.2L777.6,633.6L780.7,633.9L783.7,634.1L786.8,634.3L789.8,634.5L792.9,634.7L796.0,634.9L799.0,635.0L802.1,635.1L805.2,635.1L808.3,635.2L811.4,635.2L814.5,635.2L817.5,635.2L820.6,635.2L823.7,635.1L826.8,635.1L829.9,635.0L833.0,635.0L836.1,634.9L839.2,634.8L842.3,634.7L845.3,634.6L848.4,634.5L851.5,634.4L854.6,634.3L857.6,634.2L860.7,634.1L863.8,634.0L866.8,634.0L869.9,633.9L872.9,633.8L875.9,633.8L879.0,633.7L882.0,633.7L885.0,633.7L888.0,633.7L888.0,657.0L885.1,656.7L882.1,656.4L879.2,656.1L876.2,655.9L873.3,655.7L870.3,655.5L867.3,655.3L864.3,655.1L861.3,655.0L858.3,654.8L855.3,654.7L852.3,654.6L849.3,654.5L846.2,654.4L843.2,654.4L840.1,654.3L837.1,654.3L834.0,654.2L830.9,654.2L827.8,654.2L824.8,654.2L821.7,654.2L818.6,654.2L815.4,654.2L812.3,654.2L809.2,654.2L806.1,654.2L802.9,654.2L799.8,654.2L796.7,654.2L793.5,654.2L790.3,654.2L787.2,654.2L784.0,654.2L780.8,654.2L777.6,654.2L774.5,654.1L771.3,654.1L768.1,654.1L764.9,654.0L761.7,653.9L758.5,653.8L755.3,653.8L752.0,653.6L748.8,653.5L745.6,653.3L742.5,653.1L739.3,652.9L736.1,652.7L733.0,652.4L729.9,652.0L726.9,651.6L723.9,651.2L720.9,650.7L717.9,650.1L715.1,649.5L712.2,648.8L709.4,648.1L706.7,647.2L704.1,646.3L701.5,645.3L698.9,644.3L696.5,643.1L694.1,641.9L691.9,640.5L689.7,639.1L687.6,637.6L685.6,635.9L683.6,634.1L681.8,632.3L680.1,630.3L678.6,628.2L677.1,625.9L675.7,623.6L674.5,621.1L673.4,618.5L672.4,615.7L671.6,612.8L670.9,609.7L670.3,606.5L669.9,603.2L669.6,599.7L669.5,596.0Z"/>
<path fill="#000000" d="M706.0,644.5L709.1,644.4L712.1,644.4L715.2,644.3L718.3,644.3L721.3,644.3L724.4,644.3L727.5,644.3L730.5,644.3L733.6,644.3L736.7,644.4L739.7,644.4L742.8,644.5L745.9,644.5L749.0,644.6L752.1,644.7L755.1,644.7L758.2,644.8L761.3,644.9L764.4,645.0L767.5,645.1L770.6,645.2L773.6,645.3L776.7,645.4L779.8,645.5L782.9,645.6L786.0,645.7L789.1,645.8L792.2,646.0L795.3,646.1L798.4,646.2L801.5,646.3L804.5,646.4L807.6,646.5L810.7,646.6L813.8,646.8L816.9,646.9L820.0,647.0L823.1,647.1L826.2,647.2L829.3,647.2L832.4,647.3L835.5,647.4L838.6,647.5L841.7,647.5L844.8,647.6L847.8,647.7L850.9,647.7L854.0,647.7L857.1,647.8L860.2,647.8L863.3,647.8L866.4,647.8L869.5,647.8L872.6,647.8L875.7,647.7L878.7,647.7L881.8,647.6L884.9,647.6L888.0,647.5L888.0,655.6L884.9,655.6L881.8,655.5L878.7,655.5L875.6,655.4L872.5,655.4L869.5,655.3L866.4,655.2L863.3,655.2L860.2,655.1L857.1,655.1L854.0,655.0L850.9,655.0L847.8,654.9L844.7,654.8L841.6,654.8L838.5,654.7L835.4,654.6L832.3,654.5L829.2,654.4L826.1,654.3L823.0,654.2L820.0,654.1L816.9,654.0L813.8,653.9L810.7,653.8L807.6,653.7L804.5,653.6L801.4,653.4L798.3,653.3L795.2,653.1L792.1,653.0L789.0,652.8L785.9,652.6L782.9,652.4L779.8,652.3L776.7,652.1L773.6,651.8L770.5,651.6L767.4,651.4L764.3,651.2L761.3,650.9L758.2,650.7L755.1,650.4L752.0,650.1L748.9,649.8L745.9,649.5L742.8,649.2L739.7,648.9L736.6,648.6L733.6,648.2L730.5,647.9L727.4,647.5L724.4,647.1L721.3,646.7L718.2,646.3L715.2,645.9L712.1,645.4L709.1,645.0L706.0,644.5Z"/>
<path fill="#B67248" d="M654.7,627.5L662.5,627.5L664.9,629.4L667.3,631.1L669.7,632.8L672.1,634.5L674.6,636.0L677.1,637.5L679.7,638.9L682.2,640.3L684.8,641.6L687.4,642.8L690.1,644.0L692.7,645.1L695.4,646.2L698.1,647.2L700.9,648.1L703.6,649.0L706.4,649.9L709.2,650.7L712.0,651.4L714.9,652.1L717.7,652.7L720.6,653.3L723.5,653.9L726.4,654.4L729.3,654.9L732.3,655.3L735.2,655.7L738.2,656.1L741.2,656.4L744.2,656.7L747.2,656.9L750.2,657.2L753.2,657.4L756.3,657.5L759.3,657.7L762.4,657.8L765.5,657.9L768.6,657.9L771.6,658.0L774.7,658.0L777.8,658.0L780.9,658.0L784.0,658.0L787.2,657.9L790.3,657.9L793.4,657.8L796.5,657.7L799.6,657.6L802.8,657.5L805.9,657.4L809.0,657.3L812.1,657.2L815.2,657.1L818.4,657.0L821.5,656.9L824.6,656.8L827.7,656.7L830.8,656.6L833.9,656.5L837.0,656.4L840.1,656.4L843.2,656.3L846.2,656.3L849.3,656.2L852.3,656.2L855.4,656.2L858.4,656.2L861.4,656.3L864.4,656.3L867.4,656.4L870.4,656.5L873.4,656.6L876.3,656.8L879.3,657.0L882.2,657.2L885.1,657.4L888.0,657.7L888.5,662.9L654.7,662.9Z"/>
<path fill="#FFAB6D" d="M654.7,628.6L661.4,628.6L663.8,630.4L666.2,632.2L668.6,633.9L671.1,635.5L673.6,637.0L676.1,638.5L678.7,639.9L681.2,641.2L683.9,642.5L686.5,643.7L689.1,644.9L691.8,645.9L694.5,647.0L697.3,648.0L700.0,648.9L702.8,649.7L705.6,650.6L708.4,651.3L711.2,652.0L714.1,652.7L717.0,653.3L719.8,653.9L722.8,654.4L725.7,654.9L728.6,655.4L731.6,655.8L734.6,656.1L737.5,656.5L740.5,656.8L743.6,657.0L746.6,657.2L749.6,657.4L752.7,657.6L755.7,657.8L758.8,657.9L761.9,658.0L765.0,658.0L768.0,658.1L771.1,658.1L774.3,658.1L777.4,658.1L780.5,658.1L783.6,658.0L786.7,658.0L789.9,657.9L793.0,657.8L796.1,657.7L799.3,657.6L802.4,657.5L805.5,657.4L808.7,657.3L811.8,657.2L814.9,657.0L818.1,656.9L821.2,656.8L824.3,656.7L827.5,656.6L830.6,656.5L833.7,656.4L836.8,656.3L839.9,656.2L843.0,656.2L846.1,656.1L849.1,656.1L852.2,656.1L855.2,656.1L858.3,656.1L861.3,656.2L864.3,656.2L867.3,656.3L870.3,656.4L873.3,656.6L876.3,656.7L879.2,656.9L882.2,657.2L885.1,657.4L888.0,657.7L888.5,662.9L654.7,662.9Z"/>
<path fill="#FFC77F" d="M654.7,629.7L660.3,629.7L662.7,631.5L665.1,633.2L667.6,634.9L670.0,636.5L672.6,638.0L675.1,639.4L677.7,640.8L680.3,642.1L682.9,643.4L685.5,644.6L688.2,645.7L690.9,646.8L693.6,647.8L696.4,648.7L699.1,649.6L701.9,650.4L704.7,651.2L707.6,652.0L710.4,652.7L713.3,653.3L716.2,653.9L719.1,654.4L722.0,654.9L725.0,655.4L727.9,655.8L730.9,656.2L733.9,656.5L736.9,656.8L739.9,657.1L742.9,657.4L746.0,657.6L749.0,657.7L752.1,657.9L755.1,658.0L758.2,658.1L761.3,658.2L764.4,658.2L767.5,658.2L770.6,658.2L773.8,658.2L776.9,658.2L780.0,658.1L783.2,658.1L786.3,658.0L789.4,657.9L792.6,657.8L795.7,657.7L798.9,657.6L802.0,657.5L805.2,657.3L808.3,657.2L811.5,657.1L814.6,656.9L817.8,656.8L820.9,656.7L824.1,656.6L827.2,656.5L830.3,656.4L833.5,656.3L836.6,656.2L839.7,656.1L842.8,656.0L845.9,656.0L849.0,656.0L852.0,655.9L855.1,656.0L858.2,656.0L861.2,656.0L864.2,656.1L867.3,656.2L870.3,656.3L873.3,656.5L876.2,656.7L879.2,656.9L882.2,657.1L885.1,657.4L888.0,657.7L888.5,662.9L654.7,662.9Z"/>
<path fill="#B67248" d="M654.7,575L662.5,578L663,610L662.2,630L654.7,630Z"/>
</g>
<g clip-path="url(#cp_dUR)">
<path fill="#FFC77F" d="M876.5,476.1H1110.4V662.9H876.5Z"/>
<path fill="#FFAB6D" d="M876.0,554.8L878.8,553.9L881.7,552.9L884.5,551.9L887.4,550.8L890.2,549.7L893.1,548.6L895.9,547.5L898.8,546.3L901.7,545.0L904.5,543.8L907.4,542.5L910.2,541.1L913.0,539.7L915.8,538.3L918.6,536.8L921.4,535.3L924.1,533.8L926.8,532.2L929.5,530.6L932.2,528.9L934.8,527.2L937.4,525.5L940.0,523.7L942.5,521.9L945.0,520.0L947.5,518.1L949.9,516.2L952.3,514.2L954.6,512.1L956.8,510.0L959.0,507.9L961.2,505.7L963.3,503.5L965.3,501.2L967.3,498.9L969.2,496.6L971.1,494.2L972.9,491.7L974.6,489.2L976.2,486.7L977.8,484.1L979.3,481.4L980.7,478.7L982.0,476.0L1110.4,476.1L1110.4,662.9L876.5,662.9Z"/>
<path fill="#E48E5A" d="M876.0,579.0L879.0,578.7L882.1,578.3L885.1,577.8L888.1,577.2L891.1,576.6L894.1,575.9L897.0,575.2L899.9,574.3L902.8,573.4L905.7,572.5L908.6,571.5L911.5,570.4L914.3,569.3L917.1,568.1L919.9,566.8L922.6,565.5L925.4,564.2L928.1,562.7L930.8,561.3L933.5,559.7L936.1,558.2L938.7,556.6L941.3,554.9L943.9,553.2L946.4,551.4L948.9,549.6L951.4,547.8L953.8,545.9L956.2,543.9L958.6,542.0L961.0,540.0L963.3,537.9L965.6,535.9L967.8,533.7L970.0,531.6L972.2,529.4L974.4,527.2L976.5,525.0L978.6,522.7L980.6,520.4L982.6,518.1L984.6,515.8L986.5,513.4L988.4,511.0L990.3,508.6L992.1,506.2L993.8,503.7L995.6,501.3L997.3,498.8L998.9,496.3L1000.5,493.8L1002.1,491.3L1003.6,488.8L1005.1,486.2L1006.5,483.7L1007.9,481.1L1009.2,478.6L1010.5,476.0L1110.4,476.1L1110.4,662.9L876.5,662.9Z"/>
<path fill="#B67248" d="M876.0,600.5L879.0,600.4L882.1,600.3L885.1,600.2L888.1,600.0L891.1,599.7L894.1,599.4L897.2,599.0L900.2,598.6L903.2,598.1L906.2,597.6L909.2,597.0L912.2,596.3L915.1,595.6L918.1,594.9L921.1,594.1L924.0,593.3L926.9,592.4L929.9,591.4L932.8,590.5L935.6,589.4L938.5,588.3L941.4,587.2L944.2,586.0L947.0,584.8L949.8,583.5L952.6,582.2L955.3,580.8L958.0,579.4L960.7,578.0L963.4,576.5L966.1,574.9L968.7,573.4L971.3,571.7L973.8,570.1L976.4,568.3L978.9,566.6L981.3,564.8L983.8,563.0L986.2,561.1L988.5,559.2L990.9,557.2L993.2,555.2L995.4,553.2L997.7,551.1L999.8,549.0L1002.0,546.8L1004.1,544.6L1006.1,542.4L1008.1,540.2L1010.1,537.9L1012.0,535.5L1013.9,533.2L1015.7,530.8L1017.5,528.3L1019.3,525.8L1020.9,523.3L1022.6,520.8L1024.2,518.2L1025.7,515.6L1027.2,513.0L1028.6,510.3L1029.9,507.6L1031.2,504.9L1032.5,502.1L1033.7,499.3L1034.8,496.5L1035.9,493.7L1036.9,490.8L1037.9,487.9L1038.7,485.0L1039.6,482.0L1040.3,479.0L1041.0,476.0L1110.4,476.1L1110.4,662.9L876.5,662.9Z"/>
<path fill="#895536" d="M876.0,618.0L879.2,618.2L882.3,618.3L885.5,618.4L888.6,618.5L891.7,618.5L894.9,618.4L898.0,618.3L901.1,618.1L904.2,617.8L907.2,617.5L910.3,617.2L913.3,616.8L916.4,616.4L919.4,615.9L922.4,615.3L925.4,614.7L928.3,614.0L931.3,613.3L934.2,612.6L937.1,611.8L940.0,610.9L942.9,610.0L945.7,609.1L948.6,608.1L951.4,607.0L954.2,605.9L957.0,604.8L959.7,603.6L962.4,602.4L965.1,601.1L967.8,599.8L970.4,598.4L973.1,597.0L975.7,595.5L978.2,594.0L980.8,592.5L983.3,590.9L985.8,589.3L988.2,587.6L990.6,585.9L993.0,584.2L995.4,582.4L997.7,580.5L1000.0,578.7L1002.3,576.8L1004.6,574.8L1006.8,572.8L1008.9,570.8L1011.1,568.7L1013.2,566.6L1015.2,564.5L1017.2,562.3L1019.2,560.1L1021.2,557.9L1023.1,555.6L1025.0,553.3L1026.8,550.9L1028.6,548.5L1030.4,546.1L1032.1,543.7L1033.7,541.2L1035.4,538.7L1037.0,536.1L1038.5,533.5L1040.0,530.9L1041.5,528.3L1042.9,525.6L1044.3,522.9L1045.6,520.2L1046.9,517.4L1048.1,514.6L1049.3,511.8L1050.4,509.0L1051.5,506.1L1052.5,503.2L1053.5,500.3L1054.4,497.3L1055.3,494.4L1056.1,491.4L1056.9,488.3L1057.6,485.3L1058.3,482.2L1058.9,479.1L1059.5,476.0L1110.4,476.1L1110.4,662.9L876.5,662.9Z"/>
<path fill="#5B3924" d="M876.0,631.0L879.2,631.3L882.3,631.6L885.4,631.7L888.5,631.8L891.6,631.8L894.6,631.7L897.7,631.6L900.7,631.4L903.7,631.1L906.6,630.8L909.6,630.4L912.6,629.9L915.5,629.5L918.4,628.9L921.3,628.3L924.2,627.7L927.1,627.1L930.0,626.4L932.9,625.6L935.8,624.9L938.7,624.1L941.5,623.3L944.4,622.5L947.3,621.6L950.2,620.8L953.0,619.9L955.9,619.0L958.8,618.2L961.7,617.3L964.6,616.4L967.5,615.5L970.4,614.6L973.3,613.6L976.2,612.7L979.1,611.7L982.0,610.8L984.9,609.8L987.8,608.8L990.7,607.8L993.6,606.8L996.4,605.8L999.3,604.8L1002.2,603.7L1005.0,602.6L1007.9,601.6L1010.7,600.5L1013.6,599.4L1016.4,598.2L1019.2,597.1L1022.0,595.9L1024.8,594.7L1027.6,593.5L1030.4,592.3L1033.1,591.1L1035.8,589.8L1038.5,588.5L1041.2,587.2L1043.8,585.8L1046.5,584.4L1049.0,583.0L1051.6,581.5L1054.1,580.0L1056.5,578.5L1058.9,576.9L1061.3,575.2L1063.6,573.5L1065.9,571.7L1068.1,569.9L1070.2,568.0L1072.3,566.1L1074.3,564.0L1076.2,562.0L1078.0,559.8L1079.8,557.6L1081.5,555.3L1083.2,552.9L1084.7,550.4L1086.2,547.9L1087.5,545.3L1088.8,542.6L1090.0,539.9L1091.2,537.0L1092.2,534.2L1093.2,531.3L1094.1,528.3L1095.0,525.3L1095.7,522.3L1096.5,519.2L1097.1,516.1L1097.7,513.0L1098.3,509.9L1098.7,506.7L1099.2,503.6L1099.5,500.5L1099.9,497.3L1100.2,494.2L1100.4,491.1L1100.6,488.0L1100.8,485.0L1100.9,481.9L1100.9,478.9L1101.0,476.0L1110.4,476.1L1110.4,662.9L876.5,662.9Z"/>
<path fill="#2D1C12" d="M876.0,639.0L879.0,639.1L882.1,639.1L885.1,639.2L888.1,639.2L891.2,639.3L894.2,639.3L897.3,639.3L900.3,639.3L903.4,639.3L906.4,639.3L909.5,639.3L912.6,639.3L915.6,639.2L918.7,639.2L921.8,639.1L924.8,639.0L927.9,639.0L931.0,638.9L934.1,638.7L937.1,638.6L940.2,638.5L943.3,638.3L946.3,638.1L949.4,638.0L952.5,637.8L955.5,637.6L958.6,637.3L961.7,637.1L964.7,636.8L967.8,636.5L970.8,636.3L973.9,636.0L976.9,635.6L980.0,635.3L983.0,634.9L986.1,634.6L989.1,634.2L992.1,633.8L995.1,633.3L998.2,632.9L1001.2,632.4L1004.2,631.9L1007.2,631.4L1010.2,630.9L1013.2,630.4L1016.1,629.8L1019.1,629.2L1022.1,628.6L1025.1,628.0L1028.0,627.3L1030.9,626.7L1033.9,626.0L1036.8,625.3L1039.7,624.5L1042.6,623.8L1045.5,623.0L1048.4,622.2L1051.3,621.4L1054.2,620.5L1057.0,619.6L1059.9,618.7L1062.7,617.8L1065.6,616.9L1068.4,615.9L1071.2,614.9L1074.0,613.9L1076.8,612.8L1079.5,611.8L1082.3,610.7L1085.0,609.5L1087.8,608.4L1090.5,607.2L1093.2,606.0L1093.2,606.0L1092.8,609.4L1092.3,612.7L1091.6,615.7L1090.7,618.7L1089.7,621.4L1088.6,624.1L1087.3,626.5L1085.9,628.9L1084.4,631.1L1082.8,633.1L1081.0,635.1L1079.2,636.9L1077.2,638.6L1075.1,640.2L1073.0,641.6L1070.7,643.0L1068.3,644.2L1065.9,645.4L1063.4,646.5L1060.8,647.4L1058.1,648.3L1055.4,649.1L1052.6,649.9L1049.7,650.5L1046.8,651.1L1043.8,651.6L1040.8,652.1L1037.8,652.5L1034.7,652.8L1031.5,653.1L1028.4,653.4L1025.2,653.6L1022.0,653.8L1018.8,653.9L1015.5,654.1L1012.3,654.2L1009.0,654.2L1005.8,654.3L1002.5,654.4L999.3,654.4L996.1,654.4L992.8,654.5L989.6,654.5L986.5,654.6L983.3,654.6L980.1,654.6L976.9,654.7L973.8,654.7L970.7,654.7L967.5,654.8L964.4,654.8L961.3,654.8L958.2,654.8L955.1,654.9L952.0,654.9L948.9,655.0L945.9,655.0L942.8,655.0L939.7,655.1L936.7,655.1L933.6,655.2L930.6,655.2L927.5,655.3L924.5,655.3L921.4,655.4L918.4,655.5L915.4,655.5L912.3,655.6L909.3,655.7L906.3,655.8L903.3,655.9L900.2,656.0L897.2,656.1L894.2,656.2L891.2,656.3L888.1,656.4L885.1,656.6L882.1,656.7L879.0,656.9L876.0,657.0Z"/>
<path fill="#000000" d="M876.0,650.5L879.1,650.6L882.1,650.7L885.2,650.7L888.3,650.8L891.3,650.8L894.4,650.8L897.5,650.8L900.5,650.8L903.6,650.7L906.7,650.7L909.7,650.6L912.8,650.5L915.9,650.5L918.9,650.4L922.0,650.2L925.0,650.1L928.1,650.0L931.2,649.9L934.2,649.7L937.3,649.6L940.4,649.5L943.4,649.3L946.5,649.2L949.6,649.0L952.6,648.8L955.7,648.7L958.8,648.5L961.8,648.4L964.9,648.3L967.9,648.1L971.0,648.0L974.1,647.9L977.1,647.7L980.2,647.6L983.3,647.5L986.3,647.4L989.4,647.3L992.5,647.3L995.5,647.2L998.6,647.1L1001.6,647.1L1004.7,647.1L1007.8,647.1L1010.8,647.1L1013.9,647.1L1016.9,647.2L1020.0,647.2L1023.1,647.3L1026.1,647.4L1029.2,647.6L1032.3,647.7L1035.3,647.9L1038.4,648.1L1041.4,648.3L1044.5,648.6L1044.5,648.6L1041.5,649.0L1038.4,649.4L1035.4,649.8L1032.3,650.1L1029.3,650.5L1026.2,650.8L1023.2,651.1L1020.1,651.4L1017.1,651.7L1014.0,652.0L1011.0,652.2L1007.9,652.5L1004.9,652.7L1001.8,652.9L998.7,653.2L995.7,653.4L992.6,653.6L989.5,653.7L986.5,653.9L983.4,654.1L980.4,654.2L977.3,654.4L974.2,654.5L971.2,654.6L968.1,654.8L965.0,654.9L961.9,655.0L958.9,655.1L955.8,655.2L952.7,655.3L949.7,655.3L946.6,655.4L943.5,655.5L940.5,655.6L937.4,655.6L934.3,655.7L931.2,655.7L928.2,655.8L925.1,655.8L922.0,655.8L919.0,655.9L915.9,655.9L912.8,656.0L909.7,656.0L906.7,656.0L903.6,656.0L900.5,656.1L897.5,656.1L894.4,656.1L891.3,656.2L888.3,656.2L885.2,656.2L882.1,656.2L879.1,656.3L876.0,656.3Z"/>
<path fill="#895536" d="M1100.5,560L1101.5,540L1104.6,530L1104.6,626L1101,626Z"/>
<path fill="#B67248" d="M1110.4,622.2L1102.6,622.2L1101.2,625.2L1099.7,628.1L1098.2,630.8L1096.4,633.4L1094.6,635.7L1092.7,637.9L1090.7,640.0L1088.6,641.9L1086.4,643.7L1084.1,645.4L1081.8,646.9L1079.3,648.3L1076.8,649.5L1074.2,650.7L1071.6,651.7L1068.9,652.7L1066.1,653.5L1063.2,654.2L1060.3,654.9L1057.4,655.5L1054.4,655.9L1051.3,656.3L1048.3,656.7L1045.1,656.9L1042.0,657.2L1038.8,657.3L1035.6,657.4L1032.4,657.5L1029.1,657.5L1025.9,657.5L1022.6,657.4L1019.3,657.3L1016.0,657.2L1012.7,657.1L1009.4,657.0L1006.1,656.9L1002.9,656.7L999.6,656.6L996.4,656.5L993.1,656.4L989.9,656.3L986.8,656.2L983.6,656.2L980.5,656.2L977.4,656.3L974.4,656.3L971.4,656.5L968.5,656.7L965.6,656.9L962.8,657.2L960.0,657.6L876.5,662.9L1110.4,662.9Z"/>
<path fill="#FFAB6D" d="M1110.4,623.2L1103.6,623.2L1102.2,626.2L1100.8,629.0L1099.2,631.7L1097.5,634.2L1095.7,636.5L1093.9,638.7L1091.9,640.8L1089.8,642.7L1087.7,644.4L1085.4,646.0L1083.1,647.5L1080.7,648.9L1078.2,650.1L1075.7,651.2L1073.1,652.2L1070.4,653.2L1067.7,654.0L1064.9,654.7L1062.0,655.3L1059.1,655.8L1056.2,656.3L1053.2,656.7L1050.2,657.0L1047.1,657.2L1044.0,657.4L1040.9,657.6L1037.7,657.6L1034.5,657.7L1031.3,657.7L1028.1,657.6L1024.9,657.5L1021.7,657.4L1018.4,657.3L1015.2,657.2L1011.9,657.0L1008.7,656.9L1005.4,656.7L1002.2,656.6L999.0,656.4L995.8,656.3L992.6,656.2L989.5,656.1L986.3,656.0L983.2,656.0L980.2,656.0L977.2,656.1L974.2,656.2L971.2,656.3L968.4,656.6L965.5,656.8L962.7,657.2L960.0,657.6L876.5,662.9L1110.4,662.9Z"/>
<path fill="#FFC77F" d="M1110.4,624.2L1104.6,624.2L1103.2,627.2L1101.7,630.1L1100.2,632.7L1098.5,635.2L1096.7,637.6L1094.8,639.8L1092.8,641.8L1090.7,643.7L1088.5,645.4L1086.3,647.0L1083.9,648.4L1081.5,649.8L1079.0,651.0L1076.4,652.1L1073.8,653.0L1071.1,653.9L1068.4,654.7L1065.5,655.4L1062.7,655.9L1059.8,656.4L1056.8,656.8L1053.8,657.2L1050.7,657.4L1047.6,657.6L1044.5,657.8L1041.4,657.9L1038.2,657.9L1035.0,657.9L1031.8,657.8L1028.5,657.8L1025.3,657.6L1022.0,657.5L1018.8,657.3L1015.5,657.2L1012.2,657.0L1008.9,656.8L1005.7,656.6L1002.4,656.4L999.2,656.3L996.0,656.1L992.8,656.0L989.6,655.9L986.5,655.9L983.4,655.8L980.3,655.8L977.3,655.9L974.3,656.0L971.3,656.2L968.4,656.4L965.5,656.8L962.7,657.1L960.0,657.6L876.5,662.9L1110.4,662.9Z"/>
</g>
<g clip-path="url(#cp_dLL)">
<path fill="#FFC77F" d="M654.7,650.9H888.5V837.7H654.7Z"/>
<path fill="#FFAB6D" d="M888.0,750.5L884.9,750.4L881.9,750.3L878.8,750.3L875.7,750.4L872.7,750.6L869.6,750.9L866.5,751.2L863.4,751.6L860.4,752.1L857.3,752.7L854.3,753.4L851.3,754.1L848.3,755.0L845.3,755.8L842.3,756.8L839.4,757.9L836.5,759.0L833.6,760.2L830.7,761.4L827.9,762.7L825.2,764.1L822.4,765.6L819.7,767.1L817.1,768.7L814.5,770.4L812.0,772.2L809.5,774.0L807.0,775.8L804.6,777.8L802.3,779.7L800.1,781.8L797.9,783.9L795.7,786.1L793.7,788.3L791.7,790.6L789.8,793.0L787.9,795.4L786.2,797.9L784.5,800.4L782.9,803.0L781.4,805.6L780.0,808.3L778.7,811.1L777.4,813.9L776.3,816.7L775.3,819.6L774.3,822.5L773.5,825.5L772.8,828.6L772.2,831.7L771.7,834.8L771.3,838.0L771.3,837.7L654.7,837.7L654.7,650.9L888.5,650.9Z"/>
<path fill="#E48E5A" d="M888.0,728.4L884.9,728.3L881.8,728.3L878.8,728.4L875.7,728.5L872.7,728.8L869.6,729.1L866.6,729.5L863.6,729.9L860.6,730.5L857.6,731.1L854.7,731.7L851.7,732.5L848.8,733.3L845.9,734.1L843.0,735.1L840.1,736.1L837.3,737.2L834.4,738.3L831.6,739.5L828.8,740.7L826.1,742.0L823.3,743.4L820.6,744.8L818.0,746.3L815.3,747.8L812.7,749.4L810.1,751.1L807.5,752.8L805.0,754.5L802.5,756.3L800.0,758.1L797.6,760.0L795.2,761.9L792.8,763.9L790.5,765.9L788.2,768.0L785.9,770.1L783.7,772.2L781.6,774.4L779.4,776.6L777.3,778.8L775.3,781.1L773.3,783.4L771.3,785.8L769.4,788.2L767.5,790.6L765.7,793.0L763.9,795.5L762.2,798.0L760.5,800.5L758.8,803.1L757.3,805.7L755.7,808.3L754.2,810.9L752.8,813.5L751.4,816.2L750.1,818.8L748.9,821.5L747.7,824.3L746.5,827.0L745.4,829.7L744.4,832.5L743.4,835.2L742.5,838.0L742.5,837.7L654.7,837.7L654.7,650.9L888.5,650.9Z"/>
<path fill="#B67248" d="M888.0,707.0L884.9,707.0L881.9,707.1L878.8,707.3L875.8,707.5L872.8,707.8L869.7,708.1L866.7,708.5L863.7,708.9L860.6,709.4L857.6,710.0L854.6,710.6L851.6,711.3L848.6,712.0L845.6,712.8L842.7,713.6L839.7,714.5L836.8,715.4L833.9,716.4L831.0,717.4L828.1,718.5L825.2,719.6L822.3,720.8L819.5,722.0L816.7,723.2L813.9,724.6L811.1,725.9L808.3,727.3L805.6,728.8L802.9,730.3L800.2,731.8L797.5,733.4L794.9,735.0L792.3,736.7L789.7,738.4L787.2,740.2L784.7,742.0L782.2,743.8L779.7,745.7L777.3,747.6L774.9,749.6L772.5,751.6L770.2,753.6L767.9,755.6L765.7,757.8L763.4,759.9L761.3,762.1L759.1,764.3L757.0,766.5L755.0,768.8L752.9,771.1L751.0,773.4L749.0,775.8L747.1,778.2L745.3,780.7L743.5,783.1L741.8,785.6L740.1,788.2L738.4,790.7L736.8,793.3L735.2,795.9L733.7,798.5L732.3,801.2L730.9,803.9L729.5,806.6L728.2,809.3L727.0,812.1L725.8,814.9L724.7,817.7L723.6,820.5L722.6,823.4L721.7,826.3L720.8,829.2L720.0,832.1L719.2,835.0L718.5,838.0L718.5,837.7L654.7,837.7L654.7,650.9L888.5,650.9Z"/>
<path fill="#895536" d="M888.0,690.0L884.8,690.1L881.7,690.1L878.6,690.3L875.4,690.4L872.3,690.7L869.2,690.9L866.1,691.2L863.0,691.6L859.9,692.0L856.8,692.4L853.8,692.9L850.7,693.4L847.7,694.0L844.7,694.6L841.7,695.2L838.7,695.9L835.7,696.6L832.7,697.4L829.8,698.2L826.8,699.1L823.9,700.0L821.0,700.9L818.1,701.9L815.2,702.9L812.4,703.9L809.6,705.0L806.7,706.1L803.9,707.3L801.2,708.5L798.4,709.7L795.7,711.0L792.9,712.3L790.2,713.7L787.6,715.1L784.9,716.5L782.3,718.0L779.7,719.5L777.1,721.0L774.5,722.6L772.0,724.2L769.5,725.8L767.0,727.5L764.5,729.2L762.1,731.0L759.7,732.7L757.3,734.5L754.9,736.4L752.6,738.3L750.3,740.2L748.0,742.1L745.8,744.1L743.5,746.1L741.4,748.2L739.2,750.2L737.1,752.3L735.0,754.5L732.9,756.7L730.9,758.9L728.9,761.1L726.9,763.4L724.9,765.6L723.0,768.0L721.2,770.3L719.3,772.7L717.5,775.1L715.8,777.5L714.0,780.0L712.3,782.5L710.7,785.0L709.0,787.6L707.4,790.2L705.9,792.8L704.4,795.4L702.9,798.1L701.5,800.8L700.1,803.5L698.7,806.2L697.4,809.0L696.1,811.8L694.9,814.6L693.7,817.4L692.5,820.3L691.4,823.2L690.4,826.1L689.3,829.0L688.3,832.0L687.4,835.0L686.5,838.0L686.5,837.7L654.7,837.7L654.7,650.9L888.5,650.9Z"/>
<path fill="#5B3924" d="M888.0,678.0L885.2,678.3L882.3,678.6L879.4,678.9L876.5,679.2L873.6,679.5L870.7,679.8L867.7,680.1L864.8,680.4L861.8,680.7L858.8,681.0L855.7,681.3L852.7,681.6L849.7,681.9L846.6,682.3L843.5,682.6L840.5,683.0L837.4,683.3L834.3,683.7L831.2,684.1L828.1,684.5L825.0,684.9L821.8,685.4L818.7,685.8L815.6,686.3L812.5,686.7L809.4,687.3L806.3,687.8L803.2,688.3L800.1,688.9L797.0,689.5L793.9,690.1L790.8,690.7L787.7,691.4L784.7,692.1L781.6,692.8L778.6,693.5L775.5,694.3L772.5,695.1L769.5,696.0L766.6,696.8L763.6,697.7L760.6,698.7L757.7,699.6L754.8,700.7L751.9,701.7L749.1,702.8L746.2,703.9L743.4,705.1L740.6,706.3L737.9,707.5L735.1,708.8L732.4,710.1L729.8,711.5L727.1,712.9L724.5,714.4L721.9,715.9L719.4,717.4L716.9,719.0L714.4,720.7L712.0,722.4L709.6,724.1L707.3,725.9L705.0,727.7L702.7,729.6L700.5,731.5L698.3,733.4L696.2,735.4L694.2,737.5L692.1,739.5L690.2,741.7L688.3,743.9L686.4,746.1L684.6,748.4L682.8,750.7L681.2,753.0L679.5,755.4L678.0,757.9L676.4,760.4L675.0,762.9L673.6,765.5L672.3,768.1L671.0,770.8L669.8,773.5L668.7,776.3L667.7,779.1L666.7,781.9L665.7,784.8L664.9,787.7L664.1,790.6L663.3,793.6L662.7,796.6L662.1,799.6L661.5,802.7L661.1,805.7L660.7,808.9L660.4,812.0L660.1,815.2L659.9,818.4L659.8,821.6L659.8,824.8L659.8,828.1L659.9,831.4L660.1,834.7L660.3,838.0L660.3,837.7L654.7,837.7L654.7,650.9L888.5,650.9Z"/>
<path fill="#2D1C12" d="M674.5,697.0L675.8,694.1L677.1,691.4L678.6,688.8L680.2,686.3L681.9,684.0L683.6,681.8L685.5,679.7L687.4,677.8L689.4,676.0L691.5,674.3L693.7,672.7L696.0,671.2L698.3,669.8L700.7,668.5L703.2,667.4L705.7,666.3L708.3,665.3L711.0,664.4L713.7,663.6L716.4,662.8L719.2,662.2L722.1,661.6L725.0,661.1L727.9,660.6L730.9,660.2L733.9,659.9L736.9,659.6L740.0,659.3L743.1,659.2L746.2,659.0L749.3,658.9L752.4,658.8L755.6,658.8L758.8,658.7L761.9,658.7L765.1,658.8L768.3,658.8L771.5,658.8L774.6,658.9L777.8,658.9L781.0,659.0L784.1,659.1L787.3,659.2L790.4,659.2L793.6,659.3L796.7,659.4L799.8,659.5L802.9,659.6L806.1,659.6L809.2,659.7L812.3,659.8L815.4,659.9L818.5,660.0L821.6,660.0L824.6,660.1L827.7,660.2L830.8,660.2L833.9,660.3L836.9,660.3L840.0,660.4L843.0,660.4L846.1,660.4L849.1,660.5L852.1,660.5L855.1,660.5L858.2,660.4L861.2,660.4L864.2,660.4L867.2,660.3L870.2,660.2L873.2,660.2L876.1,660.1L879.1,659.9L882.1,659.8L885.0,659.7L888.0,659.5L888.0,670.6L885.0,670.7L882.0,670.8L879.0,670.9L875.9,670.9L872.9,671.0L869.8,671.0L866.8,671.0L863.7,671.1L860.7,671.1L857.6,671.1L854.5,671.1L851.4,671.1L848.3,671.1L845.2,671.1L842.1,671.1L839.0,671.1L835.9,671.1L832.8,671.1L829.7,671.1L826.6,671.1L823.5,671.1L820.4,671.1L817.3,671.1L814.2,671.1L811.0,671.1L807.9,671.2L804.8,671.2L801.7,671.3L798.6,671.4L795.5,671.4L792.4,671.5L789.2,671.7L786.1,671.8L783.0,671.9L779.9,672.1L776.9,672.3L773.8,672.5L770.7,672.7L767.6,672.9L764.5,673.2L761.5,673.5L758.4,673.8L755.4,674.1L752.3,674.4L749.3,674.8L746.3,675.2L743.2,675.7L740.2,676.1L737.2,676.6L734.3,677.2L731.3,677.7L728.3,678.3L725.3,678.9L722.4,679.6L719.5,680.3L716.5,681.0L713.6,681.8L710.7,682.6L707.9,683.4L705.0,684.3L702.1,685.3L699.3,686.2L696.5,687.2L693.7,688.3L690.9,689.4L688.1,690.5L685.4,691.7L682.6,693.0L679.9,694.3L677.2,695.6L674.5,697.0Z"/>
<path fill="#000000" d="M746.0,662.0L749.1,661.6L752.1,661.2L755.2,660.9L758.3,660.6L761.3,660.3L764.4,660.0L767.5,659.8L770.6,659.6L773.6,659.4L776.7,659.2L779.8,659.1L782.9,658.9L786.0,658.8L789.1,658.7L792.1,658.6L795.2,658.5L798.3,658.4L801.4,658.4L804.5,658.4L807.6,658.3L810.7,658.3L813.8,658.3L816.9,658.3L820.0,658.3L823.1,658.3L826.2,658.3L829.3,658.3L832.3,658.3L835.4,658.4L838.5,658.4L841.6,658.4L844.7,658.4L847.8,658.4L850.9,658.4L854.0,658.4L857.1,658.5L860.2,658.5L863.3,658.4L866.4,658.4L869.5,658.4L872.6,658.4L875.7,658.3L878.7,658.3L881.8,658.2L884.9,658.1L888.0,658.0L888.0,660.8L884.9,660.6L881.8,660.5L878.7,660.4L875.6,660.3L872.5,660.3L869.5,660.3L866.4,660.3L863.3,660.3L860.2,660.4L857.1,660.4L854.0,660.5L850.9,660.6L847.8,660.7L844.7,660.8L841.6,661.0L838.5,661.1L835.5,661.3L832.4,661.4L829.3,661.6L826.2,661.7L823.1,661.9L820.0,662.1L816.9,662.2L813.8,662.4L810.7,662.6L807.7,662.7L804.6,662.9L801.5,663.0L798.4,663.1L795.3,663.2L792.2,663.3L789.1,663.4L786.1,663.5L783.0,663.5L779.9,663.5L776.8,663.5L773.7,663.5L770.6,663.5L767.6,663.4L764.5,663.3L761.4,663.2L758.3,663.0L755.2,662.8L752.2,662.6L749.1,662.3L746.0,662.0Z"/>
<path fill="#B67248" d="M820.0,656.5L817.2,656.9L814.4,657.3L811.6,657.6L808.7,657.8L805.7,658.0L802.8,658.1L799.7,658.2L796.7,658.3L793.6,658.3L790.5,658.3L787.4,658.3L784.3,658.2L781.1,658.1L777.9,658.0L774.7,657.9L771.5,657.8L768.3,657.7L765.1,657.6L761.9,657.5L758.7,657.3L755.4,657.3L752.2,657.2L749.0,657.1L745.8,657.1L742.6,657.1L739.4,657.1L736.2,657.1L733.1,657.2L730.0,657.4L726.9,657.6L723.8,657.8L720.7,658.1L717.7,658.5L714.7,658.9L711.8,659.4L708.9,659.9L706.0,660.6L703.2,661.3L700.4,662.1L697.6,663.0L695.0,663.9L692.3,665.0L689.7,666.2L687.2,667.5L684.8,668.8L682.4,670.3L680.1,671.9L677.8,673.6L675.6,675.5L673.5,677.5L671.5,679.6L669.5,681.8L667.6,684.2L665.8,686.7L664.1,689.4L662.5,692.2L654.7,692.2L654.7,650.9L820.0,650.9Z"/>
<path fill="#FFAB6D" d="M820.0,656.5L817.2,657.0L814.4,657.4L811.5,657.7L808.6,658.0L805.7,658.2L802.7,658.3L799.6,658.4L796.6,658.5L793.5,658.5L790.4,658.5L787.2,658.5L784.1,658.4L780.9,658.3L777.7,658.2L774.5,658.0L771.3,657.9L768.0,657.8L764.8,657.6L761.6,657.5L758.3,657.3L755.1,657.2L751.8,657.1L748.6,657.0L745.3,656.9L742.1,656.8L738.9,656.8L735.7,656.8L732.6,656.9L729.4,656.9L726.3,657.1L723.2,657.3L720.1,657.5L717.1,657.8L714.0,658.2L711.1,658.6L708.1,659.2L705.2,659.7L702.4,660.4L699.6,661.2L696.8,662.0L694.1,663.0L691.5,664.0L688.9,665.1L686.3,666.4L683.9,667.7L681.5,669.2L679.1,670.8L676.8,672.5L674.6,674.3L672.5,676.3L670.4,678.4L668.5,680.6L666.6,683.0L664.8,685.6L663.0,688.3L661.4,691.1L654.7,691.1L654.7,650.9L820.0,650.9Z"/>
<path fill="#FFC77F" d="M820.0,656.5L817.2,657.0L814.4,657.4L811.5,657.8L808.5,658.1L805.6,658.3L802.6,658.5L799.5,658.6L796.5,658.7L793.4,658.7L790.2,658.7L787.1,658.7L783.9,658.6L780.7,658.5L777.5,658.3L774.2,658.2L771.0,658.0L767.7,657.8L764.5,657.6L761.2,657.5L757.9,657.3L754.7,657.1L751.4,656.9L748.1,656.8L744.9,656.7L741.7,656.6L738.4,656.5L735.2,656.5L732.0,656.5L728.8,656.5L725.7,656.6L722.6,656.7L719.5,656.9L716.4,657.2L713.4,657.5L710.4,657.9L707.4,658.4L704.5,658.9L701.6,659.6L698.8,660.3L696.0,661.1L693.3,662.0L690.6,663.0L688.0,664.1L685.5,665.3L683.0,666.6L680.5,668.1L678.2,669.6L675.9,671.3L673.6,673.2L671.5,675.1L669.4,677.2L667.4,679.5L665.5,681.9L663.7,684.4L661.9,687.1L660.3,690.0L654.7,690.0L654.7,650.9L820.0,650.9Z"/>
</g>
<g clip-path="url(#cp_dLR)">
<path fill="#FFC77F" d="M876.5,650.9H1110.4V837.7H876.5Z"/>
<path fill="#FFAB6D" d="M876.0,744.0L878.7,744.7L881.4,745.4L884.2,746.2L887.0,747.0L889.8,747.8L892.6,748.7L895.4,749.6L898.3,750.6L901.2,751.6L904.0,752.6L906.9,753.7L909.8,754.8L912.7,756.0L915.6,757.2L918.4,758.5L921.3,759.7L924.2,761.1L927.0,762.5L929.8,763.9L932.7,765.3L935.5,766.8L938.2,768.4L941.0,769.9L943.7,771.6L946.4,773.2L949.0,775.0L951.6,776.7L954.2,778.5L956.7,780.4L959.2,782.2L961.7,784.2L964.1,786.1L966.4,788.2L968.7,790.2L970.9,792.3L973.1,794.5L975.2,796.7L977.2,798.9L979.2,801.2L981.1,803.5L982.9,805.9L984.6,808.3L986.3,810.8L987.9,813.3L989.4,815.9L990.8,818.5L992.1,821.1L993.3,823.8L994.5,826.6L995.5,829.3L996.4,832.2L997.3,835.1L998.0,838.0L998.0,837.7L1110.4,837.7L1110.4,650.9L876.5,650.9Z"/>
<path fill="#E48E5A" d="M876.0,721.0L879.0,721.0L882.0,721.1L885.0,721.2L888.0,721.4L891.0,721.6L894.1,721.9L897.1,722.2L900.2,722.6L903.2,723.1L906.2,723.5L909.3,724.1L912.3,724.7L915.4,725.3L918.4,726.0L921.4,726.8L924.5,727.6L927.5,728.4L930.5,729.3L933.5,730.3L936.4,731.3L939.4,732.4L942.3,733.5L945.2,734.6L948.1,735.8L951.0,737.1L953.8,738.4L956.7,739.7L959.5,741.1L962.2,742.6L965.0,744.1L967.7,745.6L970.3,747.2L973.0,748.8L975.6,750.5L978.1,752.3L980.6,754.0L983.1,755.9L985.5,757.7L987.9,759.7L990.3,761.6L992.6,763.7L994.8,765.7L997.0,767.8L999.2,770.0L1001.2,772.2L1003.3,774.4L1005.2,776.7L1007.2,779.0L1009.0,781.4L1010.8,783.8L1012.5,786.3L1014.2,788.8L1015.8,791.4L1017.3,794.0L1018.8,796.6L1020.2,799.3L1021.5,802.0L1022.7,804.8L1023.9,807.6L1025.0,810.4L1026.0,813.3L1026.9,816.3L1027.8,819.3L1028.5,822.3L1029.2,825.3L1029.8,828.4L1030.3,831.6L1030.7,834.8L1031.0,838.0L1031.0,837.7L1110.4,837.7L1110.4,650.9L876.5,650.9Z"/>
<path fill="#B67248" d="M876.0,702.3L879.2,702.2L882.3,702.1L885.5,702.1L888.6,702.2L891.7,702.3L894.9,702.4L898.0,702.7L901.1,702.9L904.1,703.3L907.2,703.6L910.3,704.1L913.3,704.6L916.3,705.1L919.4,705.7L922.3,706.3L925.3,707.0L928.3,707.8L931.2,708.6L934.1,709.4L937.1,710.3L939.9,711.3L942.8,712.3L945.6,713.3L948.5,714.4L951.3,715.6L954.0,716.7L956.8,718.0L959.5,719.3L962.2,720.6L964.9,722.0L967.6,723.4L970.2,724.8L972.8,726.3L975.4,727.9L977.9,729.5L980.4,731.1L982.9,732.8L985.4,734.5L987.8,736.2L990.2,738.0L992.6,739.9L994.9,741.7L997.2,743.7L999.5,745.6L1001.7,747.6L1003.9,749.6L1006.1,751.7L1008.2,753.8L1010.3,755.9L1012.4,758.1L1014.4,760.3L1016.4,762.6L1018.3,764.9L1020.3,767.2L1022.1,769.5L1023.9,771.9L1025.7,774.3L1027.5,776.8L1029.2,779.3L1030.8,781.8L1032.5,784.3L1034.0,786.9L1035.6,789.5L1037.1,792.1L1038.5,794.8L1039.9,797.5L1041.2,800.2L1042.5,803.0L1043.8,805.8L1045.0,808.6L1046.2,811.4L1047.3,814.3L1048.3,817.1L1049.3,820.0L1050.3,823.0L1051.2,825.9L1052.1,828.9L1052.9,831.9L1053.6,835.0L1054.3,838.0L1054.3,837.7L1110.4,837.7L1110.4,650.9L876.5,650.9Z"/>
<path fill="#895536" d="M876.0,687.0L879.1,686.9L882.2,686.8L885.3,686.8L888.4,686.8L891.5,686.8L894.6,686.9L897.7,687.1L900.8,687.3L903.8,687.5L906.9,687.8L910.0,688.1L913.0,688.4L916.1,688.9L919.1,689.3L922.1,689.8L925.2,690.3L928.2,690.9L931.2,691.5L934.2,692.2L937.1,692.9L940.1,693.6L943.1,694.4L946.0,695.2L948.9,696.1L951.9,697.0L954.8,697.9L957.6,698.9L960.5,699.9L963.4,700.9L966.2,702.0L969.0,703.2L971.8,704.3L974.6,705.6L977.4,706.8L980.1,708.1L982.9,709.4L985.6,710.8L988.3,712.2L990.9,713.6L993.6,715.1L996.2,716.6L998.8,718.1L1001.4,719.7L1004.0,721.3L1006.5,722.9L1009.0,724.6L1011.5,726.3L1013.9,728.1L1016.4,729.8L1018.8,731.7L1021.1,733.5L1023.5,735.4L1025.8,737.3L1028.1,739.3L1030.4,741.2L1032.6,743.2L1034.8,745.3L1037.0,747.4L1039.1,749.5L1041.2,751.6L1043.3,753.8L1045.4,756.0L1047.4,758.2L1049.3,760.5L1051.3,762.8L1053.2,765.1L1055.1,767.4L1056.9,769.8L1058.7,772.2L1060.5,774.6L1062.2,777.1L1063.9,779.6L1065.5,782.1L1067.2,784.7L1068.7,787.2L1070.3,789.8L1071.8,792.5L1073.2,795.1L1074.6,797.8L1076.0,800.5L1077.3,803.3L1078.6,806.0L1079.8,808.8L1081.0,811.6L1082.2,814.5L1083.3,817.3L1084.3,820.2L1085.3,823.1L1086.3,826.0L1087.2,829.0L1088.1,832.0L1088.9,835.0L1089.7,838.0L1089.7,837.7L1110.4,837.7L1110.4,650.9L876.5,650.9Z"/>
<path fill="#5B3924" d="M876.0,677.0L878.8,677.4L881.7,677.7L884.5,678.1L887.4,678.4L890.3,678.7L893.3,679.0L896.2,679.2L899.2,679.5L902.2,679.7L905.2,680.0L908.3,680.2L911.3,680.4L914.4,680.6L917.4,680.8L920.5,681.0L923.6,681.2L926.7,681.5L929.9,681.7L933.0,681.9L936.1,682.1L939.2,682.3L942.4,682.5L945.5,682.8L948.7,683.0L951.8,683.3L955.0,683.6L958.1,683.9L961.2,684.2L964.4,684.5L967.5,684.9L970.6,685.2L973.7,685.6L976.8,686.1L979.9,686.5L983.0,687.0L986.1,687.5L989.2,688.0L992.2,688.6L995.2,689.2L998.2,689.8L1001.2,690.5L1004.2,691.2L1007.2,691.9L1010.1,692.7L1013.0,693.5L1015.9,694.4L1018.8,695.3L1021.6,696.3L1024.4,697.3L1027.2,698.4L1030.0,699.5L1032.7,700.7L1035.4,701.9L1038.1,703.1L1040.7,704.5L1043.3,705.8L1045.8,707.3L1048.3,708.8L1050.8,710.3L1053.2,711.9L1055.6,713.5L1057.9,715.2L1060.2,717.0L1062.5,718.8L1064.7,720.7L1066.8,722.6L1068.9,724.6L1070.9,726.7L1072.9,728.8L1074.8,730.9L1076.7,733.1L1078.5,735.4L1080.2,737.8L1081.9,740.2L1083.5,742.6L1085.0,745.1L1086.5,747.7L1087.9,750.4L1089.3,753.0L1090.6,755.8L1091.8,758.6L1093.0,761.4L1094.1,764.2L1095.2,767.1L1096.2,770.0L1097.2,773.0L1098.2,776.0L1099.1,778.9L1100.0,782.0L1100.9,785.0L1101.7,788.0L1102.5,791.0L1103.2,794.1L1104.0,797.1L1104.7,800.1L1105.4,803.1L1106.0,806.1L1106.7,809.1L1107.3,812.1L1108.0,815.0L1110.4,815.0L1110.4,650.9L876.5,650.9Z"/>
<path fill="#2D1C12" d="M876.0,666.3L879.1,666.5L882.2,666.7L885.3,666.9L888.4,667.1L891.5,667.2L894.5,667.3L897.6,667.4L900.6,667.5L903.7,667.5L906.7,667.5L909.7,667.6L912.8,667.6L915.8,667.6L918.8,667.6L921.8,667.6L924.9,667.5L927.9,667.5L930.9,667.5L933.9,667.5L936.9,667.4L939.9,667.4L942.9,667.4L945.9,667.4L948.9,667.4L951.9,667.4L954.9,667.4L957.9,667.4L960.9,667.4L964.0,667.5L967.0,667.6L970.0,667.6L973.0,667.8L976.1,667.9L979.1,668.0L982.1,668.2L985.2,668.4L988.2,668.6L991.3,668.9L994.4,669.2L997.4,669.5L1000.5,669.9L1003.6,670.3L1006.7,670.7L1009.8,671.1L1012.9,671.6L1016.0,672.1L1019.1,672.6L1022.2,673.2L1025.3,673.7L1028.4,674.3L1031.5,674.9L1034.6,675.5L1037.6,676.1L1040.6,676.7L1043.7,677.3L1046.6,677.9L1049.6,678.5L1052.6,679.1L1055.5,679.7L1058.4,680.3L1061.2,680.8L1064.1,681.4L1066.8,681.9L1069.5,682.3L1072.1,682.6L1074.6,682.9L1076.9,683.0L1079.0,682.9L1081.0,682.6L1082.7,682.1L1084.2,681.4L1085.4,680.4L1086.3,679.1L1086.9,677.4L1087.1,675.5L1087.0,673.1L1086.5,670.4L1085.5,667.3L1084.2,663.6L1082.3,659.6L1080.0,655.0L876.5,650.9Z"/>
<path fill="#2D1C12" d="M1070.0,659.5L1074.5,659.3L1078.4,659.4L1082.0,660.0L1085.1,660.8L1087.9,662.0L1090.3,663.5L1092.3,665.3L1094.1,667.3L1095.5,669.5L1096.8,672.0L1097.8,674.6L1098.6,677.4L1099.2,680.4L1099.7,683.4L1100.0,686.6L1100.3,689.9L1100.5,693.2L1100.7,696.6L1100.9,700.0L1101.0,703.3L1101.3,706.7L1101.6,710.0L1102.0,713.2L1102.5,716.4L1103.2,719.4L1104.1,722.3L1105.1,725.1L1106.4,727.6L1108.0,730.0L1110.4,730.0L1110.4,650.9L876.5,650.9Z"/>
<path fill="#000000" d="M1075.0,657.9L1079.3,657.8L1083.2,658.1L1086.5,658.9L1089.4,660.0L1091.9,661.4L1094.1,663.2L1095.8,665.3L1097.3,667.6L1098.6,670.2L1099.5,672.9L1100.3,675.8L1100.9,678.9L1101.4,682.0L1101.8,685.2L1102.1,688.5L1102.4,691.8L1102.7,695.1L1103.1,698.3L1103.5,701.4L1104.1,704.5L1104.7,707.4L1105.6,710.1L1106.7,712.7L1108.0,715.0L1110.4,715.0L1110.4,650.9L876.5,650.9Z"/>
<path fill="#fff" d="M1080.0,656.9L1083.9,657.0L1087.4,657.6L1090.6,658.7L1093.4,660.2L1095.9,662.0L1098.0,664.3L1099.8,666.8L1101.3,669.5L1102.6,672.5L1103.5,675.7L1104.3,679.0L1104.7,682.4L1105.0,685.8L1105.1,689.2L1104.9,692.6L1104.6,695.9L1110.4,696.0L1110.4,650.9Z"/>
</g>
<path fill="none" stroke="#fff" stroke-width="1.7" stroke-linejoin="round" d="M136.1,99.6L136.1,102.4L136.2,105.2L136.2,108.1L136.2,111.0L136.3,113.9L136.4,116.9L136.5,119.9L136.5,122.9L136.7,125.9L136.8,129.0L136.9,132.0L137.1,135.1L137.3,138.2L137.5,141.3L137.8,144.4L138.0,147.5L138.4,150.7L138.7,153.8L139.1,156.9L139.5,160.0L139.9,163.2L140.4,166.3L141.0,169.4L141.5,172.5L142.1,175.5L142.8,178.6L143.5,181.7L144.3,184.7L145.1,187.7L146.0,190.7L146.9,193.6L147.9,196.5L149.0,199.4L150.1,202.2L151.3,205.0L152.6,207.7L153.9,210.4L155.3,213.1L156.8,215.6L158.3,218.1L159.9,220.6L161.6,222.9L163.4,225.2L165.3,227.5L167.2,229.6L169.2,231.7L171.2,233.7L173.4,235.7L175.6,237.5L177.8,239.3L180.2,240.9L182.6,242.5L185.0,244.0L187.5,245.5L190.1,246.8L192.8,248.1L195.4,249.3L198.2,250.4L200.9,251.4L203.8,252.4L206.6,253.3L209.5,254.2L212.4,255.0L215.4,255.7L218.4,256.4L221.4,257.0L224.5,257.6L227.5,258.1L230.6,258.6L233.7,259.0L236.8,259.4L239.9,259.8L243.1,260.1L246.2,260.4L249.3,260.7L252.5,260.9L255.6,261.1L258.7,261.3L261.8,261.5L264.9,261.6L268.0,261.8L271.1,261.9L274.2,262.0L277.3,262.1L280.4,262.2L283.5,262.3L286.5,262.4L289.6,262.5L292.6,262.6L295.7,262.7L298.7,262.8L301.7,263.0L304.7,263.1L307.7,263.2L310.7,263.4L313.7,263.6L316.7,263.8L319.7,264.0L322.7,264.2L325.6,264.5L328.6,264.8L331.5,265.1"/>
<path fill="none" stroke="#fff" stroke-width="1.7" stroke-linejoin="round" d="M136.1,99.6L136.8,102.6L137.6,105.6L138.3,108.5L139.2,111.5L140.0,114.5L140.9,117.4L141.8,120.4L142.8,123.3L143.7,126.3L144.8,129.2L145.8,132.1L146.9,135.0L148.1,137.8L149.2,140.7L150.4,143.5L151.7,146.4L152.9,149.2L154.3,151.9L155.6,154.7L157.0,157.4L158.4,160.1L159.9,162.8L161.4,165.5L162.9,168.1L164.5,170.7L166.1,173.3L167.8,175.8L169.5,178.3L171.2,180.8L173.0,183.2L174.8,185.6L176.6,188.0L178.5,190.3L180.4,192.6L182.4,194.9L184.4,197.1L186.5,199.2L188.6,201.4L190.7,203.4L192.9,205.5L195.1,207.4L197.3,209.4L199.6,211.2L201.9,213.1L204.3,214.8L206.7,216.6L209.2,218.2L211.7,219.9L214.2,221.4L216.8,222.9L219.4,224.4L222.0,225.8L224.7,227.2L227.4,228.6L230.1,229.8L232.9,231.1L235.7,232.3L238.5,233.4L241.3,234.5L244.2,235.6L247.1,236.6L250.0,237.6L252.9,238.6L255.9,239.5L258.8,240.4L261.8,241.2L264.8,242.0L267.8,242.8L270.8,243.5L273.8,244.2L276.8,244.9L279.9,245.5L282.9,246.1L286.0,246.7L289.0,247.2L292.1,247.8L295.1,248.3L298.2,248.7L301.3,249.2L304.3,249.6L307.4,250.0L310.4,250.3L313.5,250.7L316.5,251.0L319.5,251.3L322.5,251.6L325.5,251.8L328.5,252.1L331.5,252.3"/>
<path fill="none" stroke="#fff" stroke-width="1.7" stroke-linejoin="round" d="M332.0,256.0L333.5,255.9L335.0,255.9L336.5,255.8L338.0,255.8L339.5,255.7L341.0,255.6L342.5,255.5L344.0,255.4L345.5,255.3L347.0,255.2L348.5,255.1L350.0,255.0L351.5,254.9L352.9,254.8L354.4,254.6L355.9,254.5L357.4,254.4L358.9,254.2L360.4,254.0L361.9,253.9L363.4,253.7L364.9,253.5L366.4,253.3L367.9,253.2L369.3,253.0L370.8,252.7L372.3,252.5L373.8,252.3L375.3,252.1L376.8,251.9L378.2,251.6L379.7,251.4L381.2,251.1L382.7,250.8L384.1,250.6L385.6,250.3L387.1,250.0L388.5,249.7L390.0,249.4L391.5,249.1L392.9,248.8L394.4,248.4L395.9,248.1L397.3,247.7L398.8,247.4L400.2,247.0L401.7,246.7L403.1,246.3L404.6,245.9L406.0,245.5L407.5,245.1L408.9,244.7L410.4,244.2L411.8,243.8L413.2,243.4L414.6,242.9L416.1,242.4L417.5,242.0L418.9,241.5L420.3,241.0L421.7,240.5L423.1,240.0L424.6,239.4L426.0,238.9L427.3,238.4L428.7,237.8L430.1,237.2L431.5,236.7L432.9,236.1L434.3,235.5L435.6,234.9L437.0,234.2L438.4,233.6L439.7,233.0L441.1,232.3L442.4,231.6L443.7,231.0L445.1,230.3L446.4,229.6L447.7,228.9L449.0,228.1L450.3,227.4L451.6,226.6L452.9,225.9L454.2,225.1L455.5,224.3L456.8,223.5L458.0,222.7L459.3,221.9L460.5,221.1L461.8,220.2L463.0,219.4L464.2,218.5L465.5,217.7L466.7,216.8L467.9,215.9L469.1,215.0L470.2,214.1L471.4,213.1L472.6,212.2L473.8,211.2L474.9,210.3L476.1,209.3L477.2,208.3L478.3,207.4L479.4,206.4L480.5,205.3L481.6,204.3L482.7,203.3L483.8,202.3L484.9,201.2L485.9,200.2L487.0,199.1L488.0,198.0L489.1,196.9L490.1,195.8L491.1,194.7L492.1,193.6L493.1,192.5L494.1,191.4L495.1,190.2L496.0,189.1L497.0,187.9L497.9,186.7L498.9,185.6L499.8,184.4L500.7,183.2L501.6,182.0L502.5,180.8L503.4,179.6L504.2,178.3L505.1,177.1L505.9,175.9L506.8,174.6L507.6,173.4L508.4,172.1L509.2,170.9L510.0,169.6L510.8,168.3L511.5,167.0L512.3,165.7L513.0,164.4L513.8,163.1L514.5,161.8L515.2,160.5L515.9,159.2L516.6,157.8L517.3,156.5L517.9,155.1L518.6,153.8L519.2,152.4L519.9,151.1L520.5,149.7L521.1,148.3L521.7,147.0L522.3,145.6L522.8,144.2L523.4,143.0L523.8,142.4L524.2,142.9L524.5,144.1L524.7,145.6L525.0,147.1L525.2,148.6L525.3,150.0L525.5,151.5L525.6,153.0L525.8,154.5L525.8,156.0L525.9,157.5L526.0,159.0L526.0,160.5L526.0,162.0L526.0,163.5L526.0,165.0L525.9,166.5L525.8,168.0L525.7,169.5L525.6,171.0L525.5,172.5L525.3,174.0L525.1,175.5L524.9,177.0L524.7,178.4L524.4,179.9L524.1,181.4L523.8,182.9L523.5,184.3L523.2,185.8L522.8,187.2L522.5,188.7L522.1,190.1L521.6,191.6L521.2,193.0L520.7,194.4L520.2,195.8L519.7,197.3L519.2,198.7L518.6,200.1L518.1,201.4L517.5,202.8L516.9,204.2L516.2,205.5L515.6,206.9L514.9,208.2L514.2,209.5L513.5,210.9L512.7,212.2L511.9,213.4L511.2,214.7L510.3,216.0L509.5,217.2L508.7,218.5L507.8,219.7L506.9,220.9L506.0,222.1L505.1,223.3L504.1,224.4L503.2,225.6L502.2,226.7L501.2,227.8L500.2,228.9L499.2,230.0L498.1,231.1L497.0,232.2L496.0,233.2L494.9,234.2L493.8,235.2L492.6,236.2L491.5,237.2L490.3,238.1L489.2,239.1L488.0,240.0L486.8,240.9L485.5,241.8L484.3,242.6L483.1,243.5L481.8,244.3L480.6,245.1L479.3,245.9L478.0,246.7L476.7,247.4L475.4,248.1L474.1,248.9L472.8,249.5L471.4,250.2L470.1,250.9L468.7,251.5L467.3,252.1L466.0,252.7L464.6,253.3L463.2,253.8L461.8,254.4L460.4,254.9L459.0,255.4L457.5,255.9L456.1,256.3L454.7,256.8L453.3,257.2L451.8,257.6L450.4,258.0L448.9,258.4L447.5,258.8L446.0,259.1L444.5,259.4L443.1,259.8L441.6,260.1L440.1,260.4L438.7,260.6L437.2,260.9L435.7,261.2L434.2,261.4L432.8,261.6L431.3,261.9L429.8,262.1L428.3,262.3L426.8,262.5L425.3,262.6L423.8,262.8L422.3,263.0L420.9,263.1L419.4,263.2L417.9,263.4L416.4,263.5L414.9,263.6L413.4,263.7L411.9,263.8L410.4,263.9L408.9,264.0L407.4,264.1L405.9,264.2L404.4,264.3L402.9,264.3L401.4,264.4L399.9,264.4L398.4,264.5L396.9,264.5L395.4,264.6L393.9,264.6L392.4,264.7L390.9,264.7L389.4,264.7L387.9,264.8L386.4,264.8L384.9,264.8L383.4,264.8L381.9,264.8L380.4,264.9L378.9,264.9L377.4,264.9L375.9,264.9L374.4,264.9L372.9,265.0L371.4,265.0L369.9,265.0L368.4,265.0L366.9,265.0L365.4,265.1L363.9,265.1L362.4,265.1L360.9,265.1L359.4,265.2L357.9,265.2L356.4,265.2L354.9,265.3L353.4,265.3L351.9,265.4L350.4,265.4L349.0,265.5L347.5,265.6L346.0,265.6L344.5,265.7L343.0,265.8L341.5,265.9L340.0,266.0L338.5,266.1L337.0,266.2L335.5,266.4L334.0,266.5L332.5,266.7L332.0,266.7"/>
<path fill="none" stroke="#000" stroke-width="1.7" stroke-linejoin="round" d="M330.7,272.1L329.2,272.2L327.7,272.4L326.2,272.5L324.7,272.6L323.2,272.7L321.7,272.8L320.2,272.9L318.7,273.0L317.2,273.0L315.7,273.1L314.2,273.2L312.7,273.2L311.2,273.3L309.7,273.4L308.2,273.4L306.7,273.5L305.2,273.5L303.8,273.5L302.3,273.6L300.8,273.6L299.3,273.7L297.8,273.7L296.3,273.7L294.8,273.8L293.3,273.8L291.8,273.8L290.3,273.8L288.8,273.9L287.3,273.9L285.8,273.9L284.3,274.0L282.8,274.0L281.3,274.0L279.8,274.1L278.3,274.1L276.8,274.2L275.3,274.2L273.8,274.2L272.3,274.3L270.8,274.3L269.3,274.4L267.8,274.5L266.3,274.5L264.8,274.6L263.3,274.6L261.8,274.7L260.3,274.8L258.8,274.9L257.3,275.0L255.8,275.1L254.3,275.1L252.8,275.3L251.3,275.4L249.8,275.5L248.3,275.6L246.8,275.7L245.3,275.9L243.9,276.0L242.4,276.2L240.9,276.3L239.4,276.5L237.9,276.7L236.4,276.8L234.9,277.0L233.4,277.2L231.9,277.4L230.5,277.7L229.0,277.9L227.5,278.1L226.0,278.4L224.5,278.7L223.1,278.9L221.6,279.2L220.1,279.5L218.7,279.8L217.2,280.1L215.7,280.5L214.3,280.8L212.8,281.2L211.4,281.5L209.9,281.9L208.5,282.3L207.0,282.7L205.6,283.1L204.2,283.6L202.7,284.0L201.3,284.5L199.9,285.0L198.5,285.5L197.1,286.0L195.7,286.5L194.3,287.1L192.9,287.6L191.5,288.2L190.1,288.8L188.7,289.4L187.4,290.0L186.0,290.7L184.7,291.4L183.4,292.0L182.0,292.8L180.7,293.5L179.4,294.2L178.1,295.0L176.9,295.8L175.6,296.6L174.3,297.4L173.1,298.3L171.9,299.1L170.7,300.0L169.5,300.9L168.3,301.9L167.2,302.8L166.0,303.8L164.9,304.8L163.8,305.9L162.8,306.9L161.7,308.0L160.7,309.1L159.7,310.2L158.8,311.4L157.8,312.5L156.9,313.7L156.0,314.9L155.2,316.2L154.4,317.4L153.6,318.7L152.8,320.0L152.1,321.3L151.4,322.7L150.8,324.0L150.2,325.4L149.6,326.7L149.0,328.1L148.5,329.6L148.1,331.0L147.6,332.4L147.2,333.9L146.9,335.3L146.5,336.8L146.2,338.2L146.0,339.7L145.8,341.2L145.6,342.7L145.4,344.2L145.3,345.7L145.2,347.2L145.2,348.7L145.1,350.2L145.1,351.7L145.2,353.2L145.2,354.7L145.3,356.2L145.4,357.6L145.6,359.1L145.9,360.0L146.4,360.0L147.1,359.1L147.9,357.9L148.7,356.7L149.6,355.4L150.4,354.2L151.3,353.0L152.2,351.8L153.1,350.5L154.0,349.3L154.9,348.2L155.8,347.0L156.8,345.8L157.7,344.7L158.7,343.5L159.6,342.4L160.6,341.2L161.6,340.1L162.6,339.0L163.7,337.9L164.7,336.8L165.7,335.8L166.8,334.7L167.9,333.6L168.9,332.6L170.0,331.6L171.1,330.5L172.2,329.5L173.3,328.5L174.5,327.5L175.6,326.5L176.7,325.6L177.9,324.6L179.1,323.7L180.2,322.7L181.4,321.8L182.6,320.9L183.8,320.0L185.0,319.1L186.2,318.2L187.5,317.4L188.7,316.5L189.9,315.7L191.2,314.9L192.4,314.0L193.7,313.2L195.0,312.4L196.2,311.6L197.5,310.9L198.8,310.1L200.1,309.3L201.4,308.6L202.7,307.9L204.0,307.2L205.4,306.5L206.7,305.8L208.0,305.1L209.4,304.4L210.7,303.7L212.0,303.1L213.4,302.4L214.8,301.8L216.1,301.2L217.5,300.6L218.9,300.0L220.2,299.4L221.6,298.8L223.0,298.2L224.4,297.7L225.8,297.1L227.2,296.6L228.6,296.0L230.0,295.5L231.4,295.0L232.8,294.5L234.2,294.0L235.7,293.6L237.1,293.1L238.5,292.6L239.9,292.2L241.4,291.7L242.8,291.3L244.3,290.9L245.7,290.5L247.1,290.1L248.6,289.7L250.0,289.3L251.5,288.9L252.9,288.5L254.4,288.2L255.8,287.8L257.3,287.5L258.8,287.1L260.2,286.8L261.7,286.5L263.2,286.2L264.6,285.9L266.1,285.6L267.6,285.3L269.0,285.0L270.5,284.7L272.0,284.5L273.5,284.2L275.0,284.0L276.4,283.7L277.9,283.5L279.4,283.3L280.9,283.1L282.4,282.9L283.8,282.7L285.3,282.5L286.8,282.3L288.3,282.1L289.8,281.9L291.3,281.8L292.8,281.6L294.3,281.4L295.8,281.3L297.3,281.2L298.8,281.0L300.2,280.9L301.7,280.8L303.2,280.7L304.7,280.6L306.2,280.5L307.7,280.4L309.2,280.3L310.7,280.2L312.2,280.2L313.7,280.1L315.2,280.0L316.7,280.0L318.2,279.9L319.7,279.9L321.2,279.9L322.7,279.8L324.2,279.8L325.7,279.8L327.2,279.8L328.7,279.8L330.2,279.8L330.7,279.8"/>
<path fill="none" stroke="#000" stroke-width="1.7" stroke-linejoin="round" d="M331.8,273.3L333.3,273.5L334.8,273.6L336.3,273.7L337.8,273.9L339.3,274.0L340.8,274.1L342.3,274.2L343.7,274.3L345.2,274.4L346.7,274.5L348.2,274.6L349.7,274.7L351.2,274.8L352.7,274.8L354.2,274.9L355.7,275.0L357.2,275.0L358.7,275.1L360.2,275.1L361.7,275.2L363.2,275.2L364.7,275.3L366.2,275.3L367.7,275.4L369.2,275.4L370.7,275.5L372.2,275.5L373.7,275.5L375.2,275.6L376.7,275.6L378.2,275.7L379.7,275.7L381.2,275.8L382.7,275.8L384.2,275.8L385.7,275.9L387.2,275.9L388.7,276.0L390.2,276.0L391.7,276.1L393.2,276.1L394.7,276.2L396.2,276.3L397.7,276.3L399.2,276.4L400.7,276.5L402.2,276.6L403.6,276.6L405.1,276.7L406.6,276.8L408.1,276.9L409.6,277.0L411.1,277.1L412.6,277.2L414.1,277.4L415.6,277.5L417.1,277.6L418.6,277.8L420.1,277.9L421.6,278.1L423.1,278.2L424.6,278.4L426.0,278.6L427.5,278.8L429.0,279.0L430.5,279.2L432.0,279.4L433.5,279.6L434.9,279.8L436.4,280.1L437.9,280.3L439.4,280.6L440.8,280.9L442.3,281.2L443.8,281.5L445.2,281.8L446.7,282.2L448.2,282.5L449.6,282.9L451.1,283.2L452.5,283.6L453.9,284.1L455.4,284.5L456.8,284.9L458.2,285.4L459.7,285.9L461.1,286.4L462.5,286.9L463.9,287.5L465.3,288.0L466.6,288.6L468.0,289.2L469.4,289.8L470.7,290.5L472.0,291.2L473.4,291.9L474.7,292.6L476.0,293.3L477.3,294.1L478.5,294.9L479.8,295.7L481.0,296.6L482.2,297.5L483.4,298.4L484.6,299.3L485.8,300.2L486.9,301.2L488.0,302.2L489.1,303.2L490.2,304.3L491.2,305.4L492.2,306.5L493.2,307.6L494.2,308.7L495.2,309.9L496.1,311.1L497.0,312.3L497.8,313.5L498.7,314.8L499.4,316.0L500.2,317.3L501.0,318.6L501.7,319.9L502.3,321.2L502.7,322.2L502.5,322.4L501.6,321.9L500.5,321.0L499.3,320.1L498.1,319.2L496.9,318.4L495.7,317.5L494.4,316.6L493.2,315.8L491.9,314.9L490.7,314.1L489.4,313.3L488.2,312.5L486.9,311.7L485.6,310.9L484.3,310.1L483.0,309.4L481.7,308.6L480.4,307.9L479.1,307.2L477.8,306.5L476.5,305.8L475.2,305.1L473.8,304.4L472.5,303.7L471.1,303.1L469.8,302.4L468.4,301.8L467.1,301.2L465.7,300.6L464.3,300.0L462.9,299.4L461.6,298.8L460.2,298.2L458.8,297.6L457.4,297.1L456.0,296.6L454.6,296.0L453.2,295.5L451.8,295.0L450.4,294.5L448.9,294.0L447.5,293.5L446.1,293.1L444.7,292.6L443.2,292.1L441.8,291.7L440.4,291.3L438.9,290.8L437.5,290.4L436.1,290.0L434.6,289.6L433.2,289.2L431.7,288.9L430.3,288.5L428.8,288.1L427.4,287.8L425.9,287.4L424.4,287.1L423.0,286.7L421.5,286.4L420.1,286.1L418.6,285.8L417.1,285.5L415.7,285.2L414.2,284.9L412.7,284.6L411.2,284.3L409.8,284.0L408.3,283.8L406.8,283.5L405.3,283.3L403.9,283.0L402.4,282.8L400.9,282.5L399.4,282.3L397.9,282.1L396.5,281.9L395.0,281.7L393.5,281.5L392.0,281.3L390.5,281.1L389.0,280.9L387.5,280.7L386.1,280.5L384.6,280.3L383.1,280.1L381.6,280.0L380.1,279.8L378.6,279.6L377.1,279.5L375.6,279.3L374.1,279.2L372.6,279.0L371.2,278.9L369.7,278.8L368.2,278.6L366.7,278.5L365.2,278.4L363.7,278.2L362.2,278.1L360.7,278.0L359.2,277.9L357.7,277.7L356.2,277.6L354.7,277.5L353.2,277.4L351.7,277.3L350.2,277.2L348.7,277.1L347.3,277.0L345.8,276.9L344.3,276.8L342.8,276.7L341.3,276.6L339.8,276.5L338.3,276.4L336.8,276.3L335.3,276.2L333.8,276.1L332.3,276.0L331.8,276.0"/>
<path fill="none" stroke="#fff" stroke-width="1.7" stroke-linejoin="round" d="M684.6,94.0L684.6,96.8L684.7,99.7L684.8,102.6L684.9,105.5L685.0,108.5L685.1,111.5L685.3,114.5L685.4,117.6L685.7,120.6L685.9,123.7L686.1,126.8L686.4,129.9L686.7,133.1L687.1,136.2L687.4,139.3L687.8,142.5L688.3,145.6L688.8,148.8L689.3,151.9L689.8,155.1L690.4,158.2L691.0,161.3L691.7,164.4L692.4,167.5L693.1,170.6L693.9,173.7L694.7,176.7L695.6,179.7L696.5,182.7L697.5,185.7L698.5,188.6L699.6,191.5L700.7,194.4L701.9,197.2L703.1,199.9L704.4,202.7L705.8,205.4L707.2,208.0L708.6,210.6L710.1,213.1L711.7,215.6L713.3,218.0L715.0,220.4L716.8,222.7L718.6,224.9L720.5,227.0L722.5,229.1L724.5,231.1L726.6,233.1L728.8,235.0L731.0,236.7L733.3,238.4L735.7,240.1L738.2,241.6L740.7,243.1L743.2,244.5L745.9,245.8L748.6,247.0L751.3,248.2L754.1,249.3L756.9,250.4L759.8,251.4L762.7,252.3L765.7,253.2L768.7,254.0L771.7,254.7L774.7,255.4L777.8,256.1L780.9,256.7L784.0,257.3L787.1,257.8L790.3,258.3L793.4,258.7L796.6,259.1L799.8,259.5L802.9,259.8L806.1,260.1L809.3,260.4L812.4,260.6L815.6,260.8L818.8,261.0L821.9,261.2L825.0,261.3L828.2,261.5L831.3,261.6L834.4,261.7L837.5,261.9L840.6,262.0L843.7,262.1L846.8,262.2L849.8,262.3L852.9,262.4L855.9,262.6L858.9,262.7L861.9,262.9L864.9,263.1L867.9,263.2L870.9,263.5L873.8,263.7L876.7,264.0L879.6,264.3L882.5,264.6"/>
<path fill="none" stroke="#fff" stroke-width="1.7" stroke-linejoin="round" d="M690.1,94.0L690.7,97.0L691.4,100.1L692.0,103.1L692.8,106.1L693.5,109.1L694.3,112.1L695.2,115.0L696.1,118.0L697.0,121.0L698.0,123.9L699.0,126.8L700.0,129.7L701.1,132.6L702.2,135.4L703.4,138.3L704.6,141.1L705.9,143.9L707.2,146.7L708.5,149.4L709.9,152.2L711.3,154.9L712.7,157.5L714.2,160.2L715.7,162.8L717.3,165.4L718.9,168.0L720.6,170.5L722.2,173.0L724.0,175.5L725.7,177.9L727.5,180.3L729.4,182.7L731.3,185.0L733.2,187.3L735.1,189.6L737.1,191.8L739.2,194.0L741.2,196.1L743.3,198.2L745.5,200.3L747.7,202.3L749.9,204.3L752.2,206.2L754.5,208.1L756.8,209.9L759.2,211.7L761.6,213.4L764.1,215.1L766.5,216.8L769.1,218.4L771.6,220.0L774.2,221.5L776.8,223.0L779.4,224.4L782.1,225.8L784.8,227.1L787.5,228.4L790.3,229.7L793.1,230.9L795.9,232.1L798.7,233.2L801.5,234.3L804.4,235.4L807.3,236.4L810.2,237.4L813.1,238.3L816.0,239.2L818.9,240.1L821.9,240.9L824.9,241.7L827.9,242.5L830.9,243.2L833.9,243.9L836.9,244.6L839.9,245.2L842.9,245.8L846.0,246.3L849.0,246.9L852.1,247.4L855.1,247.8L858.2,248.2L861.2,248.6L864.3,249.0L867.3,249.3L870.4,249.6L873.4,249.9L876.4,250.2L879.5,250.4L882.5,250.6"/>
<path fill="none" stroke="#fff" stroke-width="1.7" stroke-linejoin="round" d="M883.0,252.9L884.5,252.7L886.0,252.4L887.5,252.2L888.9,252.0L890.4,251.8L891.9,251.6L893.4,251.4L894.9,251.1L896.4,250.9L897.8,250.7L899.3,250.5L900.8,250.3L902.3,250.1L903.8,249.9L905.3,249.6L906.7,249.4L908.2,249.2L909.7,249.0L911.2,248.8L912.7,248.6L914.2,248.3L915.6,248.1L917.1,247.9L918.6,247.6L920.1,247.4L921.6,247.2L923.1,246.9L924.5,246.7L926.0,246.5L927.5,246.2L929.0,246.0L930.5,245.7L931.9,245.4L933.4,245.2L934.9,244.9L936.4,244.6L937.8,244.3L939.3,244.1L940.8,243.8L942.2,243.5L943.7,243.2L945.2,242.9L946.6,242.5L948.1,242.2L949.6,241.9L951.0,241.6L952.5,241.2L954.0,240.9L955.4,240.5L956.9,240.1L958.3,239.8L959.8,239.4L961.2,239.0L962.7,238.6L964.1,238.2L965.5,237.8L967.0,237.4L968.4,236.9L969.9,236.5L971.3,236.0L972.7,235.6L974.1,235.1L975.5,234.6L977.0,234.1L978.4,233.6L979.8,233.1L981.2,232.5L982.6,232.0L984.0,231.4L985.4,230.9L986.7,230.3L988.1,229.7L989.5,229.1L990.9,228.5L992.2,227.8L993.6,227.2L994.9,226.5L996.2,225.8L997.6,225.1L998.9,224.4L1000.2,223.7L1001.5,222.9L1002.8,222.2L1004.1,221.4L1005.3,220.6L1006.6,219.8L1007.9,219.0L1009.1,218.1L1010.3,217.2L1011.5,216.4L1012.7,215.5L1013.9,214.6L1015.1,213.6L1016.3,212.7L1017.4,211.7L1018.6,210.8L1019.7,209.8L1020.8,208.8L1021.9,207.8L1023.0,206.7L1024.1,205.7L1025.1,204.6L1026.2,203.6L1027.2,202.5L1028.3,201.4L1029.3,200.3L1030.3,199.2L1031.3,198.0L1032.3,196.9L1033.2,195.8L1034.2,194.6L1035.1,193.4L1036.1,192.3L1037.0,191.1L1037.9,189.9L1038.8,188.7L1039.7,187.5L1040.5,186.2L1041.4,185.0L1042.2,183.8L1043.1,182.5L1043.9,181.3L1044.7,180.0L1045.6,178.8L1046.4,177.5L1047.1,176.2L1047.9,175.0L1048.7,173.7L1049.5,172.4L1050.2,171.1L1051.0,169.8L1051.7,168.5L1052.4,167.2L1053.1,165.8L1053.9,164.5L1054.6,163.2L1055.2,161.9L1055.9,160.5L1056.6,159.2L1057.3,157.9L1057.9,156.5L1058.6,155.2L1059.2,153.8L1059.9,152.4L1060.5,151.1L1061.1,149.7L1061.8,148.4L1062.4,147.0L1063.0,145.6L1063.6,144.2L1064.2,142.9L1064.8,141.5L1065.3,140.1L1065.9,138.7L1066.5,137.3L1067.1,135.9L1067.6,134.5L1068.2,133.2L1068.7,131.8L1069.3,130.4L1069.8,129.0L1070.3,127.6L1070.9,126.2L1071.4,124.8L1071.9,123.3L1072.4,121.9L1072.9,120.5L1073.4,119.1L1073.9,117.7L1074.4,116.3L1074.9,114.9L1075.4,113.5L1075.9,112.1L1076.3,111.3L1076.6,111.5L1076.7,112.6L1076.8,114.0L1076.8,115.5L1076.9,117.0L1076.9,118.5L1077.0,120.0L1077.0,121.5L1077.1,123.0L1077.1,124.5L1077.2,126.0L1077.2,127.5L1077.2,129.0L1077.2,130.5L1077.2,132.0L1077.2,133.5L1077.2,135.0L1077.2,136.5L1077.2,138.0L1077.2,139.5L1077.1,141.0L1077.1,142.5L1077.1,144.0L1077.0,145.5L1076.9,147.0L1076.9,148.5L1076.8,150.0L1076.7,151.5L1076.6,153.0L1076.5,154.5L1076.4,156.0L1076.3,157.5L1076.1,159.0L1076.0,160.5L1075.8,162.0L1075.7,163.5L1075.5,165.0L1075.3,166.4L1075.1,167.9L1074.9,169.4L1074.7,170.9L1074.4,172.4L1074.2,173.9L1073.9,175.3L1073.6,176.8L1073.3,178.3L1073.0,179.7L1072.7,181.2L1072.4,182.7L1072.0,184.1L1071.6,185.6L1071.2,187.0L1070.8,188.5L1070.4,189.9L1070.0,191.3L1069.5,192.8L1069.1,194.2L1068.6,195.6L1068.1,197.0L1067.5,198.4L1067.0,199.8L1066.4,201.2L1065.9,202.6L1065.3,204.0L1064.6,205.3L1064.0,206.7L1063.3,208.0L1062.6,209.4L1061.9,210.7L1061.2,212.0L1060.5,213.3L1059.7,214.6L1058.9,215.9L1058.1,217.1L1057.3,218.4L1056.4,219.6L1055.5,220.8L1054.6,222.0L1053.7,223.2L1052.7,224.4L1051.8,225.5L1050.8,226.6L1049.8,227.8L1048.8,228.8L1047.7,229.9L1046.6,231.0L1045.6,232.0L1044.4,233.0L1043.3,234.0L1042.2,235.0L1041.0,236.0L1039.9,236.9L1038.7,237.8L1037.5,238.7L1036.3,239.6L1035.0,240.4L1033.8,241.3L1032.5,242.1L1031.2,242.9L1030.0,243.6L1028.7,244.4L1027.3,245.1L1026.0,245.8L1024.7,246.5L1023.4,247.2L1022.0,247.8L1020.6,248.5L1019.3,249.1L1017.9,249.7L1016.5,250.2L1015.1,250.8L1013.7,251.3L1012.3,251.8L1010.9,252.3L1009.5,252.8L1008.0,253.3L1006.6,253.7L1005.2,254.2L1003.7,254.6L1002.3,255.0L1000.8,255.4L999.4,255.8L997.9,256.1L996.5,256.5L995.0,256.8L993.5,257.1L992.1,257.4L990.6,257.7L989.1,258.0L987.7,258.3L986.2,258.5L984.7,258.8L983.2,259.0L981.7,259.3L980.3,259.5L978.8,259.7L977.3,259.9L975.8,260.1L974.3,260.3L972.8,260.4L971.3,260.6L969.8,260.8L968.4,260.9L966.9,261.1L965.4,261.2L963.9,261.3L962.4,261.5L960.9,261.6L959.4,261.7L957.9,261.8L956.4,261.9L954.9,262.0L953.4,262.1L951.9,262.2L950.4,262.3L948.9,262.3L947.4,262.4L945.9,262.5L944.4,262.5L942.9,262.6L941.4,262.7L939.9,262.7L938.4,262.8L936.9,262.8L935.4,262.9L933.9,262.9L932.4,263.0L930.9,263.0L929.4,263.1L927.9,263.1L926.4,263.2L924.9,263.2L923.4,263.3L921.9,263.3L920.4,263.4L918.9,263.4L917.4,263.5L915.9,263.5L914.4,263.6L912.9,263.6L911.4,263.7L909.9,263.7L908.4,263.8L906.9,263.8L905.4,263.9L903.9,264.0L902.4,264.0L900.9,264.1L899.5,264.2L898.0,264.3L896.5,264.4L895.0,264.5L893.5,264.6L892.0,264.7L890.5,264.8L889.0,264.9L887.5,265.1L886.0,265.2L884.5,265.3L883.0,265.5L883.0,265.5"/>
<path fill="none" stroke="#fff" stroke-width="1.7" stroke-linejoin="round" d="M882.0,273.8L880.5,273.9L879.0,274.1L877.5,274.2L876.0,274.3L874.5,274.4L873.0,274.5L871.5,274.6L870.0,274.7L868.5,274.8L867.0,274.8L865.5,274.9L864.0,275.0L862.6,275.0L861.1,275.1L859.6,275.1L858.1,275.2L856.6,275.2L855.1,275.2L853.6,275.3L852.1,275.3L850.6,275.3L849.1,275.3L847.6,275.3L846.1,275.4L844.6,275.4L843.1,275.4L841.6,275.4L840.1,275.4L838.6,275.4L837.1,275.5L835.6,275.5L834.1,275.5L832.6,275.5L831.1,275.5L829.6,275.5L828.1,275.6L826.6,275.6L825.1,275.6L823.6,275.6L822.1,275.7L820.6,275.7L819.1,275.7L817.6,275.8L816.1,275.8L814.6,275.8L813.1,275.9L811.6,276.0L810.1,276.0L808.6,276.1L807.1,276.2L805.6,276.2L804.1,276.3L802.6,276.4L801.1,276.5L799.6,276.6L798.1,276.7L796.6,276.8L795.1,276.9L793.6,277.1L792.2,277.2L790.7,277.4L789.2,277.5L787.7,277.7L786.2,277.9L784.7,278.0L783.2,278.2L781.7,278.4L780.3,278.7L778.8,278.9L777.3,279.1L775.8,279.4L774.3,279.6L772.9,279.9L771.4,280.2L769.9,280.5L768.5,280.8L767.0,281.2L765.5,281.5L764.1,281.9L762.6,282.2L761.2,282.6L759.7,283.0L758.3,283.4L756.9,283.9L755.4,284.3L754.0,284.8L752.6,285.3L751.2,285.8L749.8,286.3L748.4,286.9L747.0,287.5L745.6,288.0L744.3,288.6L742.9,289.3L741.5,289.9L740.2,290.6L738.9,291.3L737.5,292.0L736.2,292.7L734.9,293.4L733.6,294.2L732.4,295.0L731.1,295.8L729.8,296.6L728.6,297.4L727.4,298.3L726.2,299.2L724.9,300.1L723.8,301.0L722.6,301.9L721.4,302.9L720.3,303.8L719.2,304.8L718.1,305.8L717.0,306.9L715.9,307.9L714.8,309.0L713.8,310.0L712.8,311.1L711.8,312.3L710.8,313.4L709.8,314.5L708.9,315.7L708.0,316.9L707.1,318.1L706.2,319.3L705.3,320.5L704.5,321.8L703.7,323.0L702.9,324.3L702.1,325.6L701.4,326.9L700.6,328.2L700.0,329.5L699.3,330.9L698.6,332.2L698.0,333.6L697.4,335.0L696.8,336.3L696.3,337.7L695.8,339.2L695.3,340.6L694.8,342.0L694.4,343.4L693.9,344.9L693.5,346.3L693.1,347.7L692.8,349.2L692.4,350.7L692.1,352.1L691.8,353.6L691.5,355.1L691.3,356.5L691.0,358.0L690.8,359.5L690.6,361.0L690.4,362.5L690.2,364.0L690.0,365.4L689.9,366.9L689.7,368.4L689.6,369.9L689.5,371.4L689.4,372.9L689.3,374.4L689.3,375.9L689.2,377.4L689.2,378.9L689.2,380.4L689.1,381.9L689.1,383.4L689.1,384.9L689.2,386.4L689.2,387.9L689.2,389.4L689.3,390.9L689.3,392.4L689.4,393.9L689.5,395.4L689.6,396.9L689.7,398.4L689.8,399.9L689.9,401.3L690.1,402.3L690.4,402.5L690.9,401.6L691.4,400.3L691.9,398.9L692.5,397.5L693.0,396.1L693.6,394.7L694.2,393.3L694.8,392.0L695.4,390.6L696.0,389.2L696.6,387.9L697.2,386.5L697.9,385.1L698.5,383.8L699.2,382.4L699.9,381.1L700.5,379.8L701.2,378.4L701.9,377.1L702.6,375.8L703.4,374.5L704.1,373.2L704.8,371.9L705.6,370.6L706.3,369.3L707.1,368.0L707.9,366.7L708.7,365.4L709.5,364.2L710.3,362.9L711.1,361.6L711.9,360.4L712.8,359.2L713.6,357.9L714.5,356.7L715.4,355.5L716.2,354.3L717.1,353.1L718.0,351.9L719.0,350.7L719.9,349.5L720.8,348.3L721.8,347.2L722.7,346.0L723.7,344.9L724.6,343.7L725.6,342.6L726.6,341.5L727.6,340.4L728.6,339.3L729.7,338.2L730.7,337.1L731.8,336.0L732.8,334.9L733.9,333.9L734.9,332.8L736.0,331.8L737.1,330.8L738.2,329.8L739.4,328.8L740.5,327.8L741.6,326.8L742.8,325.8L743.9,324.9L745.1,323.9L746.2,323.0L747.4,322.1L748.6,321.2L749.8,320.3L751.0,319.4L752.3,318.5L753.5,317.7L754.7,316.8L756.0,316.0L757.2,315.2L758.5,314.4L759.8,313.6L761.0,312.8L762.3,312.0L763.6,311.3L764.9,310.6L766.3,309.8L767.6,309.1L768.9,308.4L770.2,307.8L771.6,307.1L772.9,306.4L774.3,305.8L775.7,305.2L777.0,304.6L778.4,304.0L779.8,303.4L781.2,302.8L782.6,302.3L784.0,301.7L785.4,301.2L786.8,300.7L788.2,300.1L789.6,299.7L791.0,299.2L792.4,298.7L793.8,298.2L795.3,297.8L796.7,297.3L798.1,296.9L799.6,296.5L801.0,296.1L802.5,295.7L803.9,295.3L805.4,294.9L806.8,294.5L808.3,294.2L809.7,293.8L811.2,293.5L812.6,293.1L814.1,292.8L815.6,292.5L817.0,292.2L818.5,291.9L820.0,291.6L821.4,291.3L822.9,291.0L824.4,290.7L825.9,290.5L827.3,290.2L828.8,290.0L830.3,289.7L831.8,289.5L833.3,289.3L834.8,289.0L836.2,288.8L837.7,288.6L839.2,288.4L840.7,288.2L842.2,288.0L843.7,287.9L845.2,287.7L846.6,287.5L848.1,287.3L849.6,287.2L851.1,287.0L852.6,286.9L854.1,286.7L855.6,286.6L857.1,286.4L858.6,286.3L860.1,286.2L861.6,286.0L863.1,285.9L864.5,285.8L866.0,285.7L867.5,285.6L869.0,285.5L870.5,285.4L872.0,285.3L873.5,285.2L875.0,285.1L876.5,285.0L878.0,284.9L879.5,284.8L881.0,284.8L882.0,284.7"/>
<path fill="none" stroke="#fff" stroke-width="1.7" stroke-linejoin="round" d="M883.0,273.2L884.5,273.4L886.0,273.6L887.5,273.7L889.0,273.9L890.4,274.0L891.9,274.2L893.4,274.3L894.9,274.5L896.4,274.6L897.9,274.7L899.4,274.8L900.9,274.9L902.4,275.0L903.9,275.1L905.4,275.2L906.9,275.3L908.4,275.4L909.9,275.4L911.4,275.5L912.9,275.6L914.4,275.6L915.9,275.7L917.4,275.7L918.9,275.8L920.4,275.8L921.9,275.9L923.4,275.9L924.9,276.0L926.4,276.0L927.9,276.0L929.4,276.1L930.9,276.1L932.4,276.1L933.9,276.2L935.3,276.2L936.8,276.2L938.3,276.2L939.8,276.2L941.3,276.3L942.8,276.3L944.3,276.3L945.8,276.3L947.3,276.3L948.8,276.4L950.3,276.4L951.8,276.4L953.3,276.4L954.8,276.5L956.3,276.5L957.8,276.5L959.3,276.6L960.8,276.6L962.3,276.6L963.8,276.7L965.3,276.8L966.8,276.8L968.3,276.9L969.8,277.0L971.3,277.0L972.8,277.1L974.3,277.2L975.8,277.3L977.3,277.5L978.8,277.6L980.3,277.7L981.8,277.9L983.3,278.0L984.7,278.2L986.2,278.4L987.7,278.6L989.2,278.8L990.7,279.0L992.2,279.3L993.6,279.5L995.1,279.8L996.6,280.1L998.0,280.4L999.5,280.7L1001.0,281.1L1002.4,281.4L1003.9,281.8L1005.3,282.2L1006.8,282.6L1008.2,283.1L1009.6,283.5L1011.0,284.0L1012.4,284.5L1013.8,285.0L1015.2,285.6L1016.6,286.2L1018.0,286.8L1019.4,287.4L1020.7,288.0L1022.1,288.7L1023.4,289.3L1024.7,290.0L1026.1,290.8L1027.4,291.5L1028.7,292.3L1029.9,293.0L1031.2,293.8L1032.5,294.6L1033.7,295.5L1034.9,296.3L1036.2,297.2L1037.4,298.1L1038.6,299.0L1039.7,299.9L1040.9,300.9L1042.1,301.8L1043.2,302.8L1044.3,303.8L1045.4,304.8L1046.5,305.9L1047.6,306.9L1048.6,308.0L1049.6,309.1L1050.7,310.2L1051.7,311.3L1052.6,312.4L1053.6,313.6L1054.6,314.7L1055.5,315.9L1056.4,317.1L1057.3,318.3L1058.1,319.5L1059.0,320.8L1059.8,322.0L1060.6,323.3L1061.4,324.6L1062.1,325.9L1062.9,327.2L1063.6,328.5L1064.3,329.8L1064.9,331.2L1065.6,332.5L1066.2,333.9L1066.8,335.3L1067.3,336.7L1067.9,338.1L1068.4,339.5L1068.9,340.9L1069.3,342.3L1069.8,343.7L1070.2,345.2L1070.6,346.6L1070.9,348.1L1071.2,349.6L1071.5,351.0L1071.8,352.5L1072.0,354.0L1072.3,355.5L1072.5,356.9L1072.6,358.4L1072.8,359.9L1072.9,361.4L1072.9,362.9L1073.0,364.4L1073.0,365.9L1073.0,367.4L1073.0,368.9L1072.9,370.4L1072.8,371.9L1072.7,373.4L1072.6,374.9L1072.4,376.4L1072.2,377.9L1072.0,379.2L1071.7,380.1L1071.2,380.0L1070.6,379.0L1070.0,377.7L1069.3,376.3L1068.7,375.0L1068.0,373.7L1067.3,372.3L1066.6,371.0L1065.9,369.7L1065.1,368.4L1064.4,367.1L1063.6,365.8L1062.9,364.5L1062.1,363.2L1061.3,361.9L1060.5,360.7L1059.7,359.4L1058.9,358.2L1058.0,356.9L1057.2,355.7L1056.3,354.4L1055.5,353.2L1054.6,352.0L1053.7,350.8L1052.8,349.6L1051.9,348.4L1050.9,347.2L1050.0,346.1L1049.1,344.9L1048.1,343.8L1047.1,342.6L1046.1,341.5L1045.1,340.4L1044.1,339.3L1043.1,338.2L1042.1,337.1L1041.1,336.0L1040.0,334.9L1039.0,333.9L1037.9,332.8L1036.8,331.8L1035.7,330.7L1034.6,329.7L1033.5,328.7L1032.4,327.7L1031.2,326.7L1030.1,325.8L1029.0,324.8L1027.8,323.9L1026.6,322.9L1025.4,322.0L1024.3,321.1L1023.1,320.2L1021.8,319.3L1020.6,318.4L1019.4,317.6L1018.2,316.7L1016.9,315.9L1015.7,315.0L1014.4,314.2L1013.1,313.4L1011.9,312.7L1010.6,311.9L1009.3,311.1L1008.0,310.4L1006.7,309.7L1005.4,308.9L1004.0,308.2L1002.7,307.5L1001.4,306.9L1000.0,306.2L998.7,305.6L997.3,304.9L995.9,304.3L994.6,303.7L993.2,303.1L991.8,302.6L990.4,302.0L989.0,301.5L987.6,300.9L986.2,300.4L984.8,299.9L983.4,299.4L982.0,298.9L980.5,298.5L979.1,298.0L977.7,297.6L976.2,297.2L974.8,296.7L973.4,296.3L971.9,295.9L970.5,295.6L969.0,295.2L967.6,294.8L966.1,294.5L964.6,294.1L963.2,293.8L961.7,293.5L960.3,293.1L958.8,292.8L957.3,292.5L955.8,292.2L954.4,292.0L952.9,291.7L951.4,291.4L950.0,291.1L948.5,290.9L947.0,290.6L945.5,290.4L944.0,290.2L942.6,289.9L941.1,289.7L939.6,289.5L938.1,289.3L936.6,289.1L935.1,288.9L933.7,288.7L932.2,288.5L930.7,288.3L929.2,288.1L927.7,287.9L926.2,287.8L924.7,287.6L923.2,287.4L921.7,287.2L920.3,287.1L918.8,286.9L917.3,286.7L915.8,286.6L914.3,286.4L912.8,286.3L911.3,286.1L909.8,286.0L908.3,285.8L906.8,285.7L905.4,285.5L903.9,285.4L902.4,285.2L900.9,285.1L899.4,284.9L897.9,284.7L896.4,284.6L894.9,284.4L893.4,284.3L891.9,284.1L890.4,284.0L889.0,283.8L887.5,283.6L886.0,283.5L884.5,283.3L883.0,283.1L883.0,283.1"/>
<path fill="none" stroke="#fff" stroke-width="1.7" stroke-linejoin="round" d="M134.2,476.0L134.3,478.8L134.5,481.7L134.6,484.6L134.7,487.6L134.8,490.5L135.0,493.5L135.1,496.6L135.2,499.6L135.4,502.7L135.6,505.8L135.8,508.9L136.0,512.0L136.2,515.1L136.5,518.2L136.8,521.4L137.1,524.5L137.5,527.7L137.9,530.8L138.3,534.0L138.7,537.1L139.2,540.2L139.8,543.3L140.4,546.4L141.0,549.5L141.7,552.6L142.4,555.7L143.2,558.7L144.0,561.7L144.9,564.7L145.9,567.6L146.9,570.6L148.0,573.5L149.1,576.3L150.3,579.1L151.5,581.9L152.8,584.6L154.1,587.3L155.5,590.0L157.0,592.6L158.5,595.2L160.1,597.7L161.7,600.1L163.4,602.5L165.1,604.9L166.9,607.1L168.8,609.4L170.7,611.5L172.7,613.6L174.8,615.6L176.9,617.6L179.1,619.5L181.3,621.3L183.6,623.0L186.0,624.7L188.4,626.3L190.8,627.8L193.4,629.2L195.9,630.6L198.5,632.0L201.2,633.2L203.9,634.4L206.7,635.6L209.5,636.6L212.3,637.7L215.2,638.6L218.1,639.6L221.0,640.4L224.0,641.3L227.0,642.0L230.0,642.8L233.0,643.4L236.1,644.1L239.2,644.7L242.3,645.2L245.4,645.7L248.6,646.2L251.7,646.7L254.9,647.1L258.1,647.5L261.2,647.8L264.4,648.1L267.6,648.4L270.8,648.7L274.0,649.0L277.1,649.2L280.3,649.4L283.5,649.6L286.6,649.7L289.8,649.9L292.9,650.0L296.0,650.2L299.1,650.3L302.2,650.4L305.3,650.5L308.3,650.6L311.3,650.7L314.3,650.8L317.3,650.9L320.2,651.0L323.1,651.1L325.9,651.2L328.7,651.3L331.5,651.4"/>
<path fill="none" stroke="#fff" stroke-width="1.7" stroke-linejoin="round" d="M140.7,476.0L141.0,479.1L141.4,482.3L141.8,485.4L142.3,488.5L142.8,491.6L143.4,494.7L144.0,497.7L144.7,500.7L145.5,503.7L146.3,506.7L147.1,509.7L148.0,512.6L149.0,515.5L150.0,518.4L151.1,521.3L152.2,524.1L153.3,526.9L154.5,529.7L155.8,532.5L157.1,535.2L158.4,537.9L159.8,540.6L161.3,543.3L162.8,545.9L164.3,548.5L165.9,551.0L167.5,553.6L169.2,556.1L170.9,558.5L172.6,561.0L174.4,563.4L176.3,565.8L178.1,568.1L180.1,570.4L182.0,572.7L184.0,574.9L186.1,577.1L188.1,579.3L190.2,581.4L192.4,583.5L194.6,585.5L196.8,587.5L199.1,589.5L201.3,591.4L203.7,593.3L206.0,595.2L208.4,597.0L210.9,598.8L213.3,600.5L215.8,602.2L218.3,603.9L220.9,605.5L223.5,607.0L226.1,608.6L228.7,610.1L231.4,611.5L234.0,612.9L236.7,614.3L239.5,615.6L242.2,616.9L245.0,618.1L247.8,619.4L250.6,620.5L253.5,621.7L256.3,622.7L259.2,623.8L262.1,624.8L265.0,625.8L267.9,626.7L270.9,627.6L273.8,628.4L276.8,629.2L279.8,630.0L282.8,630.7L285.8,631.4L288.8,632.1L291.8,632.7L294.8,633.3L297.9,633.8L300.9,634.3L303.9,634.8L307.0,635.2L310.1,635.5L313.1,635.9L316.2,636.2L319.2,636.4L322.3,636.7L325.4,636.8L328.4,637.0L331.5,637.1"/>
<path fill="none" stroke="#fff" stroke-width="1.7" stroke-linejoin="round" d="M332.0,639.0L333.5,638.9L335.0,638.8L336.5,638.8L338.0,638.7L339.5,638.6L341.0,638.5L342.5,638.4L344.0,638.2L345.5,638.1L347.0,638.0L348.5,637.9L349.9,637.7L351.4,637.6L352.9,637.4L354.4,637.2L355.9,637.1L357.4,636.9L358.9,636.7L360.4,636.5L361.9,636.3L363.3,636.1L364.8,635.9L366.3,635.7L367.8,635.5L369.3,635.3L370.8,635.0L372.2,634.8L373.7,634.5L375.2,634.3L376.7,634.0L378.1,633.7L379.6,633.4L381.1,633.1L382.6,632.8L384.0,632.5L385.5,632.2L387.0,631.9L388.4,631.6L389.9,631.2L391.3,630.9L392.8,630.5L394.2,630.1L395.7,629.8L397.1,629.4L398.6,629.0L400.0,628.6L401.5,628.2L402.9,627.7L404.3,627.3L405.8,626.9L407.2,626.4L408.6,625.9L410.1,625.5L411.5,625.0L412.9,624.5L414.3,624.0L415.7,623.5L417.1,623.0L418.5,622.4L419.9,621.9L421.3,621.3L422.7,620.8L424.1,620.2L425.5,619.6L426.8,619.0L428.2,618.4L429.6,617.8L430.9,617.1L432.3,616.5L433.6,615.8L435.0,615.1L436.3,614.5L437.6,613.8L439.0,613.1L440.3,612.3L441.6,611.6L442.9,610.9L444.2,610.1L445.5,609.3L446.7,608.5L448.0,607.7L449.3,606.9L450.5,606.1L451.8,605.3L453.0,604.4L454.2,603.6L455.4,602.7L456.6,601.8L457.8,600.9L459.0,600.0L460.2,599.0L461.4,598.1L462.5,597.1L463.7,596.2L464.8,595.2L465.9,594.2L467.0,593.2L468.1,592.2L469.2,591.1L470.3,590.1L471.4,589.0L472.4,588.0L473.5,586.9L474.5,585.8L475.5,584.7L476.5,583.6L477.5,582.5L478.5,581.4L479.5,580.2L480.5,579.1L481.5,577.9L482.4,576.8L483.3,575.6L484.3,574.4L485.2,573.3L486.1,572.1L487.0,570.9L487.9,569.7L488.8,568.4L489.6,567.2L490.5,566.0L491.3,564.8L492.2,563.5L493.0,562.3L493.8,561.0L494.7,559.8L495.5,558.5L496.3,557.2L497.0,555.9L497.8,554.7L498.6,553.4L499.3,552.1L500.1,550.8L500.8,549.5L501.6,548.2L502.3,546.9L503.0,545.5L503.7,544.2L504.4,542.9L505.1,541.6L505.8,540.2L506.5,538.9L507.1,537.5L507.8,536.2L508.4,534.8L509.1,533.5L509.7,532.1L510.4,530.8L511.0,529.4L511.6,528.0L512.2,526.7L512.8,525.3L513.4,523.9L514.0,522.5L514.6,521.2L515.2,519.8L515.7,518.4L516.3,517.0L516.8,515.6L517.4,514.2L517.9,512.8L518.5,511.4L519.0,510.0L519.5,508.6L520.0,507.2L520.6,505.8L521.1,504.4L521.6,503.0L522.1,501.6L522.6,500.1L523.0,498.7L523.5,497.3L524.0,495.9L524.5,494.5L524.9,493.0L525.4,491.6L525.8,490.2L526.3,489.2L526.6,489.0L526.8,489.9L527.0,491.3L527.1,492.8L527.2,494.3L527.4,495.8L527.5,497.3L527.6,498.8L527.7,500.2L527.7,501.7L527.8,503.2L527.9,504.7L527.9,506.2L527.9,507.7L528.0,509.2L528.0,510.7L528.0,512.2L528.0,513.7L528.0,515.2L527.9,516.7L527.9,518.2L527.9,519.7L527.8,521.2L527.7,522.7L527.7,524.2L527.6,525.7L527.5,527.2L527.4,528.7L527.2,530.2L527.1,531.7L527.0,533.2L526.8,534.7L526.7,536.2L526.5,537.7L526.3,539.2L526.1,540.6L525.9,542.1L525.7,543.6L525.5,545.1L525.2,546.6L525.0,548.1L524.7,549.5L524.5,551.0L524.2,552.5L523.9,554.0L523.6,555.4L523.3,556.9L523.0,558.4L522.6,559.8L522.3,561.3L521.9,562.7L521.5,564.2L521.1,565.6L520.7,567.1L520.3,568.5L519.9,569.9L519.4,571.4L519.0,572.8L518.5,574.2L518.1,575.7L517.6,577.1L517.0,578.5L516.5,579.9L516.0,581.3L515.4,582.7L514.9,584.1L514.3,585.5L513.7,586.8L513.1,588.2L512.4,589.6L511.8,590.9L511.1,592.3L510.5,593.6L509.8,594.9L509.1,596.2L508.3,597.6L507.6,598.9L506.8,600.2L506.1,601.4L505.3,602.7L504.4,604.0L503.6,605.2L502.8,606.4L501.9,607.7L501.0,608.9L500.1,610.1L499.2,611.2L498.2,612.4L497.3,613.6L496.3,614.7L495.3,615.8L494.3,616.9L493.2,618.0L492.2,619.1L491.1,620.1L490.0,621.1L488.9,622.1L487.7,623.1L486.6,624.0L485.4,625.0L484.2,625.9L483.0,626.8L481.8,627.6L480.5,628.5L479.3,629.3L478.0,630.1L476.7,630.8L475.4,631.6L474.1,632.3L472.8,633.0L471.4,633.7L470.1,634.3L468.7,634.9L467.3,635.5L466.0,636.1L464.6,636.7L463.2,637.3L461.8,637.8L460.4,638.3L458.9,638.8L457.5,639.2L456.1,639.7L454.6,640.1L453.2,640.5L451.8,641.0L450.3,641.3L448.9,641.7L447.4,642.1L445.9,642.4L444.5,642.7L443.0,643.1L441.5,643.4L440.1,643.6L438.6,643.9L437.1,644.2L435.6,644.4L434.2,644.7L432.7,644.9L431.2,645.1L429.7,645.4L428.2,645.6L426.7,645.8L425.3,645.9L423.8,646.1L422.3,646.3L420.8,646.4L419.3,646.6L417.8,646.7L416.3,646.9L414.8,647.0L413.3,647.1L411.8,647.2L410.3,647.3L408.8,647.5L407.3,647.5L405.8,647.6L404.3,647.7L402.9,647.8L401.4,647.9L399.9,648.0L398.4,648.0L396.9,648.1L395.4,648.2L393.9,648.2L392.4,648.3L390.9,648.3L389.4,648.4L387.9,648.4L386.4,648.5L384.9,648.5L383.4,648.6L381.9,648.6L380.4,648.7L378.9,648.7L377.4,648.7L375.9,648.8L374.4,648.8L372.9,648.9L371.4,648.9L369.9,649.0L368.4,649.0L366.9,649.1L365.4,649.1L363.9,649.2L362.4,649.2L360.9,649.3L359.4,649.3L357.9,649.4L356.4,649.5L354.9,649.6L353.4,649.6L351.9,649.7L350.4,649.8L348.9,649.9L347.4,650.0L345.9,650.1L344.4,650.3L342.9,650.4L341.4,650.5L339.9,650.7L338.5,650.8L337.0,651.0L335.5,651.2L334.0,651.3L332.5,651.5L332.0,651.6"/>
<path fill="none" stroke="#fff" stroke-width="1.7" stroke-linejoin="round" d="M331.0,661.3L329.5,661.5L328.0,661.6L326.5,661.7L325.0,661.9L323.5,662.0L322.0,662.1L320.5,662.2L319.0,662.3L317.6,662.4L316.1,662.5L314.6,662.6L313.1,662.6L311.6,662.7L310.1,662.8L308.6,662.8L307.1,662.9L305.6,662.9L304.1,663.0L302.6,663.0L301.1,663.1L299.6,663.1L298.1,663.2L296.6,663.2L295.1,663.2L293.6,663.3L292.1,663.3L290.6,663.3L289.1,663.4L287.6,663.4L286.1,663.4L284.6,663.4L283.1,663.5L281.6,663.5L280.1,663.5L278.6,663.6L277.1,663.6L275.6,663.6L274.1,663.7L272.6,663.7L271.1,663.8L269.6,663.8L268.1,663.9L266.6,663.9L265.1,664.0L263.6,664.0L262.1,664.1L260.6,664.2L259.1,664.3L257.6,664.3L256.1,664.4L254.6,664.5L253.1,664.6L251.7,664.7L250.2,664.8L248.7,664.9L247.2,665.0L245.7,665.2L244.2,665.3L242.7,665.4L241.2,665.6L239.7,665.7L238.2,665.9L236.7,666.1L235.2,666.3L233.8,666.4L232.3,666.6L230.8,666.9L229.3,667.1L227.8,667.3L226.3,667.6L224.9,667.8L223.4,668.1L221.9,668.4L220.4,668.6L219.0,668.9L217.5,669.3L216.1,669.6L214.6,669.9L213.1,670.3L211.7,670.6L210.2,671.0L208.8,671.4L207.4,671.9L205.9,672.3L204.5,672.7L203.1,673.2L201.7,673.7L200.2,674.2L198.8,674.7L197.4,675.2L196.0,675.8L194.7,676.4L193.3,677.0L191.9,677.6L190.6,678.2L189.2,678.9L187.9,679.6L186.5,680.3L185.2,681.0L183.9,681.7L182.6,682.5L181.4,683.3L180.1,684.1L178.8,684.9L177.6,685.7L176.4,686.6L175.2,687.5L174.0,688.4L172.8,689.3L171.6,690.3L170.5,691.2L169.4,692.2L168.3,693.2L167.2,694.3L166.1,695.3L165.1,696.4L164.0,697.5L163.0,698.6L162.1,699.7L161.1,700.9L160.2,702.1L159.2,703.2L158.3,704.4L157.5,705.7L156.6,706.9L155.8,708.2L155.0,709.4L154.2,710.7L153.5,712.0L152.7,713.3L152.0,714.6L151.3,716.0L150.7,717.3L150.0,718.6L149.4,720.0L148.8,721.4L148.2,722.7L147.6,724.1L147.1,725.5L146.6,726.9L146.0,728.3L145.6,729.8L145.1,731.2L144.7,732.6L144.2,734.1L143.8,735.5L143.4,736.9L143.0,738.4L142.7,739.8L142.3,741.3L142.0,742.8L141.7,744.2L141.4,745.7L141.1,747.2L140.9,748.7L140.6,750.1L140.4,751.6L140.1,753.1L139.9,754.6L139.7,756.1L139.5,757.5L139.3,759.0L139.2,760.5L139.0,762.0L138.9,763.5L138.7,765.0L138.6,766.5L138.5,768.0L138.4,769.5L138.3,771.0L138.2,772.5L138.1,774.0L138.1,775.5L138.0,777.0L138.0,778.5L137.9,780.0L137.9,781.5L137.8,783.0L137.8,784.5L137.8,786.0L137.8,787.5L137.8,788.9L137.8,790.4L137.8,791.9L137.8,793.4L137.8,794.9L137.8,796.4L137.8,797.9L137.9,799.4L137.9,800.9L138.0,802.4L138.1,803.4L138.3,803.4L138.7,802.5L139.1,801.1L139.6,799.7L140.1,798.3L140.6,796.9L141.1,795.5L141.6,794.1L142.1,792.7L142.6,791.3L143.2,789.9L143.7,788.5L144.3,787.1L144.8,785.7L145.4,784.3L146.0,782.9L146.6,781.5L147.2,780.2L147.8,778.8L148.4,777.4L149.1,776.1L149.7,774.7L150.4,773.4L151.0,772.0L151.7,770.7L152.4,769.4L153.1,768.0L153.8,766.7L154.5,765.4L155.2,764.1L155.9,762.8L156.7,761.5L157.4,760.2L158.2,758.9L159.0,757.6L159.7,756.3L160.5,755.0L161.3,753.8L162.1,752.5L163.0,751.3L163.8,750.0L164.6,748.8L165.5,747.5L166.4,746.3L167.2,745.1L168.1,743.9L169.0,742.7L169.9,741.5L170.8,740.3L171.7,739.1L172.7,737.9L173.6,736.8L174.6,735.6L175.5,734.5L176.5,733.3L177.5,732.2L178.5,731.1L179.5,729.9L180.5,728.8L181.5,727.7L182.5,726.7L183.6,725.6L184.6,724.5L185.7,723.5L186.8,722.4L187.9,721.4L189.0,720.4L190.1,719.3L191.2,718.3L192.3,717.4L193.4,716.4L194.6,715.4L195.7,714.4L196.9,713.5L198.1,712.6L199.2,711.6L200.4,710.7L201.6,709.8L202.8,709.0L204.1,708.1L205.3,707.2L206.5,706.4L207.8,705.6L209.0,704.7L210.3,703.9L211.6,703.1L212.9,702.4L214.1,701.6L215.4,700.9L216.7,700.1L218.1,699.4L219.4,698.7L220.7,698.0L222.0,697.3L223.4,696.6L224.7,696.0L226.1,695.3L227.4,694.7L228.8,694.1L230.2,693.5L231.6,692.9L232.9,692.3L234.3,691.7L235.7,691.2L237.1,690.6L238.5,690.1L239.9,689.6L241.3,689.1L242.7,688.6L244.2,688.1L245.6,687.6L247.0,687.1L248.4,686.7L249.9,686.2L251.3,685.8L252.7,685.3L254.2,684.9L255.6,684.5L257.0,684.1L258.5,683.7L259.9,683.3L261.4,683.0L262.8,682.6L264.3,682.2L265.8,681.9L267.2,681.6L268.7,681.2L270.1,680.9L271.6,680.6L273.1,680.3L274.5,680.0L276.0,679.7L277.5,679.4L279.0,679.1L280.4,678.8L281.9,678.6L283.4,678.3L284.9,678.1L286.3,677.8L287.8,677.6L289.3,677.3L290.8,677.1L292.3,676.9L293.7,676.7L295.2,676.5L296.7,676.3L298.2,676.1L299.7,675.9L301.2,675.7L302.7,675.5L304.1,675.3L305.6,675.1L307.1,675.0L308.6,674.8L310.1,674.7L311.6,674.5L313.1,674.3L314.6,674.2L316.1,674.1L317.6,673.9L319.1,673.8L320.5,673.6L322.0,673.5L323.5,673.4L325.0,673.3L326.5,673.1L328.0,673.0L329.5,672.9L331.0,672.8L331.0,672.8"/>
<path fill="none" stroke="#fff" stroke-width="1.7" stroke-linejoin="round" d="M332.0,660.8L333.5,661.0L335.0,661.2L336.5,661.4L337.9,661.6L339.4,661.8L340.9,661.9L342.4,662.1L343.9,662.2L345.4,662.3L346.9,662.5L348.4,662.6L349.9,662.7L351.4,662.8L352.9,662.9L354.4,663.0L355.9,663.0L357.4,663.1L358.9,663.2L360.4,663.2L361.9,663.3L363.4,663.3L364.9,663.4L366.4,663.4L367.9,663.5L369.4,663.5L370.9,663.6L372.4,663.6L373.9,663.6L375.4,663.6L376.9,663.7L378.4,663.7L379.9,663.7L381.4,663.8L382.9,663.8L384.4,663.8L385.9,663.8L387.4,663.9L388.9,663.9L390.4,663.9L391.8,663.9L393.3,664.0L394.8,664.0L396.3,664.1L397.8,664.1L399.3,664.1L400.8,664.2L402.3,664.2L403.8,664.3L405.3,664.3L406.8,664.4L408.3,664.5L409.8,664.5L411.3,664.6L412.8,664.7L414.3,664.8L415.8,664.9L417.3,665.0L418.8,665.1L420.3,665.2L421.8,665.3L423.3,665.5L424.8,665.6L426.3,665.8L427.8,665.9L429.3,666.1L430.7,666.3L432.2,666.5L433.7,666.7L435.2,666.9L436.7,667.1L438.2,667.3L439.6,667.6L441.1,667.8L442.6,668.1L444.1,668.4L445.5,668.7L447.0,669.0L448.5,669.3L449.9,669.7L451.4,670.0L452.8,670.4L454.3,670.8L455.7,671.2L457.2,671.6L458.6,672.1L460.0,672.5L461.5,673.0L462.9,673.5L464.3,674.0L465.7,674.5L467.1,675.1L468.5,675.6L469.8,676.2L471.2,676.8L472.6,677.4L473.9,678.1L475.3,678.7L476.6,679.4L477.9,680.1L479.3,680.8L480.6,681.6L481.9,682.3L483.1,683.1L484.4,683.9L485.7,684.8L486.9,685.6L488.1,686.4L489.3,687.3L490.5,688.2L491.7,689.1L492.9,690.1L494.0,691.0L495.2,692.0L496.3,693.0L497.4,694.0L498.5,695.1L499.5,696.1L500.6,697.2L501.6,698.3L502.6,699.4L503.6,700.5L504.6,701.7L505.5,702.9L506.4,704.0L507.3,705.3L508.2,706.5L509.0,707.7L509.9,709.0L510.7,710.2L511.4,711.5L512.2,712.8L512.9,714.1L513.6,715.5L514.3,716.8L514.9,718.2L515.5,719.5L516.1,720.9L516.7,722.3L517.2,723.7L517.7,725.1L518.2,726.5L518.6,728.0L519.1,729.4L519.5,730.8L519.9,732.3L520.3,733.7L520.6,735.2L521.0,736.6L521.3,738.1L521.6,739.6L521.8,741.1L522.1,742.5L522.3,744.0L522.6,745.5L522.8,747.0L523.0,748.5L523.1,750.0L523.3,751.4L523.4,752.9L523.6,754.4L523.7,755.9L523.8,757.4L523.8,758.9L523.9,760.4L524.0,761.9L524.0,763.4L524.0,764.9L524.0,766.4L524.0,767.9L524.0,769.4L524.0,770.9L523.9,772.4L523.9,773.9L523.8,775.4L523.7,776.9L523.6,778.4L523.5,779.9L523.4,781.3L523.2,782.4L522.9,782.4L522.5,781.6L522.0,780.2L521.5,778.8L521.0,777.4L520.4,776.0L519.9,774.6L519.3,773.2L518.8,771.8L518.2,770.5L517.6,769.1L517.0,767.7L516.3,766.3L515.7,765.0L515.1,763.6L514.4,762.3L513.7,761.0L513.0,759.6L512.3,758.3L511.6,757.0L510.9,755.7L510.1,754.4L509.4,753.1L508.6,751.8L507.8,750.5L507.0,749.3L506.2,748.0L505.4,746.7L504.5,745.5L503.7,744.3L502.8,743.0L502.0,741.8L501.1,740.6L500.2,739.4L499.3,738.2L498.4,737.0L497.4,735.8L496.5,734.7L495.5,733.5L494.5,732.4L493.6,731.3L492.6,730.1L491.6,729.0L490.6,727.9L489.5,726.8L488.5,725.7L487.4,724.7L486.4,723.6L485.3,722.6L484.2,721.5L483.1,720.5L482.0,719.5L480.9,718.5L479.8,717.5L478.6,716.5L477.5,715.5L476.3,714.6L475.2,713.6L474.0,712.7L472.8,711.8L471.6,710.9L470.4,710.0L469.2,709.1L468.0,708.2L466.8,707.4L465.5,706.5L464.3,705.7L463.0,704.9L461.7,704.1L460.5,703.3L459.2,702.5L457.9,701.8L456.6,701.0L455.3,700.3L454.0,699.6L452.7,698.8L451.3,698.2L450.0,697.5L448.7,696.8L447.3,696.1L446.0,695.5L444.6,694.9L443.2,694.3L441.8,693.7L440.5,693.1L439.1,692.5L437.7,691.9L436.3,691.4L434.9,690.9L433.5,690.3L432.1,689.8L430.7,689.3L429.3,688.8L427.8,688.4L426.4,687.9L425.0,687.4L423.5,687.0L422.1,686.5L420.7,686.1L419.2,685.7L417.8,685.3L416.3,684.9L414.9,684.5L413.4,684.1L412.0,683.8L410.5,683.4L409.1,683.1L407.6,682.7L406.2,682.4L404.7,682.1L403.2,681.7L401.8,681.4L400.3,681.1L398.8,680.8L397.4,680.5L395.9,680.2L394.4,680.0L392.9,679.7L391.5,679.4L390.0,679.2L388.5,678.9L387.0,678.7L385.6,678.4L384.1,678.2L382.6,677.9L381.1,677.7L379.6,677.5L378.1,677.3L376.7,677.1L375.2,676.8L373.7,676.6L372.2,676.4L370.7,676.2L369.2,676.0L367.7,675.8L366.3,675.7L364.8,675.5L363.3,675.3L361.8,675.1L360.3,674.9L358.8,674.7L357.3,674.6L355.8,674.4L354.3,674.2L352.9,674.0L351.4,673.9L349.9,673.7L348.4,673.5L346.9,673.4L345.4,673.2L343.9,673.0L342.4,672.9L340.9,672.7L339.5,672.5L338.0,672.4L336.5,672.2L335.0,672.0L333.5,671.9L332.0,671.7L332.0,671.7"/>
<path fill="none" stroke="#fff" stroke-width="1.7" stroke-linejoin="round" d="M685.2,476.0L685.2,478.8L685.3,481.7L685.3,484.6L685.4,487.5L685.5,490.5L685.6,493.4L685.7,496.5L685.8,499.5L686.0,502.6L686.2,505.6L686.5,508.7L686.7,511.8L687.0,515.0L687.3,518.1L687.6,521.2L688.0,524.4L688.4,527.5L688.9,530.7L689.3,533.8L689.8,537.0L690.4,540.1L691.0,543.2L691.6,546.3L692.3,549.4L693.0,552.5L693.7,555.6L694.5,558.7L695.3,561.7L696.2,564.7L697.1,567.7L698.1,570.6L699.1,573.6L700.2,576.4L701.3,579.3L702.5,582.1L703.7,584.9L705.0,587.6L706.3,590.3L707.7,592.9L709.2,595.5L710.7,598.0L712.2,600.5L713.8,602.9L715.5,605.3L717.3,607.6L719.1,609.8L721.0,612.0L722.9,614.1L724.9,616.2L727.0,618.1L729.1,620.0L731.3,621.8L733.6,623.5L736.0,625.2L738.4,626.8L740.9,628.3L743.4,629.7L746.0,631.1L748.6,632.4L751.3,633.6L754.1,634.8L756.9,635.9L759.7,636.9L762.6,637.9L765.5,638.9L768.4,639.7L771.4,640.6L774.4,641.3L777.4,642.0L780.5,642.7L783.6,643.3L786.7,643.9L789.8,644.4L792.9,644.9L796.1,645.4L799.2,645.8L802.4,646.1L805.5,646.5L808.7,646.8L811.9,647.0L815.0,647.3L818.2,647.5L821.4,647.7L824.5,647.9L827.7,648.0L830.8,648.2L834.0,648.3L837.1,648.4L840.2,648.5L843.3,648.7L846.4,648.8L849.5,648.9L852.5,649.0L855.6,649.1L858.6,649.3L861.6,649.4L864.6,649.6L867.6,649.7L870.5,649.9L873.4,650.2L876.3,650.4L879.2,650.7L882.0,651.0"/>
<path fill="none" stroke="#fff" stroke-width="1.7" stroke-linejoin="round" d="M692.3,476.0L692.7,479.1L693.1,482.2L693.6,485.2L694.1,488.3L694.7,491.3L695.3,494.3L696.0,497.4L696.7,500.4L697.5,503.3L698.3,506.3L699.2,509.2L700.1,512.2L701.0,515.1L702.0,518.0L703.1,520.8L704.2,523.7L705.3,526.5L706.5,529.3L707.8,532.1L709.0,534.8L710.4,537.6L711.7,540.3L713.1,542.9L714.6,545.6L716.1,548.2L717.6,550.8L719.2,553.3L720.8,555.9L722.5,558.4L724.2,560.8L726.0,563.3L727.7,565.7L729.6,568.0L731.4,570.3L733.4,572.6L735.3,574.9L737.3,577.1L739.3,579.3L741.4,581.4L743.5,583.5L745.6,585.6L747.8,587.6L750.1,589.6L752.3,591.5L754.6,593.4L756.9,595.2L759.3,597.0L761.7,598.8L764.2,600.5L766.6,602.2L769.1,603.8L771.7,605.4L774.2,606.9L776.8,608.4L779.5,609.9L782.1,611.3L784.8,612.6L787.5,614.0L790.2,615.2L793.0,616.5L795.8,617.7L798.6,618.9L801.4,620.0L804.2,621.1L807.1,622.1L810.0,623.1L812.9,624.1L815.8,625.1L818.7,625.9L821.6,626.8L824.6,627.6L827.6,628.4L830.5,629.2L833.5,629.9L836.5,630.5L839.5,631.2L842.5,631.8L845.6,632.4L848.6,632.9L851.6,633.4L854.7,633.9L857.7,634.3L860.7,634.7L863.8,635.1L866.8,635.4L869.9,635.7L872.9,636.0L875.9,636.2L879.0,636.4L882.0,636.6"/>
<path fill="none" stroke="#fff" stroke-width="1.7" stroke-linejoin="round" d="M883.0,637.4L884.5,637.2L886.0,637.1L887.5,636.9L889.0,636.7L890.4,636.5L891.9,636.4L893.4,636.2L894.9,636.0L896.4,635.8L897.9,635.6L899.4,635.4L900.9,635.2L902.3,635.0L903.8,634.8L905.3,634.6L906.8,634.4L908.3,634.2L909.8,634.0L911.3,633.7L912.7,633.5L914.2,633.3L915.7,633.1L917.2,632.8L918.7,632.6L920.1,632.3L921.6,632.1L923.1,631.8L924.6,631.5L926.0,631.2L927.5,631.0L929.0,630.7L930.5,630.4L931.9,630.1L933.4,629.8L934.9,629.5L936.3,629.2L937.8,628.8L939.3,628.5L940.7,628.2L942.2,627.8L943.6,627.5L945.1,627.1L946.5,626.8L948.0,626.4L949.4,626.0L950.9,625.6L952.3,625.2L953.8,624.8L955.2,624.4L956.7,623.9L958.1,623.5L959.5,623.1L960.9,622.6L962.4,622.1L963.8,621.7L965.2,621.2L966.6,620.7L968.0,620.2L969.5,619.7L970.9,619.2L972.3,618.6L973.7,618.1L975.0,617.5L976.4,616.9L977.8,616.4L979.2,615.8L980.6,615.2L981.9,614.5L983.3,613.9L984.6,613.3L986.0,612.6L987.3,611.9L988.7,611.3L990.0,610.6L991.3,609.9L992.6,609.1L993.9,608.4L995.2,607.6L996.5,606.9L997.8,606.1L999.1,605.3L1000.3,604.5L1001.6,603.7L1002.8,602.8L1004.1,602.0L1005.3,601.1L1006.5,600.2L1007.7,599.3L1008.9,598.4L1010.1,597.5L1011.2,596.5L1012.4,595.6L1013.5,594.6L1014.6,593.6L1015.8,592.6L1016.9,591.6L1017.9,590.6L1019.0,589.5L1020.1,588.5L1021.1,587.4L1022.2,586.3L1023.2,585.2L1024.2,584.1L1025.2,583.0L1026.2,581.9L1027.2,580.7L1028.1,579.6L1029.1,578.4L1030.0,577.3L1031.0,576.1L1031.9,574.9L1032.8,573.7L1033.7,572.5L1034.6,571.3L1035.5,570.1L1036.3,568.9L1037.2,567.6L1038.0,566.4L1038.9,565.1L1039.7,563.9L1040.5,562.6L1041.3,561.4L1042.1,560.1L1042.9,558.8L1043.7,557.5L1044.5,556.3L1045.2,555.0L1046.0,553.7L1046.7,552.4L1047.5,551.1L1048.2,549.8L1048.9,548.4L1049.6,547.1L1050.3,545.8L1051.0,544.5L1051.7,543.1L1052.4,541.8L1053.1,540.5L1053.8,539.1L1054.4,537.8L1055.1,536.4L1055.7,535.1L1056.4,533.7L1057.0,532.4L1057.7,531.0L1058.3,529.7L1058.9,528.3L1059.6,526.9L1060.2,525.6L1060.8,524.2L1061.4,522.8L1062.0,521.5L1062.6,520.1L1063.2,518.7L1063.8,517.3L1064.3,515.9L1064.9,514.6L1065.5,513.2L1066.1,511.8L1066.6,510.4L1067.2,509.0L1067.8,507.6L1068.3,506.2L1068.9,504.8L1069.4,503.5L1070.0,502.1L1070.5,500.7L1071.1,499.3L1071.6,497.9L1072.2,496.5L1072.7,495.1L1073.3,493.7L1073.8,492.3L1074.3,490.9L1074.9,489.5L1075.4,488.1L1075.9,486.8L1076.4,486.2L1076.7,486.5L1076.9,487.7L1077.1,489.2L1077.2,490.7L1077.4,492.2L1077.5,493.6L1077.6,495.1L1077.7,496.6L1077.8,498.1L1077.9,499.6L1077.9,501.1L1078.0,502.6L1078.1,504.1L1078.1,505.6L1078.1,507.1L1078.1,508.6L1078.2,510.1L1078.2,511.6L1078.1,513.1L1078.1,514.6L1078.1,516.1L1078.0,517.6L1078.0,519.1L1077.9,520.6L1077.9,522.1L1077.8,523.6L1077.7,525.1L1077.6,526.6L1077.5,528.1L1077.4,529.6L1077.2,531.1L1077.1,532.6L1076.9,534.1L1076.8,535.6L1076.6,537.0L1076.4,538.5L1076.2,540.0L1076.0,541.5L1075.8,543.0L1075.5,544.5L1075.3,546.0L1075.0,547.4L1074.8,548.9L1074.5,550.4L1074.2,551.9L1073.9,553.3L1073.6,554.8L1073.3,556.3L1073.0,557.7L1072.6,559.2L1072.3,560.6L1071.9,562.1L1071.5,563.5L1071.1,565.0L1070.7,566.4L1070.3,567.9L1069.9,569.3L1069.4,570.7L1069.0,572.2L1068.5,573.6L1068.0,575.0L1067.5,576.4L1067.0,577.8L1066.5,579.2L1066.0,580.6L1065.4,582.0L1064.8,583.4L1064.2,584.8L1063.6,586.2L1063.0,587.5L1062.4,588.9L1061.8,590.3L1061.1,591.6L1060.4,592.9L1059.7,594.3L1059.0,595.6L1058.3,596.9L1057.5,598.2L1056.8,599.5L1056.0,600.8L1055.2,602.0L1054.4,603.3L1053.5,604.5L1052.7,605.8L1051.8,607.0L1050.9,608.2L1050.0,609.4L1049.1,610.6L1048.1,611.7L1047.2,612.9L1046.2,614.0L1045.2,615.1L1044.2,616.2L1043.1,617.3L1042.1,618.4L1041.0,619.4L1039.9,620.4L1038.8,621.4L1037.6,622.4L1036.5,623.3L1035.3,624.3L1034.1,625.2L1032.9,626.1L1031.7,626.9L1030.4,627.8L1029.2,628.6L1027.9,629.4L1026.6,630.1L1025.3,630.9L1024.0,631.6L1022.7,632.3L1021.3,633.0L1020.0,633.6L1018.6,634.3L1017.2,634.9L1015.9,635.5L1014.5,636.0L1013.1,636.6L1011.7,637.1L1010.3,637.7L1008.9,638.1L1007.4,638.6L1006.0,639.1L1004.6,639.5L1003.1,640.0L1001.7,640.4L1000.3,640.8L998.8,641.2L997.3,641.5L995.9,641.9L994.4,642.2L993.0,642.5L991.5,642.9L990.0,643.2L988.6,643.4L987.1,643.7L985.6,644.0L984.1,644.2L982.7,644.5L981.2,644.7L979.7,644.9L978.2,645.2L976.7,645.4L975.2,645.6L973.7,645.7L972.3,645.9L970.8,646.1L969.3,646.2L967.8,646.4L966.3,646.5L964.8,646.7L963.3,646.8L961.8,646.9L960.3,647.1L958.8,647.2L957.3,647.3L955.8,647.4L954.3,647.5L952.8,647.6L951.3,647.7L949.8,647.7L948.3,647.8L946.8,647.9L945.3,648.0L943.9,648.0L942.4,648.1L940.9,648.2L939.4,648.2L937.9,648.3L936.4,648.3L934.9,648.4L933.4,648.4L931.9,648.5L930.4,648.5L928.9,648.6L927.4,648.6L925.9,648.7L924.4,648.7L922.9,648.8L921.4,648.8L919.9,648.9L918.4,648.9L916.9,649.0L915.4,649.0L913.9,649.1L912.4,649.2L910.9,649.2L909.4,649.3L907.9,649.4L906.4,649.5L904.9,649.6L903.4,649.6L901.9,649.7L900.4,649.8L898.9,650.0L897.4,650.1L895.9,650.2L894.4,650.3L892.9,650.5L891.4,650.6L890.0,650.8L888.5,650.9L887.0,651.1L885.5,651.3L884.0,651.5L883.0,651.6"/>
<path fill="none" stroke="#fff" stroke-width="1.7" stroke-linejoin="round" d="M882.0,661.9L880.5,662.1L879.0,662.3L877.5,662.5L876.0,662.7L874.6,662.8L873.1,663.0L871.6,663.1L870.1,663.3L868.6,663.4L867.1,663.5L865.6,663.6L864.1,663.7L862.6,663.8L861.1,663.9L859.6,664.0L858.1,664.1L856.6,664.2L855.1,664.3L853.6,664.4L852.1,664.4L850.6,664.5L849.1,664.5L847.6,664.6L846.1,664.7L844.6,664.7L843.1,664.8L841.6,664.8L840.1,664.9L838.6,664.9L837.1,664.9L835.6,665.0L834.1,665.0L832.6,665.1L831.1,665.1L829.6,665.2L828.1,665.2L826.6,665.3L825.1,665.3L823.6,665.3L822.1,665.4L820.6,665.5L819.1,665.5L817.6,665.6L816.1,665.6L814.7,665.7L813.2,665.8L811.7,665.8L810.2,665.9L808.7,666.0L807.2,666.1L805.7,666.1L804.2,666.2L802.7,666.3L801.2,666.4L799.7,666.5L798.2,666.7L796.7,666.8L795.2,666.9L793.7,667.0L792.2,667.2L790.7,667.3L789.2,667.5L787.7,667.7L786.2,667.8L784.8,668.0L783.3,668.2L781.8,668.4L780.3,668.7L778.8,668.9L777.3,669.1L775.9,669.4L774.4,669.6L772.9,669.9L771.4,670.2L770.0,670.5L768.5,670.8L767.0,671.2L765.6,671.5L764.1,671.9L762.7,672.3L761.2,672.7L759.8,673.1L758.4,673.5L756.9,674.0L755.5,674.5L754.1,675.0L752.7,675.5L751.3,676.0L749.9,676.6L748.5,677.1L747.1,677.7L745.8,678.4L744.4,679.0L743.1,679.7L741.7,680.4L740.4,681.1L739.1,681.8L737.8,682.6L736.6,683.4L735.3,684.2L734.1,685.0L732.8,685.9L731.6,686.8L730.4,687.7L729.3,688.6L728.1,689.6L727.0,690.6L725.8,691.5L724.7,692.6L723.6,693.6L722.6,694.6L721.5,695.7L720.5,696.8L719.5,697.9L718.5,699.0L717.5,700.1L716.5,701.3L715.6,702.5L714.7,703.6L713.8,704.8L712.9,706.0L712.0,707.3L711.1,708.5L710.3,709.7L709.5,711.0L708.7,712.3L707.9,713.5L707.1,714.8L706.4,716.1L705.6,717.4L704.9,718.7L704.2,720.1L703.5,721.4L702.9,722.7L702.2,724.1L701.6,725.5L701.0,726.8L700.3,728.2L699.8,729.6L699.2,731.0L698.6,732.4L698.1,733.7L697.6,735.2L697.0,736.6L696.6,738.0L696.1,739.4L695.6,740.8L695.1,742.3L694.7,743.7L694.3,745.1L693.9,746.6L693.5,748.0L693.1,749.5L692.7,750.9L692.4,752.4L692.1,753.8L691.7,755.3L691.4,756.8L691.1,758.2L690.8,759.7L690.6,761.2L690.3,762.7L690.1,764.2L689.9,765.6L689.7,767.1L689.5,768.6L689.3,770.1L689.1,771.6L688.9,773.1L688.8,774.6L688.7,776.1L688.6,777.6L688.5,779.1L688.4,780.6L688.3,782.0L688.2,783.5L688.2,785.0L688.2,786.5L688.1,788.0L688.1,789.5L688.1,791.0L688.2,792.5L688.2,794.0L688.3,795.5L688.3,797.0L688.4,798.5L688.5,800.0L688.6,801.5L688.8,803.0L688.9,804.5L689.1,806.0L689.3,807.4L689.5,808.4L690.0,808.3L690.6,807.4L691.3,806.2L692.0,804.9L692.7,803.5L693.4,802.2L694.1,800.8L694.7,799.5L695.4,798.1L696.0,796.8L696.7,795.4L697.3,794.1L697.9,792.7L698.6,791.4L699.2,790.0L699.8,788.6L700.4,787.3L701.0,785.9L701.7,784.5L702.3,783.2L702.9,781.8L703.5,780.4L704.1,779.1L704.8,777.7L705.4,776.3L706.0,775.0L706.6,773.6L707.3,772.2L707.9,770.9L708.5,769.5L709.2,768.2L709.8,766.8L710.5,765.5L711.1,764.1L711.8,762.8L712.5,761.4L713.2,760.1L713.8,758.8L714.5,757.4L715.3,756.1L716.0,754.8L716.7,753.5L717.4,752.2L718.2,750.9L718.9,749.6L719.7,748.3L720.5,747.0L721.3,745.8L722.1,744.5L722.9,743.2L723.7,742.0L724.6,740.8L725.4,739.5L726.3,738.3L727.2,737.1L728.1,735.9L729.0,734.7L729.9,733.5L730.8,732.3L731.8,731.2L732.7,730.0L733.7,728.9L734.7,727.7L735.7,726.6L736.7,725.5L737.7,724.4L738.7,723.3L739.8,722.2L740.8,721.2L741.9,720.1L743.0,719.1L744.1,718.1L745.2,717.1L746.3,716.1L747.5,715.1L748.6,714.1L749.8,713.2L751.0,712.2L752.1,711.3L753.3,710.4L754.6,709.5L755.8,708.7L757.0,707.8L758.3,707.0L759.5,706.2L760.8,705.4L762.1,704.6L763.4,703.8L764.7,703.1L766.0,702.3L767.3,701.6L768.6,700.9L770.0,700.3L771.3,699.6L772.6,698.9L774.0,698.3L775.4,697.7L776.7,697.1L778.1,696.5L779.5,695.9L780.9,695.4L782.3,694.8L783.7,694.3L785.1,693.7L786.5,693.2L787.9,692.7L789.3,692.2L790.8,691.8L792.2,691.3L793.6,690.8L795.0,690.4L796.5,690.0L797.9,689.5L799.4,689.1L800.8,688.7L802.3,688.3L803.7,688.0L805.2,687.6L806.6,687.2L808.1,686.9L809.5,686.5L811.0,686.2L812.4,685.8L813.9,685.5L815.4,685.2L816.8,684.9L818.3,684.6L819.8,684.3L821.3,684.0L822.7,683.7L824.2,683.4L825.7,683.1L827.1,682.8L828.6,682.6L830.1,682.3L831.6,682.1L833.1,681.8L834.5,681.6L836.0,681.3L837.5,681.1L839.0,680.8L840.5,680.6L841.9,680.4L843.4,680.1L844.9,679.9L846.4,679.7L847.9,679.5L849.4,679.3L850.8,679.0L852.3,678.8L853.8,678.6L855.3,678.4L856.8,678.2L858.3,678.0L859.7,677.8L861.2,677.6L862.7,677.4L864.2,677.1L865.7,676.9L867.2,676.7L868.7,676.5L870.1,676.3L871.6,676.1L873.1,675.9L874.6,675.6L876.1,675.4L877.6,675.2L879.0,675.0L880.5,674.7L882.0,674.5L882.0,674.5"/>
<path fill="none" stroke="#fff" stroke-width="1.7" stroke-linejoin="round" d="M883.0,661.9L884.5,662.1L886.0,662.4L887.5,662.6L888.9,662.8L890.4,663.0L891.9,663.2L893.4,663.3L894.9,663.5L896.4,663.6L897.9,663.8L899.4,663.9L900.9,664.0L902.4,664.1L903.9,664.2L905.4,664.3L906.9,664.4L908.4,664.4L909.8,664.5L911.3,664.6L912.8,664.6L914.3,664.7L915.8,664.7L917.3,664.8L918.8,664.8L920.3,664.9L921.8,664.9L923.3,664.9L924.8,665.0L926.3,665.0L927.8,665.0L929.3,665.0L930.8,665.1L932.3,665.1L933.8,665.1L935.3,665.1L936.8,665.1L938.3,665.2L939.8,665.2L941.3,665.2L942.8,665.2L944.3,665.3L945.8,665.3L947.3,665.3L948.8,665.4L950.3,665.4L951.8,665.4L953.3,665.5L954.8,665.5L956.3,665.6L957.8,665.7L959.3,665.7L960.8,665.8L962.3,665.9L963.8,665.9L965.3,666.0L966.8,666.1L968.3,666.2L969.8,666.3L971.3,666.5L972.8,666.6L974.3,666.7L975.8,666.9L977.3,667.0L978.7,667.2L980.2,667.4L981.7,667.6L983.2,667.8L984.7,668.0L986.2,668.2L987.7,668.4L989.1,668.7L990.6,668.9L992.1,669.2L993.6,669.5L995.0,669.8L996.5,670.1L997.9,670.4L999.4,670.8L1000.9,671.2L1002.3,671.5L1003.8,672.0L1005.2,672.4L1006.6,672.8L1008.1,673.3L1009.5,673.7L1010.9,674.2L1012.3,674.8L1013.7,675.3L1015.1,675.9L1016.5,676.5L1017.8,677.1L1019.2,677.7L1020.5,678.3L1021.9,679.0L1023.2,679.7L1024.5,680.4L1025.8,681.2L1027.1,681.9L1028.4,682.7L1029.7,683.5L1030.9,684.3L1032.2,685.1L1033.4,686.0L1034.6,686.9L1035.8,687.8L1037.0,688.7L1038.2,689.7L1039.3,690.6L1040.5,691.6L1041.6,692.6L1042.7,693.6L1043.8,694.6L1044.8,695.7L1045.9,696.7L1046.9,697.8L1048.0,698.9L1048.9,700.1L1049.9,701.2L1050.9,702.3L1051.8,703.5L1052.8,704.7L1053.7,705.9L1054.6,707.1L1055.4,708.3L1056.3,709.5L1057.1,710.8L1057.9,712.1L1058.7,713.3L1059.5,714.6L1060.2,715.9L1060.9,717.2L1061.6,718.6L1062.3,719.9L1063.0,721.2L1063.6,722.6L1064.2,724.0L1064.8,725.3L1065.4,726.7L1065.9,728.1L1066.5,729.5L1067.0,730.9L1067.5,732.3L1067.9,733.8L1068.4,735.2L1068.8,736.6L1069.2,738.1L1069.6,739.5L1070.0,741.0L1070.4,742.4L1070.7,743.9L1071.0,745.4L1071.3,746.8L1071.6,748.3L1071.9,749.8L1072.1,751.3L1072.3,752.7L1072.5,754.2L1072.7,755.7L1072.9,757.2L1073.1,758.7L1073.2,760.2L1073.3,761.7L1073.5,763.2L1073.5,764.7L1073.6,766.2L1073.7,767.7L1073.7,769.2L1073.8,770.7L1073.8,772.2L1073.8,773.7L1073.8,775.2L1073.7,776.7L1073.7,778.2L1073.6,779.7L1073.5,781.2L1073.4,782.6L1073.3,784.1L1073.2,785.6L1073.0,787.1L1072.9,788.5L1072.6,789.6L1072.2,789.7L1071.6,788.8L1071.0,787.6L1070.4,786.2L1069.7,784.9L1069.0,783.5L1068.4,782.2L1067.7,780.8L1067.0,779.5L1066.3,778.2L1065.7,776.8L1065.0,775.5L1064.3,774.2L1063.6,772.9L1062.9,771.5L1062.1,770.2L1061.4,768.9L1060.7,767.6L1059.9,766.3L1059.2,765.0L1058.5,763.7L1057.7,762.4L1056.9,761.1L1056.2,759.8L1055.4,758.5L1054.6,757.2L1053.8,756.0L1053.0,754.7L1052.2,753.4L1051.4,752.2L1050.6,750.9L1049.8,749.7L1048.9,748.4L1048.1,747.2L1047.2,746.0L1046.4,744.7L1045.5,743.5L1044.6,742.3L1043.7,741.1L1042.8,739.9L1041.9,738.7L1041.0,737.5L1040.1,736.3L1039.2,735.1L1038.2,734.0L1037.3,732.8L1036.3,731.7L1035.3,730.5L1034.3,729.4L1033.4,728.3L1032.4,727.1L1031.4,726.0L1030.3,724.9L1029.3,723.8L1028.3,722.8L1027.2,721.7L1026.1,720.6L1025.1,719.6L1024.0,718.6L1022.9,717.5L1021.8,716.5L1020.7,715.5L1019.6,714.5L1018.4,713.5L1017.3,712.6L1016.1,711.6L1015.0,710.7L1013.8,709.7L1012.6,708.8L1011.4,707.9L1010.2,707.1L1009.0,706.2L1007.7,705.3L1006.5,704.5L1005.2,703.7L1004.0,702.9L1002.7,702.1L1001.4,701.3L1000.1,700.5L998.8,699.8L997.5,699.1L996.2,698.4L994.8,697.7L993.5,697.0L992.1,696.4L990.8,695.7L989.4,695.1L988.1,694.5L986.7,693.9L985.3,693.3L983.9,692.8L982.5,692.2L981.1,691.7L979.7,691.2L978.3,690.7L976.9,690.2L975.5,689.7L974.0,689.2L972.6,688.8L971.2,688.3L969.7,687.9L968.3,687.5L966.8,687.1L965.4,686.7L964.0,686.3L962.5,685.9L961.0,685.5L959.6,685.2L958.1,684.8L956.7,684.5L955.2,684.2L953.7,683.8L952.3,683.5L950.8,683.2L949.3,682.9L947.9,682.6L946.4,682.4L944.9,682.1L943.4,681.8L942.0,681.6L940.5,681.3L939.0,681.1L937.5,680.8L936.1,680.6L934.6,680.3L933.1,680.1L931.6,679.9L930.1,679.7L928.6,679.5L927.2,679.3L925.7,679.1L924.2,678.9L922.7,678.7L921.2,678.5L919.7,678.3L918.2,678.1L916.7,677.9L915.3,677.7L913.8,677.5L912.3,677.4L910.8,677.2L909.3,677.0L907.8,676.8L906.3,676.7L904.8,676.5L903.3,676.3L901.9,676.2L900.4,676.0L898.9,675.8L897.4,675.6L895.9,675.5L894.4,675.3L892.9,675.1L891.4,674.9L889.9,674.8L888.5,674.6L887.0,674.4L885.5,674.2L884.0,674.0L883.0,673.9"/>
<line x1="331.50" y1="94.50" x2="331.50" y2="445.30" stroke="#3a3a3a" stroke-width="0.9" stroke-dasharray="7.2 4.45" stroke-dashoffset="-4.4"/>
<line x1="97.50" y1="269.90" x2="565.50" y2="269.90" stroke="#8d939b" stroke-width="1.7"/>
<line x1="97.50" y1="269.90" x2="565.50" y2="269.90" stroke="#ffffff" stroke-width="1.7" stroke-dasharray="4.3 7.4" stroke-dashoffset="-7.7"/>
<path d="M97.50,436.53h2.6M565.50,436.53h-2.6M97.50,427.76h2.6M565.50,427.76h-2.6M97.50,418.99h2.6M565.50,418.99h-2.6M97.50,410.22h2.6M565.50,410.22h-2.6M97.50,401.45h5.0M565.50,401.45h-5.0M97.50,392.68h2.6M565.50,392.68h-2.6M97.50,383.91h2.6M565.50,383.91h-2.6M97.50,375.14h2.6M565.50,375.14h-2.6M97.50,366.37h2.6M565.50,366.37h-2.6M97.50,357.60h5.0M565.50,357.60h-5.0M97.50,348.83h2.6M565.50,348.83h-2.6M97.50,340.06h2.6M565.50,340.06h-2.6M97.50,331.29h2.6M565.50,331.29h-2.6M97.50,322.52h2.6M565.50,322.52h-2.6M97.50,313.75h5.0M565.50,313.75h-5.0M97.50,304.98h2.6M565.50,304.98h-2.6M97.50,296.21h2.6M565.50,296.21h-2.6M97.50,287.44h2.6M565.50,287.44h-2.6M97.50,278.67h2.6M565.50,278.67h-2.6M97.50,269.90h5.0M565.50,269.90h-5.0M97.50,261.13h2.6M565.50,261.13h-2.6M97.50,252.36h2.6M565.50,252.36h-2.6M97.50,243.59h2.6M565.50,243.59h-2.6M97.50,234.82h2.6M565.50,234.82h-2.6M97.50,226.05h5.0M565.50,226.05h-5.0M97.50,217.28h2.6M565.50,217.28h-2.6M97.50,208.51h2.6M565.50,208.51h-2.6M97.50,199.74h2.6M565.50,199.74h-2.6M97.50,190.97h2.6M565.50,190.97h-2.6M97.50,182.20h5.0M565.50,182.20h-5.0M97.50,173.43h2.6M565.50,173.43h-2.6M97.50,164.66h2.6M565.50,164.66h-2.6M97.50,155.89h2.6M565.50,155.89h-2.6M97.50,147.12h2.6M565.50,147.12h-2.6M97.50,138.35h5.0M565.50,138.35h-5.0M97.50,129.58h2.6M565.50,129.58h-2.6M97.50,120.81h2.6M565.50,120.81h-2.6M97.50,112.04h2.6M565.50,112.04h-2.6M97.50,103.27h2.6M565.50,103.27h-2.6M120.90,94.50v2.6M120.90,445.30v-2.6M144.30,94.50v2.6M144.30,445.30v-2.6M167.70,94.50v2.6M167.70,445.30v-2.6M191.10,94.50v2.6M191.10,445.30v-2.6M214.50,94.50v5.0M214.50,445.30v-5.0M237.90,94.50v2.6M237.90,445.30v-2.6M261.30,94.50v2.6M261.30,445.30v-2.6M284.70,94.50v2.6M284.70,445.30v-2.6M308.10,94.50v2.6M308.10,445.30v-2.6M542.10,94.50v2.6M542.10,445.30v-2.6M518.70,94.50v2.6M518.70,445.30v-2.6M495.30,94.50v2.6M495.30,445.30v-2.6M471.90,94.50v2.6M471.90,445.30v-2.6M448.50,94.50v5.0M448.50,445.30v-5.0M425.10,94.50v2.6M425.10,445.30v-2.6M401.70,94.50v2.6M401.70,445.30v-2.6M378.30,94.50v2.6M378.30,445.30v-2.6M354.90,94.50v2.6M354.90,445.30v-2.6M331.50,94.50v5M331.50,445.30v-5" stroke="#000" stroke-width="1.05" fill="none"/>
<rect x="97.50" y="94.50" width="468.00" height="350.80" fill="none" stroke="#111" stroke-width="1.1"/>
<text x="86.6" y="146.85" font-size="25" text-anchor="end">150</text>
<text x="86.6" y="190.70" font-size="25" text-anchor="end">100</text>
<text x="86.6" y="234.55" font-size="25" text-anchor="end">50</text>
<text x="86.6" y="278.40" font-size="25" text-anchor="end">0</text>
<text x="86.6" y="322.25" font-size="25" text-anchor="end">50</text>
<text x="86.6" y="366.10" font-size="25" text-anchor="end">100</text>
<text x="86.6" y="409.95" font-size="25" text-anchor="end">150</text>
<text x="205.70" y="195.50" font-size="25" font-style="italic">Ec</text><text transform="translate(231.30,201.70) scale(1.2,1)" font-size="21">∞</text><path d="M254.60,186.20h16.9v1.3h-16.9zM254.60,191.30h16.9v1.3h-16.9z" fill="#000"/><text x="277.90" y="195.50" font-size="25">0.05</text>
<text x="348.60" y="195.50" font-size="25" font-style="italic">Ec</text><text transform="translate(374.20,201.70) scale(1.2,1)" font-size="21">∞</text><path d="M397.50,186.20h16.9v1.3h-16.9zM397.50,191.30h16.9v1.3h-16.9z" fill="#000"/><text x="420.80" y="195.50" font-size="25">0.10</text>
<text x="205.70" y="373.10" font-size="25" font-style="italic">Ec</text><text transform="translate(231.30,379.30) scale(1.2,1)" font-size="21">∞</text><path d="M254.60,363.80h16.9v1.3h-16.9zM254.60,368.90h16.9v1.3h-16.9z" fill="#000"/><text x="277.90" y="373.10" font-size="25">0.15</text>
<text x="348.60" y="373.10" font-size="25" font-style="italic">Ec</text><text transform="translate(374.20,379.30) scale(1.2,1)" font-size="21">∞</text><path d="M397.50,363.80h16.9v1.3h-16.9zM397.50,368.90h16.9v1.3h-16.9z" fill="#000"/><text x="420.80" y="373.10" font-size="25">0.20</text>
<line x1="882.50" y1="94.50" x2="882.50" y2="445.30" stroke="#3a3a3a" stroke-width="0.9" stroke-dasharray="7.2 4.45" stroke-dashoffset="-4.4"/>
<line x1="649.00" y1="269.90" x2="1116.00" y2="269.90" stroke="#8d939b" stroke-width="1.7"/>
<line x1="649.00" y1="269.90" x2="1116.00" y2="269.90" stroke="#ffffff" stroke-width="1.7" stroke-dasharray="4.3 7.4" stroke-dashoffset="-7.7"/>
<path d="M649.00,436.53h2.6M1116.00,436.53h-2.6M649.00,427.76h2.6M1116.00,427.76h-2.6M649.00,418.99h2.6M1116.00,418.99h-2.6M649.00,410.22h2.6M1116.00,410.22h-2.6M649.00,401.45h5.0M1116.00,401.45h-5.0M649.00,392.68h2.6M1116.00,392.68h-2.6M649.00,383.91h2.6M1116.00,383.91h-2.6M649.00,375.14h2.6M1116.00,375.14h-2.6M649.00,366.37h2.6M1116.00,366.37h-2.6M649.00,357.60h5.0M1116.00,357.60h-5.0M649.00,348.83h2.6M1116.00,348.83h-2.6M649.00,340.06h2.6M1116.00,340.06h-2.6M649.00,331.29h2.6M1116.00,331.29h-2.6M649.00,322.52h2.6M1116.00,322.52h-2.6M649.00,313.75h5.0M1116.00,313.75h-5.0M649.00,304.98h2.6M1116.00,304.98h-2.6M649.00,296.21h2.6M1116.00,296.21h-2.6M649.00,287.44h2.6M1116.00,287.44h-2.6M649.00,278.67h2.6M1116.00,278.67h-2.6M649.00,269.90h5.0M1116.00,269.90h-5.0M649.00,261.13h2.6M1116.00,261.13h-2.6M649.00,252.36h2.6M1116.00,252.36h-2.6M649.00,243.59h2.6M1116.00,243.59h-2.6M649.00,234.82h2.6M1116.00,234.82h-2.6M649.00,226.05h5.0M1116.00,226.05h-5.0M649.00,217.28h2.6M1116.00,217.28h-2.6M649.00,208.51h2.6M1116.00,208.51h-2.6M649.00,199.74h2.6M1116.00,199.74h-2.6M649.00,190.97h2.6M1116.00,190.97h-2.6M649.00,182.20h5.0M1116.00,182.20h-5.0M649.00,173.43h2.6M1116.00,173.43h-2.6M649.00,164.66h2.6M1116.00,164.66h-2.6M649.00,155.89h2.6M1116.00,155.89h-2.6M649.00,147.12h2.6M1116.00,147.12h-2.6M649.00,138.35h5.0M1116.00,138.35h-5.0M649.00,129.58h2.6M1116.00,129.58h-2.6M649.00,120.81h2.6M1116.00,120.81h-2.6M649.00,112.04h2.6M1116.00,112.04h-2.6M649.00,103.27h2.6M1116.00,103.27h-2.6M672.35,94.50v2.6M672.35,445.30v-2.6M695.70,94.50v2.6M695.70,445.30v-2.6M719.05,94.50v2.6M719.05,445.30v-2.6M742.40,94.50v2.6M742.40,445.30v-2.6M765.75,94.50v5.0M765.75,445.30v-5.0M789.10,94.50v2.6M789.10,445.30v-2.6M812.45,94.50v2.6M812.45,445.30v-2.6M835.80,94.50v2.6M835.80,445.30v-2.6M859.15,94.50v2.6M859.15,445.30v-2.6M1092.65,94.50v2.6M1092.65,445.30v-2.6M1069.30,94.50v2.6M1069.30,445.30v-2.6M1045.95,94.50v2.6M1045.95,445.30v-2.6M1022.60,94.50v2.6M1022.60,445.30v-2.6M999.25,94.50v5.0M999.25,445.30v-5.0M975.90,94.50v2.6M975.90,445.30v-2.6M952.55,94.50v2.6M952.55,445.30v-2.6M929.20,94.50v2.6M929.20,445.30v-2.6M905.85,94.50v2.6M905.85,445.30v-2.6M882.50,94.50v5M882.50,445.30v-5" stroke="#000" stroke-width="1.05" fill="none"/>
<rect x="649.00" y="94.50" width="467.00" height="350.80" fill="none" stroke="#111" stroke-width="1.1"/>
<text x="751.50" y="195.50" font-size="25" font-style="italic">Ec</text><text transform="translate(777.10,201.70) scale(1.2,1)" font-size="21">∞</text><path d="M800.40,186.20h16.9v1.3h-16.9zM800.40,191.30h16.9v1.3h-16.9z" fill="#000"/><text x="823.70" y="195.50" font-size="25">0.05</text>
<text x="903.10" y="195.50" font-size="25" font-style="italic">Ec</text><text transform="translate(928.70,201.70) scale(1.2,1)" font-size="21">∞</text><path d="M952.00,186.20h16.9v1.3h-16.9zM952.00,191.30h16.9v1.3h-16.9z" fill="#000"/><text x="975.30" y="195.50" font-size="25">0.10</text>
<text x="751.50" y="373.10" font-size="25" font-style="italic">Ec</text><text transform="translate(777.10,379.30) scale(1.2,1)" font-size="21">∞</text><path d="M800.40,363.80h16.9v1.3h-16.9zM800.40,368.90h16.9v1.3h-16.9z" fill="#000"/><text x="823.70" y="373.10" font-size="25">0.15</text>
<text x="903.10" y="373.10" font-size="25" font-style="italic">Ec</text><text transform="translate(928.70,379.30) scale(1.2,1)" font-size="21">∞</text><path d="M952.00,363.80h16.9v1.3h-16.9zM952.00,368.90h16.9v1.3h-16.9z" fill="#000"/><text x="975.30" y="373.10" font-size="25">0.20</text>
<line x1="331.50" y1="481.60" x2="331.50" y2="832.20" stroke="#3a3a3a" stroke-width="0.9" stroke-dasharray="7.2 4.45" stroke-dashoffset="-4.4"/>
<line x1="97.50" y1="656.90" x2="565.50" y2="656.90" stroke="#8d939b" stroke-width="1.7"/>
<line x1="97.50" y1="656.90" x2="565.50" y2="656.90" stroke="#ffffff" stroke-width="1.7" stroke-dasharray="4.3 7.4" stroke-dashoffset="-7.7"/>
<path d="M97.50,823.44h2.6M565.50,823.44h-2.6M97.50,814.67h2.6M565.50,814.67h-2.6M97.50,805.91h2.6M565.50,805.91h-2.6M97.50,797.14h2.6M565.50,797.14h-2.6M97.50,788.38h5.0M565.50,788.38h-5.0M97.50,779.61h2.6M565.50,779.61h-2.6M97.50,770.85h2.6M565.50,770.85h-2.6M97.50,762.08h2.6M565.50,762.08h-2.6M97.50,753.32h2.6M565.50,753.32h-2.6M97.50,744.55h5.0M565.50,744.55h-5.0M97.50,735.79h2.6M565.50,735.79h-2.6M97.50,727.02h2.6M565.50,727.02h-2.6M97.50,718.26h2.6M565.50,718.26h-2.6M97.50,709.49h2.6M565.50,709.49h-2.6M97.50,700.73h5.0M565.50,700.73h-5.0M97.50,691.96h2.6M565.50,691.96h-2.6M97.50,683.20h2.6M565.50,683.20h-2.6M97.50,674.43h2.6M565.50,674.43h-2.6M97.50,665.67h2.6M565.50,665.67h-2.6M97.50,656.90h5.0M565.50,656.90h-5.0M97.50,648.14h2.6M565.50,648.14h-2.6M97.50,639.37h2.6M565.50,639.37h-2.6M97.50,630.61h2.6M565.50,630.61h-2.6M97.50,621.84h2.6M565.50,621.84h-2.6M97.50,613.08h5.0M565.50,613.08h-5.0M97.50,604.31h2.6M565.50,604.31h-2.6M97.50,595.55h2.6M565.50,595.55h-2.6M97.50,586.78h2.6M565.50,586.78h-2.6M97.50,578.02h2.6M565.50,578.02h-2.6M97.50,569.25h5.0M565.50,569.25h-5.0M97.50,560.49h2.6M565.50,560.49h-2.6M97.50,551.72h2.6M565.50,551.72h-2.6M97.50,542.96h2.6M565.50,542.96h-2.6M97.50,534.19h2.6M565.50,534.19h-2.6M97.50,525.43h5.0M565.50,525.43h-5.0M97.50,516.66h2.6M565.50,516.66h-2.6M97.50,507.90h2.6M565.50,507.90h-2.6M97.50,499.13h2.6M565.50,499.13h-2.6M97.50,490.37h2.6M565.50,490.37h-2.6M120.90,481.60v2.6M120.90,832.20v-2.6M144.30,481.60v2.6M144.30,832.20v-2.6M167.70,481.60v2.6M167.70,832.20v-2.6M191.10,481.60v2.6M191.10,832.20v-2.6M214.50,481.60v5.0M214.50,832.20v-5.0M237.90,481.60v2.6M237.90,832.20v-2.6M261.30,481.60v2.6M261.30,832.20v-2.6M284.70,481.60v2.6M284.70,832.20v-2.6M308.10,481.60v2.6M308.10,832.20v-2.6M542.10,481.60v2.6M542.10,832.20v-2.6M518.70,481.60v2.6M518.70,832.20v-2.6M495.30,481.60v2.6M495.30,832.20v-2.6M471.90,481.60v2.6M471.90,832.20v-2.6M448.50,481.60v5.0M448.50,832.20v-5.0M425.10,481.60v2.6M425.10,832.20v-2.6M401.70,481.60v2.6M401.70,832.20v-2.6M378.30,481.60v2.6M378.30,832.20v-2.6M354.90,481.60v2.6M354.90,832.20v-2.6M331.50,481.60v5M331.50,832.20v-5" stroke="#000" stroke-width="1.05" fill="none"/>
<rect x="97.50" y="481.60" width="468.00" height="350.60" fill="none" stroke="#111" stroke-width="1.1"/>
<text x="86.6" y="533.93" font-size="25" text-anchor="end">150</text>
<text x="86.6" y="577.75" font-size="25" text-anchor="end">100</text>
<text x="86.6" y="621.58" font-size="25" text-anchor="end">50</text>
<text x="86.6" y="665.40" font-size="25" text-anchor="end">0</text>
<text x="86.6" y="709.23" font-size="25" text-anchor="end">50</text>
<text x="86.6" y="753.05" font-size="25" text-anchor="end">100</text>
<text x="86.6" y="796.88" font-size="25" text-anchor="end">150</text>
<text x="212.70" y="860.2" font-size="25.5" text-anchor="middle">1000</text>
<text x="329.70" y="860.2" font-size="25.5" text-anchor="middle">2000</text>
<text x="446.70" y="860.2" font-size="25.5" text-anchor="middle">1000</text>
<text x="205.70" y="578.80" font-size="25" font-style="italic">Ec</text><text transform="translate(231.30,585.00) scale(1.2,1)" font-size="21">∞</text><path d="M254.60,569.50h16.9v1.3h-16.9zM254.60,574.60h16.9v1.3h-16.9z" fill="#000"/><text x="277.90" y="578.80" font-size="25">0.05</text>
<text x="348.60" y="578.80" font-size="25" font-style="italic">Ec</text><text transform="translate(374.20,585.00) scale(1.2,1)" font-size="21">∞</text><path d="M397.50,569.50h16.9v1.3h-16.9zM397.50,574.60h16.9v1.3h-16.9z" fill="#000"/><text x="420.80" y="578.80" font-size="25">0.10</text>
<text x="205.70" y="756.30" font-size="25" font-style="italic">Ec</text><text transform="translate(231.30,762.50) scale(1.2,1)" font-size="21">∞</text><path d="M254.60,747.00h16.9v1.3h-16.9zM254.60,752.10h16.9v1.3h-16.9z" fill="#000"/><text x="277.90" y="756.30" font-size="25">0.15</text>
<text x="348.60" y="756.30" font-size="25" font-style="italic">Ec</text><text transform="translate(374.20,762.50) scale(1.2,1)" font-size="21">∞</text><path d="M397.50,747.00h16.9v1.3h-16.9zM397.50,752.10h16.9v1.3h-16.9z" fill="#000"/><text x="420.80" y="756.30" font-size="25">0.20</text>
<line x1="882.50" y1="481.60" x2="882.50" y2="832.20" stroke="#3a3a3a" stroke-width="0.9" stroke-dasharray="7.2 4.45" stroke-dashoffset="-4.4"/>
<line x1="649.00" y1="656.90" x2="1116.00" y2="656.90" stroke="#8d939b" stroke-width="1.7"/>
<line x1="649.00" y1="656.90" x2="1116.00" y2="656.90" stroke="#ffffff" stroke-width="1.7" stroke-dasharray="4.3 7.4" stroke-dashoffset="-7.7"/>
<path d="M649.00,823.44h2.6M1116.00,823.44h-2.6M649.00,814.67h2.6M1116.00,814.67h-2.6M649.00,805.91h2.6M1116.00,805.91h-2.6M649.00,797.14h2.6M1116.00,797.14h-2.6M649.00,788.38h5.0M1116.00,788.38h-5.0M649.00,779.61h2.6M1116.00,779.61h-2.6M649.00,770.85h2.6M1116.00,770.85h-2.6M649.00,762.08h2.6M1116.00,762.08h-2.6M649.00,753.32h2.6M1116.00,753.32h-2.6M649.00,744.55h5.0M1116.00,744.55h-5.0M649.00,735.79h2.6M1116.00,735.79h-2.6M649.00,727.02h2.6M1116.00,727.02h-2.6M649.00,718.26h2.6M1116.00,718.26h-2.6M649.00,709.49h2.6M1116.00,709.49h-2.6M649.00,700.73h5.0M1116.00,700.73h-5.0M649.00,691.96h2.6M1116.00,691.96h-2.6M649.00,683.20h2.6M1116.00,683.20h-2.6M649.00,674.43h2.6M1116.00,674.43h-2.6M649.00,665.67h2.6M1116.00,665.67h-2.6M649.00,656.90h5.0M1116.00,656.90h-5.0M649.00,648.14h2.6M1116.00,648.14h-2.6M649.00,639.37h2.6M1116.00,639.37h-2.6M649.00,630.61h2.6M1116.00,630.61h-2.6M649.00,621.84h2.6M1116.00,621.84h-2.6M649.00,613.08h5.0M1116.00,613.08h-5.0M649.00,604.31h2.6M1116.00,604.31h-2.6M649.00,595.55h2.6M1116.00,595.55h-2.6M649.00,586.78h2.6M1116.00,586.78h-2.6M649.00,578.02h2.6M1116.00,578.02h-2.6M649.00,569.25h5.0M1116.00,569.25h-5.0M649.00,560.49h2.6M1116.00,560.49h-2.6M649.00,551.72h2.6M1116.00,551.72h-2.6M649.00,542.96h2.6M1116.00,542.96h-2.6M649.00,534.19h2.6M1116.00,534.19h-2.6M649.00,525.43h5.0M1116.00,525.43h-5.0M649.00,516.66h2.6M1116.00,516.66h-2.6M649.00,507.90h2.6M1116.00,507.90h-2.6M649.00,499.13h2.6M1116.00,499.13h-2.6M649.00,490.37h2.6M1116.00,490.37h-2.6M672.35,481.60v2.6M672.35,832.20v-2.6M695.70,481.60v2.6M695.70,832.20v-2.6M719.05,481.60v2.6M719.05,832.20v-2.6M742.40,481.60v2.6M742.40,832.20v-2.6M765.75,481.60v5.0M765.75,832.20v-5.0M789.10,481.60v2.6M789.10,832.20v-2.6M812.45,481.60v2.6M812.45,832.20v-2.6M835.80,481.60v2.6M835.80,832.20v-2.6M859.15,481.60v2.6M859.15,832.20v-2.6M1092.65,481.60v2.6M1092.65,832.20v-2.6M1069.30,481.60v2.6M1069.30,832.20v-2.6M1045.95,481.60v2.6M1045.95,832.20v-2.6M1022.60,481.60v2.6M1022.60,832.20v-2.6M999.25,481.60v5.0M999.25,832.20v-5.0M975.90,481.60v2.6M975.90,832.20v-2.6M952.55,481.60v2.6M952.55,832.20v-2.6M929.20,481.60v2.6M929.20,832.20v-2.6M905.85,481.60v2.6M905.85,832.20v-2.6M882.50,481.60v5M882.50,832.20v-5" stroke="#000" stroke-width="1.05" fill="none"/>
<rect x="649.00" y="481.60" width="467.00" height="350.60" fill="none" stroke="#111" stroke-width="1.1"/>
<text x="763.95" y="860.2" font-size="25.5" text-anchor="middle">1000</text>
<text x="880.70" y="860.2" font-size="25.5" text-anchor="middle">2000</text>
<text x="997.45" y="860.2" font-size="25.5" text-anchor="middle">1000</text>
<text x="751.50" y="578.80" font-size="25" font-style="italic">Ec</text><text transform="translate(777.10,585.00) scale(1.2,1)" font-size="21">∞</text><path d="M800.40,569.50h16.9v1.3h-16.9zM800.40,574.60h16.9v1.3h-16.9z" fill="#000"/><text x="823.70" y="578.80" font-size="25">0.05</text>
<text x="903.10" y="578.80" font-size="25" font-style="italic">Ec</text><text transform="translate(928.70,585.00) scale(1.2,1)" font-size="21">∞</text><path d="M952.00,569.50h16.9v1.3h-16.9zM952.00,574.60h16.9v1.3h-16.9z" fill="#000"/><text x="975.30" y="578.80" font-size="25">0.10</text>
<text x="751.50" y="756.30" font-size="25" font-style="italic">Ec</text><text transform="translate(777.10,762.50) scale(1.2,1)" font-size="21">∞</text><path d="M800.40,747.00h16.9v1.3h-16.9zM800.40,752.10h16.9v1.3h-16.9z" fill="#000"/><text x="823.70" y="756.30" font-size="25">0.15</text>
<text x="903.10" y="756.30" font-size="25" font-style="italic">Ec</text><text transform="translate(928.70,762.50) scale(1.2,1)" font-size="21">∞</text><path d="M952.00,747.00h16.9v1.3h-16.9zM952.00,752.10h16.9v1.3h-16.9z" fill="#000"/><text x="975.30" y="756.30" font-size="25">0.20</text>
<text x="1.7" y="106.0" font-size="30">(<tspan font-style="italic">a</tspan>)</text>
<text x="602.2" y="115.0" font-size="30">(<tspan font-style="italic">b</tspan>)</text>
<text x="3.2" y="497.4" font-size="30">(<tspan font-style="italic">c</tspan>)</text>
<text x="601.2" y="497.2" font-size="30">(<tspan font-style="italic">d</tspan>)</text>
<g transform="translate(40,0.0) rotate(-90)"><text x="-330.4" y="0" font-size="30.5">10</text><text x="-296.8" y="-11.3" font-size="19">6</text><text x="-254.6" y="0" font-size="29" font-style="italic">F</text></g>
<path d="M25.9,265.7L39.4,279.6M25.9,279.6L39.4,265.7" stroke="#000" stroke-width="1.25"/>
<g transform="translate(40,374.8) rotate(-90)"><text x="-330.4" y="0" font-size="30.5">10</text><text x="-296.8" y="-11.3" font-size="19">6</text><text x="-254.6" y="0" font-size="29" font-style="italic">F</text></g>
<path d="M25.9,640.5L39.4,654.4000000000001M25.9,654.4000000000001L39.4,640.5" stroke="#000" stroke-width="1.25"/>
<text x="308.0" y="899.3" font-size="30" font-style="italic">Re<tspan font-size="20" dy="4.5">δ</tspan></text>
<text x="859.0" y="899.3" font-size="30" font-style="italic">Re<tspan font-size="20" dy="4.5">δ</tspan></text>
<rect x="311.70" y="34.4" width="62.06" height="14.50" fill="#000000"/>
<rect x="373.46" y="34.4" width="62.06" height="14.50" fill="#2D1C12"/>
<rect x="435.22" y="34.4" width="62.06" height="14.50" fill="#5B3924"/>
<rect x="496.99" y="34.4" width="62.06" height="14.50" fill="#895536"/>
<rect x="558.75" y="34.4" width="62.06" height="14.50" fill="#B67248"/>
<rect x="620.51" y="34.4" width="62.06" height="14.50" fill="#E48E5A"/>
<rect x="682.27" y="34.4" width="62.06" height="14.50" fill="#FFAB6D"/>
<rect x="744.04" y="34.4" width="62.06" height="14.50" fill="#FFC77F"/>
<rect x="311.7" y="34.4" width="494.10" height="14.50" fill="none" stroke="#444" stroke-width="0.8"/>
<line x1="311.70" y1="29.0" x2="311.70" y2="34.4" stroke="#555" stroke-width="0.9"/>
<text x="311.70" y="21.2" font-size="26" text-anchor="middle">0.2</text>
<line x1="435.22" y1="29.0" x2="435.22" y2="34.4" stroke="#555" stroke-width="0.9"/>
<text x="435.22" y="21.2" font-size="26" text-anchor="middle">0.3</text>
<line x1="558.75" y1="29.0" x2="558.75" y2="34.4" stroke="#555" stroke-width="0.9"/>
<text x="558.75" y="21.2" font-size="26" text-anchor="middle">0.4</text>
<line x1="682.27" y1="29.0" x2="682.27" y2="34.4" stroke="#555" stroke-width="0.9"/>
<text x="682.27" y="21.2" font-size="26" text-anchor="middle">0.5</text>
<line x1="805.80" y1="29.0" x2="805.80" y2="34.4" stroke="#555" stroke-width="0.9"/>
<text x="805.80" y="21.2" font-size="26" text-anchor="middle">0.6</text>
<text x="273.5" y="49.4" font-size="30" font-style="italic">c</text>
</svg></body></html>
